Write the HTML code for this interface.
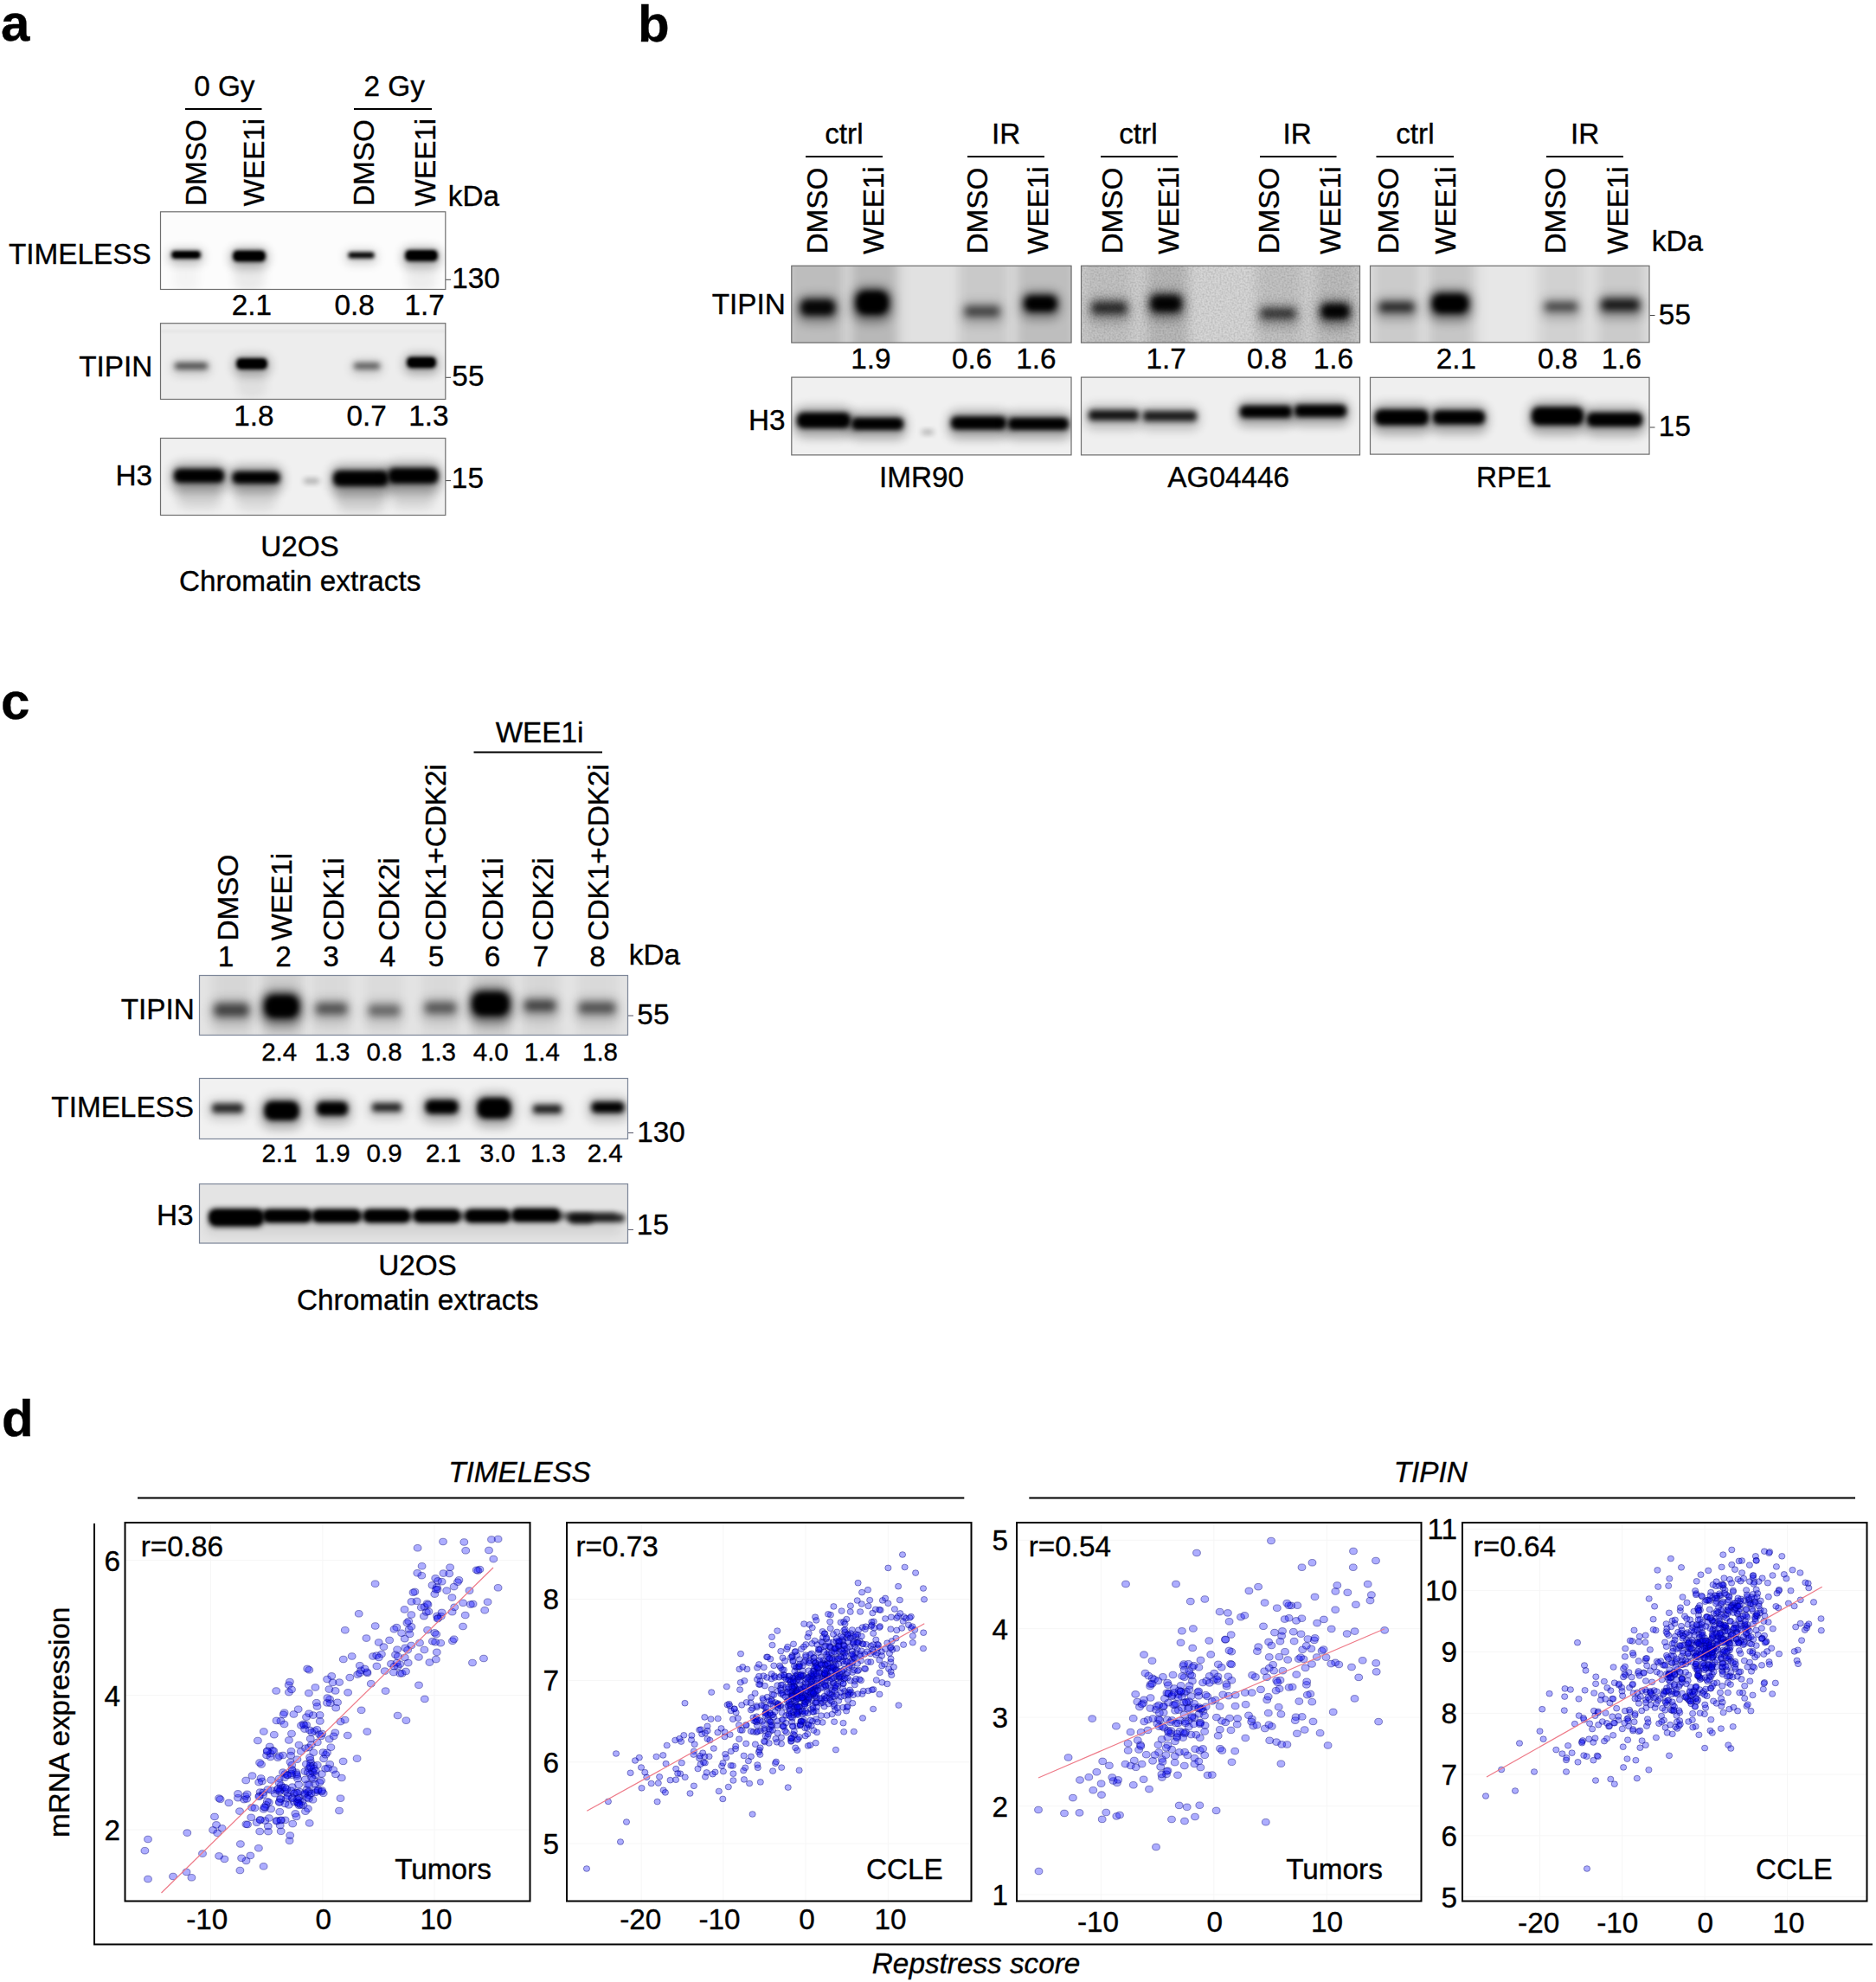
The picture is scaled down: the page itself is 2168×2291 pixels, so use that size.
<!DOCTYPE html>
<html><head><meta charset="utf-8"><title>Figure</title>
<style>
html,body{margin:0;padding:0;background:#fff}
svg{display:block}
text{font-family:"Liberation Sans",Arial,Helvetica,sans-serif;font-size:33.3px;fill:#000;stroke:#000;stroke-width:0.35px}
.b{font-weight:bold;font-size:60px}
.i{font-style:italic}
</style></head><body>
<svg width="2168" height="2291" viewBox="0 0 2168 2291">
<defs>
<filter id="b1" x="-30%" y="-100%" width="160%" height="300%"><feGaussianBlur stdDeviation="1.5"/></filter>
<filter id="b2" x="-30%" y="-100%" width="160%" height="300%"><feGaussianBlur stdDeviation="2.2"/></filter>
<filter id="b3" x="-30%" y="-100%" width="160%" height="300%"><feGaussianBlur stdDeviation="3"/></filter>
<filter id="b4" x="-40%" y="-150%" width="180%" height="400%"><feGaussianBlur stdDeviation="4"/></filter>
<filter id="b6" x="-50%" y="-200%" width="200%" height="500%"><feGaussianBlur stdDeviation="6"/></filter>
<filter id="b9" x="-60%" y="-250%" width="220%" height="600%"><feGaussianBlur stdDeviation="9"/></filter>
<filter id="noise" x="0" y="0" width="100%" height="100%"><feTurbulence type="fractalNoise" baseFrequency="0.5" numOctaves="2" seed="3"/><feColorMatrix type="matrix" values="0 0 0 0 0  0 0 0 0 0  0 0 0 0 0  1.6 0 0 0 -0.55"/></filter>
</defs>
<rect width="2168" height="2291" fill="#fff"/>

<text class="b" x="1" y="46.5">a</text>
<text class="b" x="737" y="47.5">b</text>
<text class="b" x="1" y="831">c</text>
<text class="b" x="2" y="1660">d</text>
<text x="224.203" y="111">0 Gy</text>
<line x1="214" y1="126" x2="302.5" y2="126" stroke="#000" stroke-width="2"/>
<text x="420.536" y="111">2 Gy</text>
<line x1="409" y1="126" x2="499" y2="126" stroke="#000" stroke-width="2"/>
<text transform="translate(237.5,238) rotate(-90)">DMSO</text>
<text transform="translate(304.5,238.5) rotate(-90)">WEE1i</text>
<text transform="translate(432,238) rotate(-90)">DMSO</text>
<text transform="translate(503,238.5) rotate(-90)">WEE1i</text>
<text x="517.752" y="238">kDa</text>
<text x="10.03" y="304.8">TIMELESS</text>
<text x="91.2657" y="434.5">TIPIN</text>
<text x="133.474" y="560.6">H3</text>
<line x1="515" y1="323.3" x2="521" y2="323.3" stroke="#444" stroke-width="1"/>
<text x="522.221" y="333">130</text>
<line x1="515" y1="436.3" x2="521" y2="436.3" stroke="#444" stroke-width="1"/>
<text x="522.369" y="445.7">55</text>
<line x1="515" y1="555.6" x2="521" y2="555.6" stroke="#444" stroke-width="1"/>
<text x="521.869" y="564">15</text>
<text x="267.815" y="363.7">2.1</text>
<text x="386.398" y="363.7">0.8</text>
<text x="467.44" y="363.7">1.7</text>
<text x="270.315" y="491.6">1.8</text>
<text x="400.523" y="491.6">0.7</text>
<text x="472.315" y="491.6">1.3</text>
<text x="301.171" y="642.5">U2OS</text>
<text x="207.015" y="682.5">Chromatin extracts</text>
<clipPath id="c1"><rect x="185" y="244.3" width="330.3" height="90.7"/></clipPath>
<g clip-path="url(#c1)">
<rect x="185" y="244.3" width="330.3" height="90.7" fill="#fcfcfc"/>
<rect x="270" y="298" width="36" height="40" rx="13.68" opacity="0.07" filter="url(#b6)"/>
<rect x="469" y="298" width="36" height="40" rx="13.68" opacity="0.06" filter="url(#b6)"/>
<rect x="200" y="298" width="30" height="40" rx="11.4" opacity="0.03" filter="url(#b6)"/>
<rect x="195" y="288" width="40" height="17" rx="6.46" opacity="0.25" filter="url(#b6)"/>
<rect x="198" y="290" width="34" height="9" rx="3.42" opacity="1" filter="url(#b2)"/>
<rect x="266" y="286.5" width="44" height="23" rx="8.74" opacity="0.3" filter="url(#b6)"/>
<rect x="269" y="289.5" width="38" height="13" rx="4.94" opacity="1" filter="url(#b2)"/>
<rect x="399.5" y="289.5" width="36" height="15" rx="5.7" opacity="0.2" filter="url(#b6)"/>
<rect x="402.5" y="291.5" width="30" height="7" rx="2.66" opacity="1" filter="url(#b2)"/>
<rect x="465" y="286" width="44" height="23" rx="8.74" opacity="0.3" filter="url(#b6)"/>
<rect x="468" y="289" width="38" height="13" rx="4.94" opacity="1" filter="url(#b2)"/>
<rect x="201" y="292" width="28" height="5" rx="1.9" opacity="1" filter="url(#b1)"/>
<rect x="272" y="292" width="32" height="8" rx="3.04" opacity="1" filter="url(#b1)"/>
<rect x="471" y="291" width="32" height="8" rx="3.04" opacity="1" filter="url(#b1)"/>
</g>
<rect x="185.5" y="244.8" width="329.3" height="89.7" fill="none" stroke="#6e6e6e" stroke-width="1.2"/>
<clipPath id="c2"><rect x="185" y="373.2" width="330.3" height="88.8"/></clipPath>
<g clip-path="url(#c2)">
<rect x="185" y="373.2" width="330.3" height="88.8" fill="#ededed"/>
<rect x="199" y="416.5" width="44" height="17" rx="6.46" opacity="0.17" filter="url(#b6)"/>
<rect x="202" y="419.5" width="38" height="7" rx="2.66" opacity="0.68" filter="url(#b3)"/>
<rect x="274" y="424" width="34" height="36" rx="12.92" opacity="0.06" filter="url(#b6)"/>
<rect x="270" y="411" width="42" height="23" rx="8.74" opacity="0.3" filter="url(#b6)"/>
<rect x="273" y="414" width="36" height="13" rx="4.94" opacity="1" filter="url(#b2)"/>
<rect x="276" y="416.5" width="30" height="8" rx="3.04" opacity="1" filter="url(#b1)"/>
<rect x="406" y="416.5" width="36" height="17" rx="6.46" opacity="0.15" filter="url(#b6)"/>
<rect x="409" y="419.5" width="30" height="7" rx="2.66" opacity="0.6" filter="url(#b3)"/>
<rect x="467" y="409.5" width="40" height="23" rx="8.74" opacity="0.3" filter="url(#b6)"/>
<rect x="470" y="412.5" width="34" height="13" rx="4.94" opacity="1" filter="url(#b2)"/>
<rect x="473" y="415" width="28" height="8" rx="3.04" opacity="1" filter="url(#b1)"/>
<rect x="185" y="382" width="330" height="2" rx="0.76" opacity="0.05" filter="url(#b1)"/>
</g>
<rect x="185.5" y="373.7" width="329.3" height="87.8" fill="none" stroke="#6e6e6e" stroke-width="1.2"/>
<clipPath id="c3"><rect x="185" y="506" width="330.3" height="90"/></clipPath>
<g clip-path="url(#c3)">
<rect x="185" y="506" width="330.3" height="90" fill="#f0f0f0"/>
<rect x="204" y="553" width="52" height="34" rx="12.92" opacity="0.12" filter="url(#b6)"/>
<rect x="272" y="555" width="48" height="34" rx="12.92" opacity="0.1" filter="url(#b6)"/>
<rect x="388" y="557" width="58" height="34" rx="12.92" opacity="0.14" filter="url(#b6)"/>
<rect x="451" y="553" width="52" height="34" rx="12.92" opacity="0.12" filter="url(#b6)"/>
<rect x="197" y="535" width="66" height="34" rx="12.92" opacity="0.3" filter="url(#b6)"/>
<rect x="201" y="542" width="58" height="16" rx="6.08" opacity="1" filter="url(#b3)"/>
<rect x="205" y="546" width="50" height="8" rx="3.04" opacity="1" filter="url(#b3)"/>
<rect x="264.5" y="538" width="63" height="32" rx="12.16" opacity="0.3" filter="url(#b6)"/>
<rect x="268.5" y="545" width="55" height="14" rx="5.32" opacity="1" filter="url(#b3)"/>
<rect x="272.5" y="549" width="47" height="6" rx="2.28" opacity="1" filter="url(#b3)"/>
<rect x="351" y="553.5" width="18" height="5" rx="1.9" opacity="0.35" filter="url(#b3)"/>
<rect x="381" y="537" width="72" height="36" rx="13.68" opacity="0.3" filter="url(#b6)"/>
<rect x="385" y="544" width="64" height="18" rx="6.84" opacity="1" filter="url(#b3)"/>
<rect x="389" y="548" width="56" height="10" rx="3.8" opacity="1" filter="url(#b3)"/>
<rect x="444.5" y="534" width="66" height="36" rx="13.68" opacity="0.3" filter="url(#b6)"/>
<rect x="448.5" y="541" width="58" height="18" rx="6.84" opacity="1" filter="url(#b3)"/>
<rect x="452.5" y="545" width="50" height="10" rx="3.8" opacity="1" filter="url(#b3)"/>
</g>
<rect x="185.5" y="506.5" width="329.3" height="89" fill="none" stroke="#6e6e6e" stroke-width="1.2"/>
<text x="953.23" y="166">ctrl</text>
<line x1="931" y1="181" x2="1020" y2="181" stroke="#000" stroke-width="2"/>
<text x="1293.23" y="166">ctrl</text>
<line x1="1272" y1="181" x2="1361" y2="181" stroke="#000" stroke-width="2"/>
<text x="1613.23" y="166">ctrl</text>
<line x1="1590.5" y1="181" x2="1680" y2="181" stroke="#000" stroke-width="2"/>
<text x="1146.1" y="166">IR</text>
<line x1="1118" y1="181" x2="1207" y2="181" stroke="#000" stroke-width="2"/>
<text x="1482.6" y="166">IR</text>
<line x1="1456" y1="181" x2="1544.5" y2="181" stroke="#000" stroke-width="2"/>
<text x="1815.1" y="166">IR</text>
<line x1="1787" y1="181" x2="1876" y2="181" stroke="#000" stroke-width="2"/>
<text transform="translate(955.5,293.5) rotate(-90)">DMSO</text>
<text transform="translate(1140.5,293.5) rotate(-90)">DMSO</text>
<text transform="translate(1296.5,293.5) rotate(-90)">DMSO</text>
<text transform="translate(1477.5,293.5) rotate(-90)">DMSO</text>
<text transform="translate(1615.5,293.5) rotate(-90)">DMSO</text>
<text transform="translate(1809,293.5) rotate(-90)">DMSO</text>
<text transform="translate(1021,294) rotate(-90)">WEE1i</text>
<text transform="translate(1211,294) rotate(-90)">WEE1i</text>
<text transform="translate(1362,294) rotate(-90)">WEE1i</text>
<text transform="translate(1549,294) rotate(-90)">WEE1i</text>
<text transform="translate(1682,294) rotate(-90)">WEE1i</text>
<text transform="translate(1880.5,294) rotate(-90)">WEE1i</text>
<text x="1908.75" y="290">kDa</text>
<text x="822.666" y="362.5">TIPIN</text>
<text x="864.875" y="496.5">H3</text>
<line x1="1906.5" y1="364.5" x2="1912.5" y2="364.5" stroke="#444" stroke-width="1"/>
<text x="1916.87" y="374.5">55</text>
<line x1="1906.5" y1="494" x2="1912.5" y2="494" stroke="#444" stroke-width="1"/>
<text x="1916.87" y="504">15</text>
<text x="983.357" y="426">1.9</text>
<text x="1099.9" y="426">0.6</text>
<text x="1174.32" y="426">1.6</text>
<text x="1324.44" y="426">1.7</text>
<text x="1440.9" y="426">0.8</text>
<text x="1517.82" y="426">1.6</text>
<text x="1659.81" y="426">2.1</text>
<text x="1776.9" y="426">0.8</text>
<text x="1850.82" y="426">1.6</text>
<text x="1016.05" y="562.5">IMR90</text>
<text x="1349.32" y="562.5">AG04446</text>
<text x="1705.96" y="562.5">RPE1</text>
<clipPath id="c4"><rect x="914.3" y="306.8" width="324.2" height="89.8"/></clipPath>
<g clip-path="url(#c4)">
<rect x="914.3" y="306.8" width="324.2" height="89.8" fill="#d9d9d9"/>
<rect x="912" y="296" width="62" height="110" fill="#000" opacity="0.13" filter="url(#b6)"/><rect x="984" y="296" width="52" height="110" fill="#000" opacity="0.15" filter="url(#b6)"/><rect x="1045" y="296" width="60" height="110" fill="#fff" opacity="0.22" filter="url(#b6)"/><rect x="1110" y="296" width="54" height="110" fill="#000" opacity="0.07" filter="url(#b6)"/><rect x="1176" y="296" width="66" height="110" fill="#000" opacity="0.12" filter="url(#b6)"/>
<rect x="920" y="340" width="50" height="35" rx="13.3" opacity="0.276" filter="url(#b6)"/>
<rect x="925" y="346" width="40" height="19" rx="7.22" opacity="0.92" filter="url(#b4)"/>
<rect x="929" y="350" width="32" height="11" rx="4.18" opacity="0.5" filter="url(#b3)"/>
<rect x="984" y="330" width="48" height="44" rx="16.72" opacity="0.35" filter="url(#b6)"/>
<rect x="989" y="336" width="38" height="28" rx="10.64" opacity="1" filter="url(#b4)"/>
<rect x="993" y="340" width="30" height="20" rx="7.6" opacity="1" filter="url(#b3)"/>
<rect x="1110" y="348" width="50" height="28" rx="10.64" opacity="0.18" filter="url(#b6)"/>
<rect x="1115" y="354" width="40" height="12" rx="4.56" opacity="0.6" filter="url(#b4)"/>
<rect x="1178.5" y="335.5" width="48" height="35" rx="13.3" opacity="0.3" filter="url(#b6)"/>
<rect x="1183.5" y="341.5" width="38" height="19" rx="7.22" opacity="1" filter="url(#b4)"/>
<rect x="1187.5" y="345.5" width="30" height="11" rx="4.18" opacity="0.8" filter="url(#b3)"/>
</g>
<rect x="914.8" y="307.3" width="323.2" height="88.8" fill="none" stroke="#6e6e6e" stroke-width="1.2"/>
<clipPath id="c5"><rect x="914.3" y="435.6" width="324.2" height="90.8"/></clipPath>
<g clip-path="url(#c5)">
<rect x="914.3" y="435.6" width="324.2" height="90.8" fill="#f0f0f0"/>
<rect x="917" y="470" width="70" height="36" rx="13.68" opacity="0.3" filter="url(#b6)"/>
<rect x="921" y="477" width="62" height="18" rx="6.84" opacity="1" filter="url(#b3)"/>
<rect x="925" y="481" width="54" height="10" rx="3.8" opacity="1" filter="url(#b3)"/>
<rect x="980" y="476" width="68" height="32" rx="12.16" opacity="0.3" filter="url(#b6)"/>
<rect x="984" y="483" width="60" height="14" rx="5.32" opacity="1" filter="url(#b3)"/>
<rect x="988" y="487" width="52" height="6" rx="2.28" opacity="1" filter="url(#b3)"/>
<rect x="1065" y="497" width="14" height="5" rx="1.9" opacity="0.3" filter="url(#b3)"/>
<rect x="1095" y="474.5" width="72" height="33" rx="12.54" opacity="0.3" filter="url(#b6)"/>
<rect x="1099" y="481.5" width="64" height="15" rx="5.7" opacity="1" filter="url(#b3)"/>
<rect x="1103" y="485.5" width="56" height="7" rx="2.66" opacity="1" filter="url(#b3)"/>
<rect x="1161" y="476" width="78" height="32" rx="12.16" opacity="0.3" filter="url(#b6)"/>
<rect x="1165" y="483" width="70" height="14" rx="5.32" opacity="1" filter="url(#b3)"/>
<rect x="1169" y="487" width="62" height="6" rx="2.28" opacity="1" filter="url(#b3)"/>
</g>
<rect x="914.8" y="436.1" width="323.2" height="89.8" fill="none" stroke="#6e6e6e" stroke-width="1.2"/>
<clipPath id="c6"><rect x="1249" y="306.8" width="323" height="89.8"/></clipPath>
<g clip-path="url(#c6)">
<rect x="1249" y="306.8" width="323" height="89.8" fill="#cecece"/>
<rect x="1255" y="296" width="50" height="110" fill="#000" opacity="0.05" filter="url(#b6)"/><rect x="1327" y="296" width="44" height="110" fill="#000" opacity="0.1" filter="url(#b6)"/><rect x="1378" y="296" width="70" height="110" fill="#fff" opacity="0.18" filter="url(#b6)"/><rect x="1455" y="296" width="46" height="110" fill="#000" opacity="0.05" filter="url(#b6)"/><rect x="1522" y="296" width="44" height="110" fill="#000" opacity="0.08" filter="url(#b6)"/>
<rect x="1257" y="343" width="50" height="30" rx="11.4" opacity="0.216" filter="url(#b6)"/>
<rect x="1262" y="349" width="40" height="14" rx="5.32" opacity="0.72" filter="url(#b4)"/>
<rect x="1324.5" y="335" width="46" height="36" rx="13.68" opacity="0.285" filter="url(#b6)"/>
<rect x="1329.5" y="341" width="36" height="20" rx="7.6" opacity="0.95" filter="url(#b4)"/>
<rect x="1333.5" y="345" width="28" height="12" rx="4.56" opacity="0.5" filter="url(#b3)"/>
<rect x="1452" y="350.5" width="50" height="28" rx="10.64" opacity="0.198" filter="url(#b6)"/>
<rect x="1457" y="356.5" width="40" height="12" rx="4.56" opacity="0.66" filter="url(#b4)"/>
<rect x="1521.5" y="345" width="43" height="34" rx="12.92" opacity="0.285" filter="url(#b6)"/>
<rect x="1526.5" y="351" width="33" height="18" rx="6.84" opacity="0.95" filter="url(#b4)"/>
<rect x="1530.5" y="355" width="25" height="10" rx="3.8" opacity="0.6" filter="url(#b3)"/>
<rect x="1249" y="306.8" width="323" height="89.8" filter="url(#noise)" opacity="0.16"/>
</g>
<rect x="1249.5" y="307.3" width="322" height="88.8" fill="none" stroke="#6e6e6e" stroke-width="1.2"/>
<clipPath id="c7"><rect x="1249" y="435.6" width="323" height="90.8"/></clipPath>
<g clip-path="url(#c7)">
<rect x="1249" y="435.6" width="323" height="90.8" fill="#efefef"/>
<rect x="1254" y="468" width="66" height="28" rx="10.64" opacity="0.225" filter="url(#b6)"/>
<rect x="1258" y="474" width="58" height="12" rx="4.56" opacity="0.9" filter="url(#b3)"/>
<rect x="1317" y="469" width="70" height="28" rx="10.64" opacity="0.2125" filter="url(#b6)"/>
<rect x="1321" y="475" width="62" height="12" rx="4.56" opacity="0.85" filter="url(#b3)"/>
<rect x="1429" y="463" width="68" height="30" rx="11.4" opacity="0.3" filter="url(#b6)"/>
<rect x="1433" y="469" width="60" height="14" rx="5.32" opacity="1" filter="url(#b3)"/>
<rect x="1437" y="473" width="52" height="6" rx="2.28" opacity="0.8" filter="url(#b3)"/>
<rect x="1492" y="462" width="68" height="30" rx="11.4" opacity="0.3" filter="url(#b6)"/>
<rect x="1496" y="468" width="60" height="14" rx="5.32" opacity="1" filter="url(#b3)"/>
<rect x="1500" y="472" width="52" height="6" rx="2.28" opacity="0.9" filter="url(#b3)"/>
</g>
<rect x="1249.5" y="436.1" width="322" height="89.8" fill="none" stroke="#6e6e6e" stroke-width="1.2"/>
<clipPath id="c8"><rect x="1583" y="306.8" width="323.5" height="89.4"/></clipPath>
<g clip-path="url(#c8)">
<rect x="1583" y="306.8" width="323.5" height="89.4" fill="#dddddd"/>
<rect x="1588" y="296" width="52" height="110" fill="#000" opacity="0.08" filter="url(#b6)"/><rect x="1652" y="296" width="50" height="110" fill="#000" opacity="0.1" filter="url(#b6)"/><rect x="1712" y="296" width="60" height="110" fill="#fff" opacity="0.3" filter="url(#b6)"/><rect x="1782" y="296" width="46" height="110" fill="#000" opacity="0.05" filter="url(#b6)"/><rect x="1848" y="296" width="52" height="110" fill="#000" opacity="0.08" filter="url(#b6)"/>
<rect x="1589" y="343.5" width="50" height="27" rx="10.26" opacity="0.234" filter="url(#b6)"/>
<rect x="1594" y="349.5" width="40" height="11" rx="4.18" opacity="0.78" filter="url(#b4)"/>
<rect x="1650" y="333.5" width="52" height="39" rx="14.82" opacity="0.35" filter="url(#b6)"/>
<rect x="1655" y="339.5" width="42" height="23" rx="8.74" opacity="1" filter="url(#b4)"/>
<rect x="1659" y="343.5" width="34" height="15" rx="5.7" opacity="0.9" filter="url(#b3)"/>
<rect x="1780.5" y="343.5" width="47" height="26" rx="9.88" opacity="0.186" filter="url(#b6)"/>
<rect x="1785.5" y="349.5" width="37" height="10" rx="3.8" opacity="0.62" filter="url(#b4)"/>
<rect x="1845.5" y="339.5" width="54" height="30" rx="11.4" opacity="0.255" filter="url(#b6)"/>
<rect x="1850.5" y="345.5" width="44" height="14" rx="5.32" opacity="0.85" filter="url(#b4)"/>
</g>
<rect x="1583.5" y="307.3" width="322.5" height="88.4" fill="none" stroke="#6e6e6e" stroke-width="1.2"/>
<clipPath id="c9"><rect x="1583" y="435.8" width="323.5" height="89.8"/></clipPath>
<g clip-path="url(#c9)">
<rect x="1583" y="435.8" width="323.5" height="89.8" fill="#efefef"/>
<rect x="1585" y="466.5" width="70" height="36" rx="13.68" opacity="0.3" filter="url(#b6)"/>
<rect x="1589" y="473.5" width="62" height="18" rx="6.84" opacity="1" filter="url(#b3)"/>
<rect x="1593" y="477.5" width="54" height="10" rx="3.8" opacity="1" filter="url(#b3)"/>
<rect x="1652" y="467.5" width="68" height="34" rx="12.92" opacity="0.3" filter="url(#b6)"/>
<rect x="1656" y="474.5" width="60" height="16" rx="6.08" opacity="1" filter="url(#b3)"/>
<rect x="1660" y="478.5" width="52" height="8" rx="3.04" opacity="1" filter="url(#b3)"/>
<rect x="1766" y="463.5" width="68" height="39" rx="14.82" opacity="0.3" filter="url(#b6)"/>
<rect x="1770" y="470.5" width="60" height="21" rx="7.98" opacity="1" filter="url(#b3)"/>
<rect x="1774" y="474.5" width="52" height="13" rx="4.94" opacity="1" filter="url(#b3)"/>
<rect x="1830" y="470" width="72" height="34" rx="12.92" opacity="0.3" filter="url(#b6)"/>
<rect x="1834" y="477" width="64" height="16" rx="6.08" opacity="1" filter="url(#b3)"/>
<rect x="1838" y="481" width="56" height="8" rx="3.04" opacity="1" filter="url(#b3)"/>
</g>
<rect x="1583.5" y="436.3" width="322.5" height="88.8" fill="none" stroke="#6e6e6e" stroke-width="1.2"/>
<text x="572.633" y="858">WEE1i</text>
<line x1="547.5" y1="869.5" x2="696" y2="869.5" stroke="#000" stroke-width="2"/>
<text transform="translate(274.5,1087.5) rotate(-90)">DMSO</text>
<text transform="translate(337,1087.5) rotate(-90)">WEE1i</text>
<text transform="translate(397,1087.5) rotate(-90)">CDK1i</text>
<text transform="translate(460.5,1087.5) rotate(-90)">CDK2i</text>
<text transform="translate(515,1087.5) rotate(-90)">CDK1+CDK2i</text>
<text transform="translate(580.5,1087.5) rotate(-90)">CDK1i</text>
<text transform="translate(638.5,1087.5) rotate(-90)">CDK2i</text>
<text transform="translate(702.5,1087.5) rotate(-90)">CDK1+CDK2i</text>
<text x="251.801" y="1117">1</text>
<text x="318.259" y="1117">2</text>
<text x="373.342" y="1117">3</text>
<text x="438.842" y="1117">4</text>
<text x="494.759" y="1117">5</text>
<text x="559.634" y="1117">6</text>
<text x="615.718" y="1117">7</text>
<text x="681.259" y="1117">8</text>
<text x="726.752" y="1115">kDa</text>
<text x="139.666" y="1177.5">TIPIN</text>
<text x="59.33" y="1291">TIMELESS</text>
<text x="180.875" y="1416">H3</text>
<line x1="726" y1="1174" x2="732" y2="1174" stroke="#556" stroke-width="1"/>
<text x="736.369" y="1184">55</text>
<line x1="726" y1="1309.5" x2="732" y2="1309.5" stroke="#556" stroke-width="1"/>
<text x="736.221" y="1319.5">130</text>
<line x1="726" y1="1421.4" x2="732" y2="1421.4" stroke="#556" stroke-width="1"/>
<text x="735.869" y="1426.5">15</text>
<text x="302.166" y="1225.5" style="font-size:29.5px">2.4</text>
<text x="363.518" y="1225.5" style="font-size:29.5px">1.3</text>
<text x="423.534" y="1225.5" style="font-size:29.5px">0.8</text>
<text x="486.018" y="1225.5" style="font-size:29.5px">1.3</text>
<text x="546.719" y="1225.5" style="font-size:29.5px">4.0</text>
<text x="605.797" y="1225.5" style="font-size:29.5px">1.4</text>
<text x="673.018" y="1225.5" style="font-size:29.5px">1.8</text>
<text x="302.461" y="1342.5" style="font-size:29.5px">2.1</text>
<text x="363.555" y="1342.5" style="font-size:29.5px">1.9</text>
<text x="423.571" y="1342.5" style="font-size:29.5px">0.9</text>
<text x="491.961" y="1342.5" style="font-size:29.5px">2.1</text>
<text x="554.497" y="1342.5" style="font-size:29.5px">3.0</text>
<text x="613.018" y="1342.5" style="font-size:29.5px">1.3</text>
<text x="678.666" y="1342.5" style="font-size:29.5px">2.4</text>
<text x="437.171" y="1474">U2OS</text>
<text x="343.015" y="1514">Chromatin extracts</text>
<clipPath id="c10"><rect x="230" y="1127" width="496" height="70"/></clipPath>
<g clip-path="url(#c10)">
<rect x="230" y="1127" width="496" height="70" fill="#e3e3e3"/>
<rect x="245" y="1117" width="46" height="90" fill="#000" opacity="0.05" filter="url(#b6)"/><rect x="303" y="1117" width="46" height="90" fill="#000" opacity="0.09" filter="url(#b6)"/><rect x="362" y="1117" width="42" height="90" fill="#000" opacity="0.04" filter="url(#b6)"/><rect x="423" y="1117" width="42" height="90" fill="#000" opacity="0.03" filter="url(#b6)"/><rect x="488" y="1117" width="42" height="90" fill="#000" opacity="0.04" filter="url(#b6)"/><rect x="545" y="1117" width="46" height="90" fill="#000" opacity="0.09" filter="url(#b6)"/><rect x="604" y="1117" width="42" height="90" fill="#000" opacity="0.05" filter="url(#b6)"/><rect x="668" y="1117" width="46" height="90" fill="#000" opacity="0.04" filter="url(#b6)"/>
<rect x="242.5" y="1154" width="50" height="31" rx="11.78" opacity="0.186" filter="url(#b6)"/>
<rect x="247.5" y="1160" width="40" height="15" rx="5.7" opacity="0.62" filter="url(#b4)"/>
<rect x="300.5" y="1144" width="50" height="43" rx="16.34" opacity="0.4" filter="url(#b6)"/>
<rect x="305.5" y="1150" width="40" height="27" rx="10.26" opacity="1" filter="url(#b4)"/>
<rect x="309.5" y="1154" width="32" height="19" rx="7.22" opacity="1" filter="url(#b3)"/>
<rect x="360" y="1153.5" width="46" height="29" rx="11.02" opacity="0.165" filter="url(#b6)"/>
<rect x="365" y="1159.5" width="36" height="13" rx="4.94" opacity="0.55" filter="url(#b4)"/>
<rect x="421" y="1155.5" width="46" height="29" rx="11.02" opacity="0.135" filter="url(#b6)"/>
<rect x="426" y="1161.5" width="36" height="13" rx="4.94" opacity="0.45" filter="url(#b4)"/>
<rect x="486" y="1152.5" width="46" height="29" rx="11.02" opacity="0.156" filter="url(#b6)"/>
<rect x="491" y="1158.5" width="36" height="13" rx="4.94" opacity="0.52" filter="url(#b4)"/>
<rect x="540.5" y="1140.5" width="53" height="44" rx="16.72" opacity="0.4" filter="url(#b6)"/>
<rect x="545.5" y="1146.5" width="43" height="28" rx="10.64" opacity="1" filter="url(#b4)"/>
<rect x="549.5" y="1150.5" width="35" height="20" rx="7.6" opacity="1" filter="url(#b3)"/>
<rect x="601" y="1150" width="46" height="29" rx="11.02" opacity="0.186" filter="url(#b6)"/>
<rect x="606" y="1156" width="36" height="13" rx="4.94" opacity="0.62" filter="url(#b4)"/>
<rect x="664" y="1152.5" width="52" height="29" rx="11.02" opacity="0.165" filter="url(#b6)"/>
<rect x="669" y="1158.5" width="42" height="13" rx="4.94" opacity="0.55" filter="url(#b4)"/>
</g>
<rect x="230.5" y="1127.5" width="495" height="69" fill="none" stroke="#7c8698" stroke-width="1.2"/>
<clipPath id="c11"><rect x="230" y="1246" width="496" height="71"/></clipPath>
<g clip-path="url(#c11)">
<rect x="230" y="1246" width="496" height="71" fill="#f1f1f1"/>
<rect x="240" y="1271.5" width="46" height="23" rx="8.74" opacity="0.16" filter="url(#b6)"/>
<rect x="245" y="1275.5" width="36" height="11" rx="4.18" opacity="0.8" filter="url(#b3)"/>
<rect x="300.5" y="1267" width="50" height="38" rx="14.44" opacity="0.3" filter="url(#b6)"/>
<rect x="305.5" y="1273" width="40" height="22" rx="8.36" opacity="1" filter="url(#b3)"/>
<rect x="309.5" y="1277" width="32" height="14" rx="5.32" opacity="1" filter="url(#b3)"/>
<rect x="361" y="1267.5" width="46" height="32" rx="12.16" opacity="0.25" filter="url(#b6)"/>
<rect x="366" y="1273.5" width="36" height="16" rx="6.08" opacity="1" filter="url(#b3)"/>
<rect x="370" y="1277.5" width="28" height="8" rx="3.04" opacity="0.8" filter="url(#b3)"/>
<rect x="425" y="1271" width="44" height="22" rx="8.36" opacity="0.164" filter="url(#b6)"/>
<rect x="430" y="1275" width="34" height="10" rx="3.8" opacity="0.82" filter="url(#b3)"/>
<rect x="486.5" y="1265.5" width="48" height="32" rx="12.16" opacity="0.25" filter="url(#b6)"/>
<rect x="491.5" y="1271.5" width="38" height="16" rx="6.08" opacity="1" filter="url(#b3)"/>
<rect x="495.5" y="1275.5" width="30" height="8" rx="3.04" opacity="0.8" filter="url(#b3)"/>
<rect x="546.5" y="1263" width="49" height="40" rx="15.2" opacity="0.3" filter="url(#b6)"/>
<rect x="551.5" y="1269" width="39" height="24" rx="9.12" opacity="1" filter="url(#b3)"/>
<rect x="555.5" y="1273" width="31" height="16" rx="6.08" opacity="1" filter="url(#b3)"/>
<rect x="611" y="1273" width="43" height="22" rx="8.36" opacity="0.17" filter="url(#b6)"/>
<rect x="616" y="1277" width="33" height="10" rx="3.8" opacity="0.85" filter="url(#b3)"/>
<rect x="678.5" y="1267.5" width="48" height="29" rx="11.02" opacity="0.2" filter="url(#b6)"/>
<rect x="683.5" y="1273.5" width="38" height="13" rx="4.94" opacity="1" filter="url(#b3)"/>
<rect x="687.5" y="1277.5" width="30" height="5" rx="1.9" opacity="0.5" filter="url(#b3)"/>
</g>
<rect x="230.5" y="1246.5" width="495" height="70" fill="none" stroke="#7c8698" stroke-width="1.2"/>
<clipPath id="c12"><rect x="230" y="1368" width="496" height="69.5"/></clipPath>
<g clip-path="url(#c12)">
<rect x="230" y="1368" width="496" height="69.5" fill="#e4e4e4"/>
<rect x="238" y="1409" width="480" height="18" rx="6.84" opacity="0.07" filter="url(#b6)"/>
<rect x="243" y="1401.5" width="470" height="8" rx="3.04" opacity="0.55" filter="url(#b3)"/>
<rect x="241" y="1397" width="64" height="21" rx="7.98" opacity="1" filter="url(#b3)"/>
<rect x="244" y="1400.5" width="58" height="14" rx="5.32" opacity="1" filter="url(#b2)"/>
<rect x="304" y="1397.5" width="56" height="16" rx="6.08" opacity="1" filter="url(#b3)"/>
<rect x="307" y="1401" width="50" height="9" rx="3.42" opacity="1" filter="url(#b2)"/>
<rect x="361" y="1397.5" width="56" height="16" rx="6.08" opacity="1" filter="url(#b3)"/>
<rect x="364" y="1401" width="50" height="9" rx="3.42" opacity="1" filter="url(#b2)"/>
<rect x="420" y="1397.5" width="54" height="16" rx="6.08" opacity="1" filter="url(#b3)"/>
<rect x="423" y="1401" width="48" height="9" rx="3.42" opacity="1" filter="url(#b2)"/>
<rect x="478" y="1397.5" width="54" height="16" rx="6.08" opacity="1" filter="url(#b3)"/>
<rect x="481" y="1401" width="48" height="9" rx="3.42" opacity="1" filter="url(#b2)"/>
<rect x="537.5" y="1397.5" width="52" height="16" rx="6.08" opacity="1" filter="url(#b3)"/>
<rect x="540.5" y="1401" width="46" height="9" rx="3.42" opacity="1" filter="url(#b2)"/>
<rect x="591.5" y="1396.5" width="56" height="16" rx="6.08" opacity="1" filter="url(#b3)"/>
<rect x="594.5" y="1400" width="50" height="9" rx="3.42" opacity="1" filter="url(#b2)"/>
<rect x="656" y="1403.5" width="66" height="9" rx="3.42" opacity="0.85" filter="url(#b3)"/>
<rect x="659" y="1403.5" width="26" height="11" rx="4.18" opacity="0.6" filter="url(#b3)"/>
</g>
<rect x="230.5" y="1368.5" width="495" height="68.5" fill="none" stroke="#7c8698" stroke-width="1.2"/>
<text x="518.134" y="1713.3" class="i">TIMELESS</text>
<line x1="159" y1="1731.5" x2="1114.3" y2="1731.5" stroke="#000" stroke-width="2"/>
<text x="1610.66" y="1713.3" class="i">TIPIN</text>
<line x1="1189.3" y1="1731.5" x2="2144" y2="1731.5" stroke="#000" stroke-width="2"/>
<path d="M109 1761V2247.5H2164" fill="none" stroke="#000" stroke-width="2"/>
<text transform="translate(80,2124) rotate(-90)">mRNA expression</text>
<text x="1007.83" y="2281" class="i">Repstress score</text>
<line x1="243.6" y1="1760" x2="243.6" y2="2197.5" stroke="#f6f6f6" stroke-width="1"/>
<line x1="372.9" y1="1760" x2="372.9" y2="2197.5" stroke="#f6f6f6" stroke-width="1"/>
<line x1="502.1" y1="1760" x2="502.1" y2="2197.5" stroke="#f6f6f6" stroke-width="1"/>
<line x1="144.5" y1="1803.6" x2="612.5" y2="1803.6" stroke="#f6f6f6" stroke-width="1"/>
<line x1="144.5" y1="1959.6" x2="612.5" y2="1959.6" stroke="#f6f6f6" stroke-width="1"/>
<line x1="144.5" y1="2115.1" x2="612.5" y2="2115.1" stroke="#f6f6f6" stroke-width="1"/>
<g fill="#0000ff" fill-opacity="0.32" stroke="#000078" stroke-opacity="0.55" stroke-width="0.8">
<ellipse cx="313.1" cy="2091.0" rx="4.4" ry="3.8"/><ellipse cx="361.9" cy="2048.8" rx="4.4" ry="3.8"/><ellipse cx="310.8" cy="2083.3" rx="4.4" ry="3.8"/><ellipse cx="350.5" cy="2086.7" rx="4.4" ry="3.8"/><ellipse cx="313.3" cy="2057.5" rx="4.4" ry="3.8"/><ellipse cx="355.5" cy="2071.7" rx="4.4" ry="3.8"/><ellipse cx="373.7" cy="2072.8" rx="4.4" ry="3.8"/><ellipse cx="337.8" cy="2065.6" rx="4.4" ry="3.8"/><ellipse cx="396.6" cy="2035.9" rx="4.4" ry="3.8"/><ellipse cx="322.7" cy="2055.9" rx="4.4" ry="3.8"/><ellipse cx="342.1" cy="2071.9" rx="4.4" ry="3.8"/><ellipse cx="332.4" cy="2072.6" rx="4.4" ry="3.8"/><ellipse cx="346.0" cy="2080.8" rx="4.4" ry="3.8"/><ellipse cx="364.1" cy="2062.1" rx="4.4" ry="3.8"/><ellipse cx="300.6" cy="2103.7" rx="4.4" ry="3.8"/><ellipse cx="308.8" cy="2082.2" rx="4.4" ry="3.8"/><ellipse cx="307.6" cy="2086.3" rx="4.4" ry="3.8"/><ellipse cx="322.9" cy="2082.8" rx="4.4" ry="3.8"/><ellipse cx="412.6" cy="2032.7" rx="4.4" ry="3.8"/><ellipse cx="358.5" cy="2034.3" rx="4.4" ry="3.8"/><ellipse cx="333.7" cy="2086.4" rx="4.4" ry="3.8"/><ellipse cx="338.0" cy="2078.4" rx="4.4" ry="3.8"/><ellipse cx="342.3" cy="2048.7" rx="4.4" ry="3.8"/><ellipse cx="352.4" cy="2047.6" rx="4.4" ry="3.8"/><ellipse cx="381.2" cy="2039.3" rx="4.4" ry="3.8"/><ellipse cx="355.1" cy="2062.5" rx="4.4" ry="3.8"/><ellipse cx="361.0" cy="2047.5" rx="4.4" ry="3.8"/><ellipse cx="362.0" cy="2056.5" rx="4.4" ry="3.8"/><ellipse cx="367.8" cy="2068.6" rx="4.4" ry="3.8"/><ellipse cx="343.1" cy="2052.8" rx="4.4" ry="3.8"/><ellipse cx="356.9" cy="2070.9" rx="4.4" ry="3.8"/><ellipse cx="376.1" cy="2044.4" rx="4.4" ry="3.8"/><ellipse cx="352.2" cy="2074.1" rx="4.4" ry="3.8"/><ellipse cx="346.2" cy="2071.1" rx="4.4" ry="3.8"/><ellipse cx="344.0" cy="2056.0" rx="4.4" ry="3.8"/><ellipse cx="317.7" cy="2073.2" rx="4.4" ry="3.8"/><ellipse cx="353.0" cy="2093.7" rx="4.4" ry="3.8"/><ellipse cx="361.5" cy="2080.3" rx="4.4" ry="3.8"/><ellipse cx="357.1" cy="2075.4" rx="4.4" ry="3.8"/><ellipse cx="344.0" cy="2083.4" rx="4.4" ry="3.8"/><ellipse cx="379.0" cy="2043.9" rx="4.4" ry="3.8"/><ellipse cx="324.7" cy="2116.8" rx="4.4" ry="3.8"/><ellipse cx="345.4" cy="2086.7" rx="4.4" ry="3.8"/><ellipse cx="359.2" cy="2037.7" rx="4.4" ry="3.8"/><ellipse cx="393.5" cy="2078.7" rx="4.4" ry="3.8"/><ellipse cx="343.9" cy="2083.1" rx="4.4" ry="3.8"/><ellipse cx="342.8" cy="2050.9" rx="4.4" ry="3.8"/><ellipse cx="337.5" cy="2078.7" rx="4.4" ry="3.8"/><ellipse cx="364.5" cy="2071.9" rx="4.4" ry="3.8"/><ellipse cx="341.3" cy="2096.4" rx="4.4" ry="3.8"/><ellipse cx="323.3" cy="2094.2" rx="4.4" ry="3.8"/><ellipse cx="364.5" cy="2051.9" rx="4.4" ry="3.8"/><ellipse cx="300.6" cy="2071.6" rx="4.4" ry="3.8"/><ellipse cx="345.2" cy="2077.9" rx="4.4" ry="3.8"/><ellipse cx="374.1" cy="2032.9" rx="4.4" ry="3.8"/><ellipse cx="340.0" cy="2083.0" rx="4.4" ry="3.8"/><ellipse cx="336.5" cy="2024.3" rx="4.4" ry="3.8"/><ellipse cx="357.7" cy="2107.4" rx="4.4" ry="3.8"/><ellipse cx="362.1" cy="2040.6" rx="4.4" ry="3.8"/><ellipse cx="330.9" cy="2079.0" rx="4.4" ry="3.8"/><ellipse cx="394.8" cy="2055.0" rx="4.4" ry="3.8"/><ellipse cx="342.5" cy="2099.9" rx="4.4" ry="3.8"/><ellipse cx="338.2" cy="2108.1" rx="4.4" ry="3.8"/><ellipse cx="324.9" cy="2068.0" rx="4.4" ry="3.8"/><ellipse cx="355.9" cy="2090.6" rx="4.4" ry="3.8"/><ellipse cx="354.4" cy="2068.8" rx="4.4" ry="3.8"/><ellipse cx="299.9" cy="2075.8" rx="4.4" ry="3.8"/><ellipse cx="326.6" cy="2066.0" rx="4.4" ry="3.8"/><ellipse cx="352.9" cy="2056.8" rx="4.4" ry="3.8"/><ellipse cx="357.3" cy="2063.0" rx="4.4" ry="3.8"/><ellipse cx="332.7" cy="2076.0" rx="4.4" ry="3.8"/><ellipse cx="349.4" cy="2082.4" rx="4.4" ry="3.8"/><ellipse cx="329.5" cy="2070.6" rx="4.4" ry="3.8"/><ellipse cx="310.0" cy="2117.1" rx="4.4" ry="3.8"/><ellipse cx="371.9" cy="2050.5" rx="4.4" ry="3.8"/><ellipse cx="329.5" cy="2050.5" rx="4.4" ry="3.8"/><ellipse cx="343.7" cy="2072.3" rx="4.4" ry="3.8"/><ellipse cx="388.0" cy="2050.9" rx="4.4" ry="3.8"/><ellipse cx="322.9" cy="2029.7" rx="4.4" ry="3.8"/><ellipse cx="371.0" cy="2058.3" rx="4.4" ry="3.8"/><ellipse cx="304.6" cy="2091.3" rx="4.4" ry="3.8"/><ellipse cx="304.6" cy="2157.3" rx="4.4" ry="3.8"/><ellipse cx="364.6" cy="2069.1" rx="4.4" ry="3.8"/><ellipse cx="336.1" cy="2029.1" rx="4.4" ry="3.8"/><ellipse cx="337.2" cy="2040.3" rx="4.4" ry="3.8"/><ellipse cx="353.1" cy="2020.7" rx="4.4" ry="3.8"/><ellipse cx="320.0" cy="2104.4" rx="4.4" ry="3.8"/><ellipse cx="376.2" cy="2028.3" rx="4.4" ry="3.8"/><ellipse cx="306.3" cy="2104.5" rx="4.4" ry="3.8"/><ellipse cx="358.8" cy="2040.9" rx="4.4" ry="3.8"/><ellipse cx="324.7" cy="2063.8" rx="4.4" ry="3.8"/><ellipse cx="313.8" cy="2069.5" rx="4.4" ry="3.8"/><ellipse cx="367.5" cy="2070.0" rx="4.4" ry="3.8"/><ellipse cx="385.2" cy="2045.7" rx="4.4" ry="3.8"/><ellipse cx="337.0" cy="2051.8" rx="4.4" ry="3.8"/><ellipse cx="337.3" cy="2045.1" rx="4.4" ry="3.8"/><ellipse cx="300.9" cy="2103.5" rx="4.4" ry="3.8"/><ellipse cx="371.7" cy="2070.9" rx="4.4" ry="3.8"/><ellipse cx="369.3" cy="2060.4" rx="4.4" ry="3.8"/><ellipse cx="324.2" cy="2079.6" rx="4.4" ry="3.8"/><ellipse cx="331.8" cy="2051.9" rx="4.4" ry="3.8"/><ellipse cx="302.8" cy="2059.0" rx="4.4" ry="3.8"/><ellipse cx="339.9" cy="2073.1" rx="4.4" ry="3.8"/><ellipse cx="329.6" cy="2103.8" rx="4.4" ry="3.8"/><ellipse cx="343.9" cy="2079.7" rx="4.4" ry="3.8"/><ellipse cx="366.8" cy="2040.2" rx="4.4" ry="3.8"/><ellipse cx="296.7" cy="2106.7" rx="4.4" ry="3.8"/><ellipse cx="324.9" cy="2103.8" rx="4.4" ry="3.8"/><ellipse cx="347.4" cy="2086.4" rx="4.4" ry="3.8"/><ellipse cx="356.8" cy="2020.0" rx="4.4" ry="3.8"/><ellipse cx="355.8" cy="2048.6" rx="4.4" ry="3.8"/><ellipse cx="323.4" cy="2069.6" rx="4.4" ry="3.8"/><ellipse cx="356.9" cy="2079.2" rx="4.4" ry="3.8"/><ellipse cx="362.2" cy="2025.7" rx="4.4" ry="3.8"/><ellipse cx="327.0" cy="2029.0" rx="4.4" ry="3.8"/><ellipse cx="310.9" cy="2101.5" rx="4.4" ry="3.8"/><ellipse cx="284.4" cy="2108.7" rx="4.4" ry="3.8"/><ellipse cx="324.3" cy="2104.2" rx="4.4" ry="3.8"/><ellipse cx="282.1" cy="2080.1" rx="4.4" ry="3.8"/><ellipse cx="284.5" cy="2150.9" rx="4.4" ry="3.8"/><ellipse cx="358.6" cy="2050.2" rx="4.4" ry="3.8"/><ellipse cx="324.0" cy="2079.3" rx="4.4" ry="3.8"/><ellipse cx="323.1" cy="2070.9" rx="4.4" ry="3.8"/><ellipse cx="301.6" cy="2055.5" rx="4.4" ry="3.8"/><ellipse cx="289.3" cy="2144.9" rx="4.4" ry="3.8"/><ellipse cx="336.5" cy="2069.9" rx="4.4" ry="3.8"/><ellipse cx="306.4" cy="2089.3" rx="4.4" ry="3.8"/><ellipse cx="329.1" cy="2054.7" rx="4.4" ry="3.8"/><ellipse cx="322.9" cy="2083.6" rx="4.4" ry="3.8"/><ellipse cx="285.1" cy="2079.4" rx="4.4" ry="3.8"/><ellipse cx="275.0" cy="2078.2" rx="4.4" ry="3.8"/><ellipse cx="350.6" cy="1992.8" rx="4.4" ry="3.8"/><ellipse cx="304.3" cy="2071.8" rx="4.4" ry="3.8"/><ellipse cx="290.2" cy="2100.8" rx="4.4" ry="3.8"/><ellipse cx="360.1" cy="2054.8" rx="4.4" ry="3.8"/><ellipse cx="309.4" cy="2068.5" rx="4.4" ry="3.8"/><ellipse cx="309.8" cy="2110.9" rx="4.4" ry="3.8"/><ellipse cx="299.2" cy="2060.1" rx="4.4" ry="3.8"/><ellipse cx="264.4" cy="2083.9" rx="4.4" ry="3.8"/><ellipse cx="259.4" cy="2148.9" rx="4.4" ry="3.8"/><ellipse cx="329.2" cy="2066.1" rx="4.4" ry="3.8"/><ellipse cx="373.4" cy="2025.6" rx="4.4" ry="3.8"/><ellipse cx="345.1" cy="2084.8" rx="4.4" ry="3.8"/><ellipse cx="253.1" cy="2078.6" rx="4.4" ry="3.8"/><ellipse cx="277.9" cy="2131.5" rx="4.4" ry="3.8"/><ellipse cx="366.8" cy="2013.9" rx="4.4" ry="3.8"/><ellipse cx="356.9" cy="2044.0" rx="4.4" ry="3.8"/><ellipse cx="299.3" cy="2076.8" rx="4.4" ry="3.8"/><ellipse cx="302.0" cy="2039.5" rx="4.4" ry="3.8"/><ellipse cx="275.0" cy="2073.4" rx="4.4" ry="3.8"/><ellipse cx="334.6" cy="2127.7" rx="4.4" ry="3.8"/><ellipse cx="424.3" cy="2001.6" rx="4.4" ry="3.8"/><ellipse cx="246.1" cy="2115.4" rx="4.4" ry="3.8"/><ellipse cx="277.4" cy="2162.0" rx="4.4" ry="3.8"/><ellipse cx="337.8" cy="2046.8" rx="4.4" ry="3.8"/><ellipse cx="352.4" cy="2072.7" rx="4.4" ry="3.8"/><ellipse cx="250.0" cy="2109.4" rx="4.4" ry="3.8"/><ellipse cx="305.4" cy="2088.8" rx="4.4" ry="3.8"/><ellipse cx="320.3" cy="2069.1" rx="4.4" ry="3.8"/><ellipse cx="322.6" cy="2060.7" rx="4.4" ry="3.8"/><ellipse cx="279.1" cy="2147.8" rx="4.4" ry="3.8"/><ellipse cx="329.4" cy="2084.9" rx="4.4" ry="3.8"/><ellipse cx="251.2" cy="2118.8" rx="4.4" ry="3.8"/><ellipse cx="347.8" cy="2024.5" rx="4.4" ry="3.8"/><ellipse cx="358.9" cy="2042.6" rx="4.4" ry="3.8"/><ellipse cx="331.1" cy="2067.8" rx="4.4" ry="3.8"/><ellipse cx="323.7" cy="2110.0" rx="4.4" ry="3.8"/><ellipse cx="298.9" cy="2136.3" rx="4.4" ry="3.8"/><ellipse cx="283.7" cy="2076.2" rx="4.4" ry="3.8"/><ellipse cx="343.4" cy="2033.7" rx="4.4" ry="3.8"/><ellipse cx="300.2" cy="2117.0" rx="4.4" ry="3.8"/><ellipse cx="363.4" cy="2000.8" rx="4.4" ry="3.8"/><ellipse cx="335.2" cy="2121.6" rx="4.4" ry="3.8"/><ellipse cx="362.8" cy="2044.2" rx="4.4" ry="3.8"/><ellipse cx="291.0" cy="2089.3" rx="4.4" ry="3.8"/><ellipse cx="308.1" cy="2028.9" rx="4.4" ry="3.8"/><ellipse cx="351.6" cy="1994.2" rx="4.4" ry="3.8"/><ellipse cx="413.2" cy="1935.6" rx="4.4" ry="3.8"/><ellipse cx="294.4" cy="2089.9" rx="4.4" ry="3.8"/><ellipse cx="311.7" cy="2018.9" rx="4.4" ry="3.8"/><ellipse cx="354.0" cy="1984.7" rx="4.4" ry="3.8"/><ellipse cx="314.9" cy="2023.4" rx="4.4" ry="3.8"/><ellipse cx="458.3" cy="1881.1" rx="4.4" ry="3.8"/><ellipse cx="353.9" cy="2039.1" rx="4.4" ry="3.8"/><ellipse cx="393.5" cy="1990.1" rx="4.4" ry="3.8"/><ellipse cx="398.8" cy="1884.3" rx="4.4" ry="3.8"/><ellipse cx="321.1" cy="2031.7" rx="4.4" ry="3.8"/><ellipse cx="382.4" cy="2019.7" rx="4.4" ry="3.8"/><ellipse cx="381.1" cy="1964.2" rx="4.4" ry="3.8"/><ellipse cx="361.8" cy="1982.6" rx="4.4" ry="3.8"/><ellipse cx="371.1" cy="2006.9" rx="4.4" ry="3.8"/><ellipse cx="344.7" cy="1975.7" rx="4.4" ry="3.8"/><ellipse cx="321.5" cy="2067.2" rx="4.4" ry="3.8"/><ellipse cx="417.6" cy="1976.8" rx="4.4" ry="3.8"/><ellipse cx="398.6" cy="1988.1" rx="4.4" ry="3.8"/><ellipse cx="359.9" cy="2016.7" rx="4.4" ry="3.8"/><ellipse cx="312.7" cy="2027.1" rx="4.4" ry="3.8"/><ellipse cx="327.0" cy="2048.6" rx="4.4" ry="3.8"/><ellipse cx="333.9" cy="2011.5" rx="4.4" ry="3.8"/><ellipse cx="378.0" cy="2025.9" rx="4.4" ry="3.8"/><ellipse cx="324.4" cy="1989.3" rx="4.4" ry="3.8"/><ellipse cx="396.8" cy="1918.0" rx="4.4" ry="3.8"/><ellipse cx="380.4" cy="1952.6" rx="4.4" ry="3.8"/><ellipse cx="355.2" cy="1928.9" rx="4.4" ry="3.8"/><ellipse cx="392.1" cy="1944.6" rx="4.4" ry="3.8"/><ellipse cx="319.6" cy="2105.2" rx="4.4" ry="3.8"/><ellipse cx="392.0" cy="2093.0" rx="4.4" ry="3.8"/><ellipse cx="378.4" cy="1962.6" rx="4.4" ry="3.8"/><ellipse cx="364.8" cy="2047.1" rx="4.4" ry="3.8"/><ellipse cx="358.8" cy="2009.8" rx="4.4" ry="3.8"/><ellipse cx="383.2" cy="1937.4" rx="4.4" ry="3.8"/><ellipse cx="365.8" cy="1968.2" rx="4.4" ry="3.8"/><ellipse cx="304.0" cy="2074.7" rx="4.4" ry="3.8"/><ellipse cx="390.0" cy="1967.8" rx="4.4" ry="3.8"/><ellipse cx="319.2" cy="1954.5" rx="4.4" ry="3.8"/><ellipse cx="381.8" cy="1968.7" rx="4.4" ry="3.8"/><ellipse cx="284.2" cy="2058.0" rx="4.4" ry="3.8"/><ellipse cx="291.5" cy="2052.6" rx="4.4" ry="3.8"/><ellipse cx="366.4" cy="1999.3" rx="4.4" ry="3.8"/><ellipse cx="369.8" cy="1989.5" rx="4.4" ry="3.8"/><ellipse cx="308.7" cy="2024.0" rx="4.4" ry="3.8"/><ellipse cx="337.0" cy="2004.0" rx="4.4" ry="3.8"/><ellipse cx="372.2" cy="2004.0" rx="4.4" ry="3.8"/><ellipse cx="433.6" cy="1830.7" rx="4.4" ry="3.8"/><ellipse cx="378.0" cy="1968.4" rx="4.4" ry="3.8"/><ellipse cx="462.4" cy="1934.4" rx="4.4" ry="3.8"/><ellipse cx="285.6" cy="2073.8" rx="4.4" ry="3.8"/><ellipse cx="336.6" cy="2049.9" rx="4.4" ry="3.8"/><ellipse cx="312.5" cy="2031.0" rx="4.4" ry="3.8"/><ellipse cx="354.1" cy="1993.7" rx="4.4" ry="3.8"/><ellipse cx="333.7" cy="1947.7" rx="4.4" ry="3.8"/><ellipse cx="380.7" cy="2010.3" rx="4.4" ry="3.8"/><ellipse cx="356.9" cy="1957.1" rx="4.4" ry="3.8"/><ellipse cx="369.1" cy="2004.7" rx="4.4" ry="3.8"/><ellipse cx="352.1" cy="1998.6" rx="4.4" ry="3.8"/><ellipse cx="423.4" cy="1893.6" rx="4.4" ry="3.8"/><ellipse cx="334.9" cy="1944.1" rx="4.4" ry="3.8"/><ellipse cx="328.5" cy="1993.0" rx="4.4" ry="3.8"/><ellipse cx="316.8" cy="2005.2" rx="4.4" ry="3.8"/><ellipse cx="440.9" cy="1912.0" rx="4.4" ry="3.8"/><ellipse cx="354.9" cy="2078.0" rx="4.4" ry="3.8"/><ellipse cx="357.3" cy="1930.3" rx="4.4" ry="3.8"/><ellipse cx="378.1" cy="1941.0" rx="4.4" ry="3.8"/><ellipse cx="433.7" cy="1879.5" rx="4.4" ry="3.8"/><ellipse cx="333.9" cy="1956.1" rx="4.4" ry="3.8"/><ellipse cx="364.4" cy="1950.5" rx="4.4" ry="3.8"/><ellipse cx="357.1" cy="1980.7" rx="4.4" ry="3.8"/><ellipse cx="332.4" cy="2051.7" rx="4.4" ry="3.8"/><ellipse cx="402.1" cy="1956.4" rx="4.4" ry="3.8"/><ellipse cx="319.5" cy="1988.9" rx="4.4" ry="3.8"/><ellipse cx="372.1" cy="2069.5" rx="4.4" ry="3.8"/><ellipse cx="339.4" cy="1981.5" rx="4.4" ry="3.8"/><ellipse cx="328.6" cy="1979.7" rx="4.4" ry="3.8"/><ellipse cx="316.2" cy="2023.8" rx="4.4" ry="3.8"/><ellipse cx="424.5" cy="1933.9" rx="4.4" ry="3.8"/><ellipse cx="337.0" cy="1952.9" rx="4.4" ry="3.8"/><ellipse cx="369.6" cy="1982.4" rx="4.4" ry="3.8"/><ellipse cx="304.8" cy="2001.5" rx="4.4" ry="3.8"/><ellipse cx="358.1" cy="2031.2" rx="4.4" ry="3.8"/><ellipse cx="388.2" cy="1974.2" rx="4.4" ry="3.8"/><ellipse cx="345.5" cy="2017.0" rx="4.4" ry="3.8"/><ellipse cx="359.5" cy="2072.9" rx="4.4" ry="3.8"/><ellipse cx="309.0" cy="2024.2" rx="4.4" ry="3.8"/><ellipse cx="417.1" cy="1930.8" rx="4.4" ry="3.8"/><ellipse cx="424.1" cy="1932.7" rx="4.4" ry="3.8"/><ellipse cx="366.5" cy="1972.4" rx="4.4" ry="3.8"/><ellipse cx="297.9" cy="2012.0" rx="4.4" ry="3.8"/><ellipse cx="459.7" cy="1926.2" rx="4.4" ry="3.8"/><ellipse cx="387.3" cy="2002.8" rx="4.4" ry="3.8"/><ellipse cx="385.6" cy="2006.8" rx="4.4" ry="3.8"/><ellipse cx="348.0" cy="1994.5" rx="4.4" ry="3.8"/><ellipse cx="404.3" cy="1939.1" rx="4.4" ry="3.8"/><ellipse cx="300.1" cy="2037.5" rx="4.4" ry="3.8"/><ellipse cx="335.5" cy="2036.8" rx="4.4" ry="3.8"/><ellipse cx="327.6" cy="1981.9" rx="4.4" ry="3.8"/><ellipse cx="345.1" cy="2062.9" rx="4.4" ry="3.8"/><ellipse cx="357.8" cy="1999.9" rx="4.4" ry="3.8"/><ellipse cx="360.4" cy="2002.6" rx="4.4" ry="3.8"/><ellipse cx="401.8" cy="2006.0" rx="4.4" ry="3.8"/><ellipse cx="286.0" cy="2109.0" rx="4.4" ry="3.8"/><ellipse cx="489.9" cy="1868.2" rx="4.4" ry="3.8"/><ellipse cx="575.6" cy="1835.3" rx="4.4" ry="3.8"/><ellipse cx="444.7" cy="1931.6" rx="4.4" ry="3.8"/><ellipse cx="522.4" cy="1846.6" rx="4.4" ry="3.8"/><ellipse cx="387.6" cy="1954.4" rx="4.4" ry="3.8"/><ellipse cx="481.6" cy="1850.8" rx="4.4" ry="3.8"/><ellipse cx="570.3" cy="1802.1" rx="4.4" ry="3.8"/><ellipse cx="472.7" cy="1883.4" rx="4.4" ry="3.8"/><ellipse cx="455.5" cy="1883.2" rx="4.4" ry="3.8"/><ellipse cx="494.1" cy="1884.2" rx="4.4" ry="3.8"/><ellipse cx="467.7" cy="1894.2" rx="4.4" ry="3.8"/><ellipse cx="428.8" cy="1946.2" rx="4.4" ry="3.8"/><ellipse cx="457.0" cy="1912.7" rx="4.4" ry="3.8"/><ellipse cx="450.1" cy="1895.9" rx="4.4" ry="3.8"/><ellipse cx="499.5" cy="1832.4" rx="4.4" ry="3.8"/><ellipse cx="486.8" cy="1858.0" rx="4.4" ry="3.8"/><ellipse cx="560.2" cy="1861.3" rx="4.4" ry="3.8"/><ellipse cx="503.2" cy="1824.4" rx="4.4" ry="3.8"/><ellipse cx="467.8" cy="1916.0" rx="4.4" ry="3.8"/><ellipse cx="467.5" cy="1860.4" rx="4.4" ry="3.8"/><ellipse cx="437.7" cy="1898.5" rx="4.4" ry="3.8"/><ellipse cx="490.6" cy="1857.4" rx="4.4" ry="3.8"/><ellipse cx="490.8" cy="1963.9" rx="4.4" ry="3.8"/><ellipse cx="568.0" cy="1779.5" rx="4.4" ry="3.8"/><ellipse cx="505.1" cy="1867.9" rx="4.4" ry="3.8"/><ellipse cx="483.9" cy="1915.5" rx="4.4" ry="3.8"/><ellipse cx="475.4" cy="1880.3" rx="4.4" ry="3.8"/><ellipse cx="473.5" cy="1888.9" rx="4.4" ry="3.8"/><ellipse cx="546.6" cy="1854.0" rx="4.4" ry="3.8"/><ellipse cx="431.0" cy="1914.5" rx="4.4" ry="3.8"/><ellipse cx="454.9" cy="1933.1" rx="4.4" ry="3.8"/><ellipse cx="499.9" cy="1897.2" rx="4.4" ry="3.8"/><ellipse cx="487.3" cy="1821.2" rx="4.4" ry="3.8"/><ellipse cx="509.8" cy="1868.2" rx="4.4" ry="3.8"/><ellipse cx="512.4" cy="1818.6" rx="4.4" ry="3.8"/><ellipse cx="493.6" cy="1853.6" rx="4.4" ry="3.8"/><ellipse cx="459.8" cy="1914.7" rx="4.4" ry="3.8"/><ellipse cx="505.5" cy="1837.1" rx="4.4" ry="3.8"/><ellipse cx="414.7" cy="1865.3" rx="4.4" ry="3.8"/><ellipse cx="464.7" cy="1934.3" rx="4.4" ry="3.8"/><ellipse cx="487.6" cy="1810.3" rx="4.4" ry="3.8"/><ellipse cx="452.0" cy="1923.3" rx="4.4" ry="3.8"/><ellipse cx="563.6" cy="1851.7" rx="4.4" ry="3.8"/><ellipse cx="506.1" cy="1870.4" rx="4.4" ry="3.8"/><ellipse cx="443.4" cy="1903.6" rx="4.4" ry="3.8"/><ellipse cx="475.3" cy="1866.5" rx="4.4" ry="3.8"/><ellipse cx="492.8" cy="1863.5" rx="4.4" ry="3.8"/><ellipse cx="504.8" cy="1909.8" rx="4.4" ry="3.8"/><ellipse cx="522.6" cy="1863.2" rx="4.4" ry="3.8"/><ellipse cx="479.4" cy="1839.9" rx="4.4" ry="3.8"/><ellipse cx="485.0" cy="1899.1" rx="4.4" ry="3.8"/><ellipse cx="445.6" cy="1954.6" rx="4.4" ry="3.8"/><ellipse cx="475.3" cy="1902.0" rx="4.4" ry="3.8"/><ellipse cx="475.5" cy="1851.4" rx="4.4" ry="3.8"/><ellipse cx="530.4" cy="1826.4" rx="4.4" ry="3.8"/><ellipse cx="502.3" cy="1842.6" rx="4.4" ry="3.8"/><ellipse cx="471.7" cy="1922.1" rx="4.4" ry="3.8"/><ellipse cx="575.6" cy="1779.0" rx="4.4" ry="3.8"/><ellipse cx="490.4" cy="1907.0" rx="4.4" ry="3.8"/><ellipse cx="462.2" cy="1923.6" rx="4.4" ry="3.8"/><ellipse cx="455.5" cy="1926.1" rx="4.4" ry="3.8"/><ellipse cx="509.2" cy="1899.2" rx="4.4" ry="3.8"/><ellipse cx="506.0" cy="1827.4" rx="4.4" ry="3.8"/><ellipse cx="519.2" cy="1819.0" rx="4.4" ry="3.8"/><ellipse cx="523.0" cy="1896.8" rx="4.4" ry="3.8"/><ellipse cx="516.2" cy="1838.6" rx="4.4" ry="3.8"/><ellipse cx="542.5" cy="1838.6" rx="4.4" ry="3.8"/><ellipse cx="435.2" cy="1913.6" rx="4.4" ry="3.8"/><ellipse cx="552.4" cy="1815.5" rx="4.4" ry="3.8"/><ellipse cx="495.4" cy="1862.8" rx="4.4" ry="3.8"/><ellipse cx="415.8" cy="1925.2" rx="4.4" ry="3.8"/><ellipse cx="505.7" cy="1871.1" rx="4.4" ry="3.8"/><ellipse cx="482.3" cy="1818.3" rx="4.4" ry="3.8"/><ellipse cx="543.8" cy="1854.6" rx="4.4" ry="3.8"/><ellipse cx="535.0" cy="1880.0" rx="4.4" ry="3.8"/><ellipse cx="470.4" cy="1875.9" rx="4.4" ry="3.8"/><ellipse cx="503.8" cy="1918.1" rx="4.4" ry="3.8"/><ellipse cx="415.8" cy="1933.9" rx="4.4" ry="3.8"/><ellipse cx="458.5" cy="1922.1" rx="4.4" ry="3.8"/><ellipse cx="554.4" cy="1814.1" rx="4.4" ry="3.8"/><ellipse cx="435.4" cy="1925.9" rx="4.4" ry="3.8"/><ellipse cx="477.5" cy="1840.8" rx="4.4" ry="3.8"/><ellipse cx="528.9" cy="1828.7" rx="4.4" ry="3.8"/><ellipse cx="520.1" cy="1811.7" rx="4.4" ry="3.8"/><ellipse cx="538.2" cy="1792.3" rx="4.4" ry="3.8"/><ellipse cx="536.3" cy="1782.5" rx="4.4" ry="3.8"/><ellipse cx="550.7" cy="1814.8" rx="4.4" ry="3.8"/><ellipse cx="421.5" cy="1928.9" rx="4.4" ry="3.8"/><ellipse cx="504.8" cy="1834.7" rx="4.4" ry="3.8"/><ellipse cx="468.3" cy="1904.8" rx="4.4" ry="3.8"/><ellipse cx="482.6" cy="1789.3" rx="4.4" ry="3.8"/><ellipse cx="471.1" cy="1907.3" rx="4.4" ry="3.8"/><ellipse cx="503.1" cy="1898.2" rx="4.4" ry="3.8"/><ellipse cx="459.6" cy="1983.0" rx="4.4" ry="3.8"/><ellipse cx="525.2" cy="1857.8" rx="4.4" ry="3.8"/><ellipse cx="537.7" cy="1867.0" rx="4.4" ry="3.8"/><ellipse cx="494.5" cy="1854.9" rx="4.4" ry="3.8"/><ellipse cx="535.1" cy="1852.8" rx="4.4" ry="3.8"/><ellipse cx="406.7" cy="1914.5" rx="4.4" ry="3.8"/><ellipse cx="510.6" cy="1863.9" rx="4.4" ry="3.8"/><ellipse cx="502.3" cy="1887.4" rx="4.4" ry="3.8"/><ellipse cx="496.4" cy="1921.6" rx="4.4" ry="3.8"/><ellipse cx="464.1" cy="1887.7" rx="4.4" ry="3.8"/><ellipse cx="504.2" cy="1889.0" rx="4.4" ry="3.8"/><ellipse cx="524.7" cy="1894.7" rx="4.4" ry="3.8"/><ellipse cx="469.0" cy="1932.0" rx="4.4" ry="3.8"/><ellipse cx="510.6" cy="1828.2" rx="4.4" ry="3.8"/><ellipse cx="484.0" cy="1947.8" rx="4.4" ry="3.8"/><ellipse cx="524.6" cy="1834.1" rx="4.4" ry="3.8"/><ellipse cx="384.5" cy="1944.9" rx="4.4" ry="3.8"/><ellipse cx="459.1" cy="1906.7" rx="4.4" ry="3.8"/><ellipse cx="503.8" cy="1837.3" rx="4.4" ry="3.8"/><ellipse cx="437.8" cy="1915.9" rx="4.4" ry="3.8"/><ellipse cx="469.4" cy="1988.7" rx="4.4" ry="3.8"/><ellipse cx="472.2" cy="1874.0" rx="4.4" ry="3.8"/><ellipse cx="256.6" cy="2113.3" rx="4.4" ry="3.8"/><ellipse cx="216.3" cy="2118.6" rx="4.4" ry="3.8"/><ellipse cx="234.0" cy="2142.6" rx="4.4" ry="3.8"/><ellipse cx="215.5" cy="2163.9" rx="4.4" ry="3.8"/><ellipse cx="248.0" cy="2099.9" rx="4.4" ry="3.8"/><ellipse cx="167.4" cy="2139.2" rx="4.4" ry="3.8"/><ellipse cx="221.4" cy="2170.3" rx="4.4" ry="3.8"/><ellipse cx="253.1" cy="2145.4" rx="4.4" ry="3.8"/><ellipse cx="277.0" cy="2093.6" rx="4.4" ry="3.8"/><ellipse cx="254.6" cy="2079.8" rx="4.4" ry="3.8"/><ellipse cx="171.0" cy="2126.0" rx="4.4" ry="3.8"/><ellipse cx="171.0" cy="2172.0" rx="4.4" ry="3.8"/><ellipse cx="200.0" cy="2169.0" rx="4.4" ry="3.8"/><ellipse cx="512.0" cy="1782.0" rx="4.4" ry="3.8"/><ellipse cx="565.0" cy="1792.0" rx="4.4" ry="3.8"/><ellipse cx="546.0" cy="1922.0" rx="4.4" ry="3.8"/><ellipse cx="559.0" cy="1917.0" rx="4.4" ry="3.8"/>
</g>
<line x1="186.5" y1="2188" x2="570" y2="1812" stroke="#ee7a88" stroke-width="1.2"/>
<rect x="144.5" y="1760" width="468" height="437.5" fill="none" stroke="#000" stroke-width="2"/>
<text x="215.216" y="2229.5">-10</text>
<text x="364.418" y="2229.5">0</text>
<text x="485.394" y="2229.5">10</text>
<text x="139" y="1815.5" text-anchor="end">6</text>
<text x="139" y="1971.5" text-anchor="end">4</text>
<text x="139" y="2127" text-anchor="end">2</text>
<text x="162.752" y="1798.8">r=0.86</text>
<text x="456.227" y="2172">Tumors</text>
<line x1="741.2" y1="1760" x2="741.2" y2="2197.5" stroke="#f6f6f6" stroke-width="1"/>
<line x1="835.8" y1="1760" x2="835.8" y2="2197.5" stroke="#f6f6f6" stroke-width="1"/>
<line x1="931" y1="1760" x2="931" y2="2197.5" stroke="#f6f6f6" stroke-width="1"/>
<line x1="1026.4" y1="1760" x2="1026.4" y2="2197.5" stroke="#f6f6f6" stroke-width="1"/>
<line x1="655" y1="1848.5" x2="1122.5" y2="1848.5" stroke="#f6f6f6" stroke-width="1"/>
<line x1="655" y1="1942.5" x2="1122.5" y2="1942.5" stroke="#f6f6f6" stroke-width="1"/>
<line x1="655" y1="2036.8" x2="1122.5" y2="2036.8" stroke="#f6f6f6" stroke-width="1"/>
<line x1="655" y1="2131" x2="1122.5" y2="2131" stroke="#f6f6f6" stroke-width="1"/>
<g fill="#0000ff" fill-opacity="0.32" stroke="#000078" stroke-opacity="0.55" stroke-width="0.8">
<ellipse cx="955.0" cy="1929.4" rx="3.6" ry="3.35"/><ellipse cx="1052.9" cy="1881.9" rx="3.6" ry="3.35"/><ellipse cx="944.5" cy="1953.6" rx="3.6" ry="3.35"/><ellipse cx="920.9" cy="1935.6" rx="3.6" ry="3.35"/><ellipse cx="955.9" cy="1919.9" rx="3.6" ry="3.35"/><ellipse cx="965.2" cy="1920.3" rx="3.6" ry="3.35"/><ellipse cx="878.3" cy="1947.1" rx="3.6" ry="3.35"/><ellipse cx="909.3" cy="1906.2" rx="3.6" ry="3.35"/><ellipse cx="935.4" cy="1938.3" rx="3.6" ry="3.35"/><ellipse cx="969.4" cy="1898.3" rx="3.6" ry="3.35"/><ellipse cx="930.3" cy="1967.1" rx="3.6" ry="3.35"/><ellipse cx="962.8" cy="1898.1" rx="3.6" ry="3.35"/><ellipse cx="989.0" cy="1891.9" rx="3.6" ry="3.35"/><ellipse cx="978.1" cy="1909.0" rx="3.6" ry="3.35"/><ellipse cx="924.0" cy="1918.0" rx="3.6" ry="3.35"/><ellipse cx="933.8" cy="2018.0" rx="3.6" ry="3.35"/><ellipse cx="916.7" cy="2004.6" rx="3.6" ry="3.35"/><ellipse cx="982.6" cy="1903.3" rx="3.6" ry="3.35"/><ellipse cx="975.5" cy="1960.3" rx="3.6" ry="3.35"/><ellipse cx="927.9" cy="1936.3" rx="3.6" ry="3.35"/><ellipse cx="975.6" cy="1929.9" rx="3.6" ry="3.35"/><ellipse cx="1009.4" cy="1909.3" rx="3.6" ry="3.35"/><ellipse cx="899.4" cy="1969.9" rx="3.6" ry="3.35"/><ellipse cx="898.3" cy="1994.2" rx="3.6" ry="3.35"/><ellipse cx="961.7" cy="1916.8" rx="3.6" ry="3.35"/><ellipse cx="908.3" cy="1991.6" rx="3.6" ry="3.35"/><ellipse cx="925.4" cy="1989.6" rx="3.6" ry="3.35"/><ellipse cx="905.1" cy="1959.4" rx="3.6" ry="3.35"/><ellipse cx="919.8" cy="1927.0" rx="3.6" ry="3.35"/><ellipse cx="1029.5" cy="1932.3" rx="3.6" ry="3.35"/><ellipse cx="917.0" cy="1982.7" rx="3.6" ry="3.35"/><ellipse cx="877.6" cy="2023.0" rx="3.6" ry="3.35"/><ellipse cx="974.6" cy="1910.2" rx="3.6" ry="3.35"/><ellipse cx="926.3" cy="1960.3" rx="3.6" ry="3.35"/><ellipse cx="953.5" cy="1924.0" rx="3.6" ry="3.35"/><ellipse cx="909.6" cy="1956.8" rx="3.6" ry="3.35"/><ellipse cx="923.8" cy="1977.9" rx="3.6" ry="3.35"/><ellipse cx="941.2" cy="1950.0" rx="3.6" ry="3.35"/><ellipse cx="882.4" cy="1971.8" rx="3.6" ry="3.35"/><ellipse cx="925.1" cy="1938.8" rx="3.6" ry="3.35"/><ellipse cx="934.4" cy="1938.9" rx="3.6" ry="3.35"/><ellipse cx="887.1" cy="2007.5" rx="3.6" ry="3.35"/><ellipse cx="969.3" cy="1908.9" rx="3.6" ry="3.35"/><ellipse cx="959.4" cy="1903.4" rx="3.6" ry="3.35"/><ellipse cx="896.1" cy="1968.0" rx="3.6" ry="3.35"/><ellipse cx="990.7" cy="1906.6" rx="3.6" ry="3.35"/><ellipse cx="887.2" cy="1987.2" rx="3.6" ry="3.35"/><ellipse cx="919.4" cy="1937.1" rx="3.6" ry="3.35"/><ellipse cx="950.6" cy="1885.8" rx="3.6" ry="3.35"/><ellipse cx="878.5" cy="1943.3" rx="3.6" ry="3.35"/><ellipse cx="975.4" cy="1923.3" rx="3.6" ry="3.35"/><ellipse cx="918.6" cy="1939.0" rx="3.6" ry="3.35"/><ellipse cx="961.3" cy="1967.0" rx="3.6" ry="3.35"/><ellipse cx="914.8" cy="1969.7" rx="3.6" ry="3.35"/><ellipse cx="1018.8" cy="1909.1" rx="3.6" ry="3.35"/><ellipse cx="928.4" cy="1962.8" rx="3.6" ry="3.35"/><ellipse cx="943.2" cy="1962.5" rx="3.6" ry="3.35"/><ellipse cx="951.5" cy="1922.7" rx="3.6" ry="3.35"/><ellipse cx="935.6" cy="1959.1" rx="3.6" ry="3.35"/><ellipse cx="916.6" cy="1963.2" rx="3.6" ry="3.35"/><ellipse cx="908.9" cy="2002.6" rx="3.6" ry="3.35"/><ellipse cx="992.1" cy="1884.2" rx="3.6" ry="3.35"/><ellipse cx="968.3" cy="1930.9" rx="3.6" ry="3.35"/><ellipse cx="942.8" cy="1935.8" rx="3.6" ry="3.35"/><ellipse cx="948.8" cy="1968.8" rx="3.6" ry="3.35"/><ellipse cx="898.6" cy="2003.2" rx="3.6" ry="3.35"/><ellipse cx="930.9" cy="1919.2" rx="3.6" ry="3.35"/><ellipse cx="938.1" cy="1965.2" rx="3.6" ry="3.35"/><ellipse cx="936.8" cy="1956.0" rx="3.6" ry="3.35"/><ellipse cx="928.5" cy="1937.3" rx="3.6" ry="3.35"/><ellipse cx="973.4" cy="1895.1" rx="3.6" ry="3.35"/><ellipse cx="973.2" cy="1932.5" rx="3.6" ry="3.35"/><ellipse cx="930.5" cy="1945.1" rx="3.6" ry="3.35"/><ellipse cx="930.1" cy="1950.9" rx="3.6" ry="3.35"/><ellipse cx="938.3" cy="1942.3" rx="3.6" ry="3.35"/><ellipse cx="875.1" cy="1927.7" rx="3.6" ry="3.35"/><ellipse cx="951.3" cy="1919.2" rx="3.6" ry="3.35"/><ellipse cx="920.8" cy="1953.4" rx="3.6" ry="3.35"/><ellipse cx="903.0" cy="2015.6" rx="3.6" ry="3.35"/><ellipse cx="939.8" cy="1940.3" rx="3.6" ry="3.35"/><ellipse cx="904.7" cy="1995.1" rx="3.6" ry="3.35"/><ellipse cx="964.0" cy="1972.3" rx="3.6" ry="3.35"/><ellipse cx="969.7" cy="1901.4" rx="3.6" ry="3.35"/><ellipse cx="897.8" cy="2013.8" rx="3.6" ry="3.35"/><ellipse cx="917.4" cy="1957.6" rx="3.6" ry="3.35"/><ellipse cx="934.7" cy="1963.5" rx="3.6" ry="3.35"/><ellipse cx="958.2" cy="1902.9" rx="3.6" ry="3.35"/><ellipse cx="918.6" cy="1909.4" rx="3.6" ry="3.35"/><ellipse cx="958.5" cy="1928.1" rx="3.6" ry="3.35"/><ellipse cx="883.9" cy="2013.6" rx="3.6" ry="3.35"/><ellipse cx="940.3" cy="1915.8" rx="3.6" ry="3.35"/><ellipse cx="926.2" cy="1937.7" rx="3.6" ry="3.35"/><ellipse cx="943.4" cy="1949.0" rx="3.6" ry="3.35"/><ellipse cx="920.9" cy="1970.7" rx="3.6" ry="3.35"/><ellipse cx="854.0" cy="1993.9" rx="3.6" ry="3.35"/><ellipse cx="961.4" cy="1958.4" rx="3.6" ry="3.35"/><ellipse cx="966.5" cy="1897.2" rx="3.6" ry="3.35"/><ellipse cx="884.1" cy="1973.5" rx="3.6" ry="3.35"/><ellipse cx="1015.2" cy="1901.8" rx="3.6" ry="3.35"/><ellipse cx="915.5" cy="1913.6" rx="3.6" ry="3.35"/><ellipse cx="944.6" cy="1929.1" rx="3.6" ry="3.35"/><ellipse cx="956.3" cy="1939.7" rx="3.6" ry="3.35"/><ellipse cx="862.5" cy="1994.4" rx="3.6" ry="3.35"/><ellipse cx="965.8" cy="1910.6" rx="3.6" ry="3.35"/><ellipse cx="900.3" cy="1938.7" rx="3.6" ry="3.35"/><ellipse cx="896.0" cy="2038.2" rx="3.6" ry="3.35"/><ellipse cx="986.2" cy="1896.1" rx="3.6" ry="3.35"/><ellipse cx="984.8" cy="1884.0" rx="3.6" ry="3.35"/><ellipse cx="921.8" cy="1935.9" rx="3.6" ry="3.35"/><ellipse cx="933.4" cy="1968.4" rx="3.6" ry="3.35"/><ellipse cx="1006.3" cy="1921.1" rx="3.6" ry="3.35"/><ellipse cx="935.9" cy="1952.3" rx="3.6" ry="3.35"/><ellipse cx="932.0" cy="1961.1" rx="3.6" ry="3.35"/><ellipse cx="910.9" cy="1971.9" rx="3.6" ry="3.35"/><ellipse cx="954.4" cy="1962.3" rx="3.6" ry="3.35"/><ellipse cx="912.3" cy="1975.8" rx="3.6" ry="3.35"/><ellipse cx="948.6" cy="1915.7" rx="3.6" ry="3.35"/><ellipse cx="874.6" cy="1973.4" rx="3.6" ry="3.35"/><ellipse cx="968.0" cy="1917.7" rx="3.6" ry="3.35"/><ellipse cx="1013.9" cy="1910.6" rx="3.6" ry="3.35"/><ellipse cx="915.7" cy="1958.4" rx="3.6" ry="3.35"/><ellipse cx="954.4" cy="1948.8" rx="3.6" ry="3.35"/><ellipse cx="931.5" cy="1963.6" rx="3.6" ry="3.35"/><ellipse cx="1036.2" cy="1905.5" rx="3.6" ry="3.35"/><ellipse cx="944.7" cy="1928.0" rx="3.6" ry="3.35"/><ellipse cx="880.9" cy="1989.9" rx="3.6" ry="3.35"/><ellipse cx="925.9" cy="1952.9" rx="3.6" ry="3.35"/><ellipse cx="921.3" cy="1979.5" rx="3.6" ry="3.35"/><ellipse cx="974.4" cy="1901.3" rx="3.6" ry="3.35"/><ellipse cx="894.3" cy="1984.8" rx="3.6" ry="3.35"/><ellipse cx="984.5" cy="1926.2" rx="3.6" ry="3.35"/><ellipse cx="955.0" cy="1894.4" rx="3.6" ry="3.35"/><ellipse cx="921.1" cy="1974.1" rx="3.6" ry="3.35"/><ellipse cx="951.2" cy="1936.8" rx="3.6" ry="3.35"/><ellipse cx="957.8" cy="1956.9" rx="3.6" ry="3.35"/><ellipse cx="942.0" cy="1923.0" rx="3.6" ry="3.35"/><ellipse cx="893.2" cy="1982.3" rx="3.6" ry="3.35"/><ellipse cx="933.5" cy="1943.9" rx="3.6" ry="3.35"/><ellipse cx="975.3" cy="1901.9" rx="3.6" ry="3.35"/><ellipse cx="930.2" cy="1969.8" rx="3.6" ry="3.35"/><ellipse cx="910.2" cy="1903.6" rx="3.6" ry="3.35"/><ellipse cx="921.2" cy="1980.5" rx="3.6" ry="3.35"/><ellipse cx="919.4" cy="1951.5" rx="3.6" ry="3.35"/><ellipse cx="878.6" cy="2020.2" rx="3.6" ry="3.35"/><ellipse cx="882.1" cy="1964.9" rx="3.6" ry="3.35"/><ellipse cx="933.2" cy="2004.5" rx="3.6" ry="3.35"/><ellipse cx="942.7" cy="1922.2" rx="3.6" ry="3.35"/><ellipse cx="890.4" cy="1969.4" rx="3.6" ry="3.35"/><ellipse cx="899.0" cy="1954.7" rx="3.6" ry="3.35"/><ellipse cx="940.5" cy="1978.8" rx="3.6" ry="3.35"/><ellipse cx="903.0" cy="2008.4" rx="3.6" ry="3.35"/><ellipse cx="875.8" cy="2043.3" rx="3.6" ry="3.35"/><ellipse cx="917.9" cy="1948.9" rx="3.6" ry="3.35"/><ellipse cx="923.5" cy="1962.2" rx="3.6" ry="3.35"/><ellipse cx="937.2" cy="1937.0" rx="3.6" ry="3.35"/><ellipse cx="916.3" cy="1945.0" rx="3.6" ry="3.35"/><ellipse cx="940.8" cy="1928.7" rx="3.6" ry="3.35"/><ellipse cx="916.6" cy="1919.4" rx="3.6" ry="3.35"/><ellipse cx="939.8" cy="1958.5" rx="3.6" ry="3.35"/><ellipse cx="905.8" cy="1996.0" rx="3.6" ry="3.35"/><ellipse cx="937.7" cy="1948.9" rx="3.6" ry="3.35"/><ellipse cx="883.7" cy="2000.2" rx="3.6" ry="3.35"/><ellipse cx="979.6" cy="1972.4" rx="3.6" ry="3.35"/><ellipse cx="919.1" cy="1957.0" rx="3.6" ry="3.35"/><ellipse cx="962.9" cy="1943.9" rx="3.6" ry="3.35"/><ellipse cx="918.3" cy="1960.9" rx="3.6" ry="3.35"/><ellipse cx="970.6" cy="1939.5" rx="3.6" ry="3.35"/><ellipse cx="937.1" cy="1975.9" rx="3.6" ry="3.35"/><ellipse cx="890.9" cy="1990.2" rx="3.6" ry="3.35"/><ellipse cx="917.6" cy="1949.4" rx="3.6" ry="3.35"/><ellipse cx="965.1" cy="1976.7" rx="3.6" ry="3.35"/><ellipse cx="953.6" cy="1938.9" rx="3.6" ry="3.35"/><ellipse cx="992.2" cy="1930.4" rx="3.6" ry="3.35"/><ellipse cx="867.8" cy="1976.6" rx="3.6" ry="3.35"/><ellipse cx="917.7" cy="1940.8" rx="3.6" ry="3.35"/><ellipse cx="890.9" cy="1996.2" rx="3.6" ry="3.35"/><ellipse cx="944.8" cy="1990.5" rx="3.6" ry="3.35"/><ellipse cx="930.1" cy="1954.9" rx="3.6" ry="3.35"/><ellipse cx="915.2" cy="1990.3" rx="3.6" ry="3.35"/><ellipse cx="980.0" cy="1964.8" rx="3.6" ry="3.35"/><ellipse cx="972.2" cy="1906.7" rx="3.6" ry="3.35"/><ellipse cx="978.4" cy="1893.3" rx="3.6" ry="3.35"/><ellipse cx="919.8" cy="1953.5" rx="3.6" ry="3.35"/><ellipse cx="1006.7" cy="1879.9" rx="3.6" ry="3.35"/><ellipse cx="907.9" cy="1973.7" rx="3.6" ry="3.35"/><ellipse cx="977.8" cy="1935.3" rx="3.6" ry="3.35"/><ellipse cx="957.4" cy="1909.8" rx="3.6" ry="3.35"/><ellipse cx="927.4" cy="1989.7" rx="3.6" ry="3.35"/><ellipse cx="943.3" cy="1925.0" rx="3.6" ry="3.35"/><ellipse cx="928.7" cy="1990.6" rx="3.6" ry="3.35"/><ellipse cx="995.0" cy="1919.5" rx="3.6" ry="3.35"/><ellipse cx="913.8" cy="2009.9" rx="3.6" ry="3.35"/><ellipse cx="919.5" cy="1962.3" rx="3.6" ry="3.35"/><ellipse cx="953.6" cy="1936.1" rx="3.6" ry="3.35"/><ellipse cx="934.5" cy="1994.4" rx="3.6" ry="3.35"/><ellipse cx="950.3" cy="1898.6" rx="3.6" ry="3.35"/><ellipse cx="921.4" cy="1995.0" rx="3.6" ry="3.35"/><ellipse cx="934.6" cy="1920.7" rx="3.6" ry="3.35"/><ellipse cx="969.4" cy="1939.1" rx="3.6" ry="3.35"/><ellipse cx="941.6" cy="1960.4" rx="3.6" ry="3.35"/><ellipse cx="928.3" cy="1958.6" rx="3.6" ry="3.35"/><ellipse cx="958.8" cy="1917.2" rx="3.6" ry="3.35"/><ellipse cx="980.0" cy="1889.1" rx="3.6" ry="3.35"/><ellipse cx="1006.4" cy="1902.6" rx="3.6" ry="3.35"/><ellipse cx="952.2" cy="1903.5" rx="3.6" ry="3.35"/><ellipse cx="965.3" cy="1905.2" rx="3.6" ry="3.35"/><ellipse cx="956.0" cy="1935.3" rx="3.6" ry="3.35"/><ellipse cx="914.5" cy="2012.3" rx="3.6" ry="3.35"/><ellipse cx="945.7" cy="1927.5" rx="3.6" ry="3.35"/><ellipse cx="928.9" cy="1962.2" rx="3.6" ry="3.35"/><ellipse cx="942.0" cy="1968.1" rx="3.6" ry="3.35"/><ellipse cx="922.3" cy="1963.8" rx="3.6" ry="3.35"/><ellipse cx="924.9" cy="1936.5" rx="3.6" ry="3.35"/><ellipse cx="966.3" cy="1905.3" rx="3.6" ry="3.35"/><ellipse cx="888.7" cy="1998.9" rx="3.6" ry="3.35"/><ellipse cx="924.1" cy="1972.3" rx="3.6" ry="3.35"/><ellipse cx="957.2" cy="1948.2" rx="3.6" ry="3.35"/><ellipse cx="943.1" cy="1987.0" rx="3.6" ry="3.35"/><ellipse cx="907.3" cy="2000.6" rx="3.6" ry="3.35"/><ellipse cx="936.1" cy="1956.8" rx="3.6" ry="3.35"/><ellipse cx="927.2" cy="1978.7" rx="3.6" ry="3.35"/><ellipse cx="956.0" cy="1922.8" rx="3.6" ry="3.35"/><ellipse cx="942.4" cy="1957.8" rx="3.6" ry="3.35"/><ellipse cx="936.3" cy="2017.2" rx="3.6" ry="3.35"/><ellipse cx="958.9" cy="1922.4" rx="3.6" ry="3.35"/><ellipse cx="973.1" cy="1931.1" rx="3.6" ry="3.35"/><ellipse cx="924.6" cy="1947.2" rx="3.6" ry="3.35"/><ellipse cx="890.3" cy="2001.0" rx="3.6" ry="3.35"/><ellipse cx="989.0" cy="1910.7" rx="3.6" ry="3.35"/><ellipse cx="915.6" cy="1915.1" rx="3.6" ry="3.35"/><ellipse cx="902.4" cy="1971.8" rx="3.6" ry="3.35"/><ellipse cx="920.8" cy="1954.9" rx="3.6" ry="3.35"/><ellipse cx="914.4" cy="1959.2" rx="3.6" ry="3.35"/><ellipse cx="933.8" cy="1955.5" rx="3.6" ry="3.35"/><ellipse cx="943.9" cy="1948.9" rx="3.6" ry="3.35"/><ellipse cx="915.3" cy="1955.2" rx="3.6" ry="3.35"/><ellipse cx="902.4" cy="1957.8" rx="3.6" ry="3.35"/><ellipse cx="939.8" cy="1958.3" rx="3.6" ry="3.35"/><ellipse cx="898.4" cy="1948.1" rx="3.6" ry="3.35"/><ellipse cx="924.1" cy="1923.5" rx="3.6" ry="3.35"/><ellipse cx="931.8" cy="1946.2" rx="3.6" ry="3.35"/><ellipse cx="918.1" cy="2005.7" rx="3.6" ry="3.35"/><ellipse cx="927.2" cy="1961.5" rx="3.6" ry="3.35"/><ellipse cx="884.7" cy="2006.6" rx="3.6" ry="3.35"/><ellipse cx="950.7" cy="1944.2" rx="3.6" ry="3.35"/><ellipse cx="873.1" cy="1989.8" rx="3.6" ry="3.35"/><ellipse cx="919.3" cy="1971.1" rx="3.6" ry="3.35"/><ellipse cx="939.6" cy="1931.5" rx="3.6" ry="3.35"/><ellipse cx="925.8" cy="1989.6" rx="3.6" ry="3.35"/><ellipse cx="975.2" cy="1874.6" rx="3.6" ry="3.35"/><ellipse cx="926.5" cy="1972.4" rx="3.6" ry="3.35"/><ellipse cx="927.4" cy="1963.0" rx="3.6" ry="3.35"/><ellipse cx="930.3" cy="1997.5" rx="3.6" ry="3.35"/><ellipse cx="963.2" cy="1924.9" rx="3.6" ry="3.35"/><ellipse cx="985.1" cy="1933.1" rx="3.6" ry="3.35"/><ellipse cx="993.6" cy="1896.7" rx="3.6" ry="3.35"/><ellipse cx="892.9" cy="1999.8" rx="3.6" ry="3.35"/><ellipse cx="941.5" cy="1896.5" rx="3.6" ry="3.35"/><ellipse cx="819.5" cy="2030.3" rx="3.6" ry="3.35"/><ellipse cx="942.5" cy="1921.8" rx="3.6" ry="3.35"/><ellipse cx="925.5" cy="1958.6" rx="3.6" ry="3.35"/><ellipse cx="896.4" cy="2009.9" rx="3.6" ry="3.35"/><ellipse cx="899.1" cy="1974.4" rx="3.6" ry="3.35"/><ellipse cx="940.5" cy="1931.6" rx="3.6" ry="3.35"/><ellipse cx="915.7" cy="1985.8" rx="3.6" ry="3.35"/><ellipse cx="889.4" cy="1979.7" rx="3.6" ry="3.35"/><ellipse cx="991.1" cy="1889.5" rx="3.6" ry="3.35"/><ellipse cx="891.4" cy="1964.7" rx="3.6" ry="3.35"/><ellipse cx="847.0" cy="1987.2" rx="3.6" ry="3.35"/><ellipse cx="902.7" cy="1947.6" rx="3.6" ry="3.35"/><ellipse cx="911.5" cy="1980.8" rx="3.6" ry="3.35"/><ellipse cx="940.7" cy="1916.2" rx="3.6" ry="3.35"/><ellipse cx="980.5" cy="1890.4" rx="3.6" ry="3.35"/><ellipse cx="986.1" cy="1900.1" rx="3.6" ry="3.35"/><ellipse cx="910.3" cy="1952.4" rx="3.6" ry="3.35"/><ellipse cx="984.8" cy="1917.8" rx="3.6" ry="3.35"/><ellipse cx="938.4" cy="1899.8" rx="3.6" ry="3.35"/><ellipse cx="938.5" cy="1937.1" rx="3.6" ry="3.35"/><ellipse cx="927.6" cy="1931.3" rx="3.6" ry="3.35"/><ellipse cx="888.7" cy="2014.9" rx="3.6" ry="3.35"/><ellipse cx="908.3" cy="1982.8" rx="3.6" ry="3.35"/><ellipse cx="957.2" cy="1937.5" rx="3.6" ry="3.35"/><ellipse cx="943.5" cy="1960.1" rx="3.6" ry="3.35"/><ellipse cx="928.1" cy="1950.5" rx="3.6" ry="3.35"/><ellipse cx="949.5" cy="1943.5" rx="3.6" ry="3.35"/><ellipse cx="929.2" cy="1877.1" rx="3.6" ry="3.35"/><ellipse cx="938.0" cy="1911.3" rx="3.6" ry="3.35"/><ellipse cx="976.2" cy="1954.9" rx="3.6" ry="3.35"/><ellipse cx="946.8" cy="1947.2" rx="3.6" ry="3.35"/><ellipse cx="874.4" cy="1984.2" rx="3.6" ry="3.35"/><ellipse cx="914.2" cy="2013.0" rx="3.6" ry="3.35"/><ellipse cx="896.9" cy="2036.4" rx="3.6" ry="3.35"/><ellipse cx="933.4" cy="1892.2" rx="3.6" ry="3.35"/><ellipse cx="996.7" cy="1900.1" rx="3.6" ry="3.35"/><ellipse cx="950.8" cy="1968.1" rx="3.6" ry="3.35"/><ellipse cx="888.8" cy="1966.0" rx="3.6" ry="3.35"/><ellipse cx="943.3" cy="1977.8" rx="3.6" ry="3.35"/><ellipse cx="933.7" cy="1965.4" rx="3.6" ry="3.35"/><ellipse cx="883.1" cy="1998.0" rx="3.6" ry="3.35"/><ellipse cx="909.8" cy="1955.5" rx="3.6" ry="3.35"/><ellipse cx="942.6" cy="1968.0" rx="3.6" ry="3.35"/><ellipse cx="917.5" cy="1972.2" rx="3.6" ry="3.35"/><ellipse cx="929.4" cy="1969.5" rx="3.6" ry="3.35"/><ellipse cx="924.9" cy="1994.2" rx="3.6" ry="3.35"/><ellipse cx="906.3" cy="1938.8" rx="3.6" ry="3.35"/><ellipse cx="980.1" cy="1897.3" rx="3.6" ry="3.35"/><ellipse cx="960.3" cy="1950.6" rx="3.6" ry="3.35"/><ellipse cx="885.6" cy="1973.6" rx="3.6" ry="3.35"/><ellipse cx="924.1" cy="1952.1" rx="3.6" ry="3.35"/><ellipse cx="891.8" cy="1982.5" rx="3.6" ry="3.35"/><ellipse cx="945.6" cy="1910.1" rx="3.6" ry="3.35"/><ellipse cx="939.9" cy="1950.9" rx="3.6" ry="3.35"/><ellipse cx="884.7" cy="1980.3" rx="3.6" ry="3.35"/><ellipse cx="967.9" cy="1946.4" rx="3.6" ry="3.35"/><ellipse cx="904.4" cy="1947.4" rx="3.6" ry="3.35"/><ellipse cx="939.6" cy="1956.1" rx="3.6" ry="3.35"/><ellipse cx="965.1" cy="1929.8" rx="3.6" ry="3.35"/><ellipse cx="964.6" cy="1909.3" rx="3.6" ry="3.35"/><ellipse cx="997.5" cy="1900.3" rx="3.6" ry="3.35"/><ellipse cx="908.2" cy="1950.1" rx="3.6" ry="3.35"/><ellipse cx="881.4" cy="1963.0" rx="3.6" ry="3.35"/><ellipse cx="928.6" cy="1965.5" rx="3.6" ry="3.35"/><ellipse cx="974.3" cy="1896.8" rx="3.6" ry="3.35"/><ellipse cx="914.7" cy="1980.5" rx="3.6" ry="3.35"/><ellipse cx="971.3" cy="1943.8" rx="3.6" ry="3.35"/><ellipse cx="946.5" cy="1907.2" rx="3.6" ry="3.35"/><ellipse cx="921.0" cy="1913.2" rx="3.6" ry="3.35"/><ellipse cx="915.8" cy="1995.0" rx="3.6" ry="3.35"/><ellipse cx="988.0" cy="1903.3" rx="3.6" ry="3.35"/><ellipse cx="957.3" cy="1969.6" rx="3.6" ry="3.35"/><ellipse cx="904.0" cy="1929.9" rx="3.6" ry="3.35"/><ellipse cx="917.0" cy="1900.3" rx="3.6" ry="3.35"/><ellipse cx="959.7" cy="1927.4" rx="3.6" ry="3.35"/><ellipse cx="928.3" cy="1952.7" rx="3.6" ry="3.35"/><ellipse cx="953.1" cy="1933.6" rx="3.6" ry="3.35"/><ellipse cx="898.4" cy="1989.3" rx="3.6" ry="3.35"/><ellipse cx="920.3" cy="1964.4" rx="3.6" ry="3.35"/><ellipse cx="915.3" cy="1960.2" rx="3.6" ry="3.35"/><ellipse cx="887.4" cy="1982.2" rx="3.6" ry="3.35"/><ellipse cx="927.4" cy="1981.2" rx="3.6" ry="3.35"/><ellipse cx="911.4" cy="1937.7" rx="3.6" ry="3.35"/><ellipse cx="959.2" cy="1874.6" rx="3.6" ry="3.35"/><ellipse cx="956.8" cy="1928.7" rx="3.6" ry="3.35"/><ellipse cx="922.1" cy="1957.4" rx="3.6" ry="3.35"/><ellipse cx="927.8" cy="1925.3" rx="3.6" ry="3.35"/><ellipse cx="959.5" cy="1904.3" rx="3.6" ry="3.35"/><ellipse cx="940.4" cy="1936.7" rx="3.6" ry="3.35"/><ellipse cx="912.9" cy="1943.2" rx="3.6" ry="3.35"/><ellipse cx="945.4" cy="1928.6" rx="3.6" ry="3.35"/><ellipse cx="979.4" cy="1939.5" rx="3.6" ry="3.35"/><ellipse cx="922.2" cy="1982.3" rx="3.6" ry="3.35"/><ellipse cx="861.3" cy="2043.3" rx="3.6" ry="3.35"/><ellipse cx="894.9" cy="1937.2" rx="3.6" ry="3.35"/><ellipse cx="971.6" cy="1875.3" rx="3.6" ry="3.35"/><ellipse cx="913.0" cy="1969.6" rx="3.6" ry="3.35"/><ellipse cx="870.5" cy="1985.3" rx="3.6" ry="3.35"/><ellipse cx="965.1" cy="1905.2" rx="3.6" ry="3.35"/><ellipse cx="983.2" cy="1888.0" rx="3.6" ry="3.35"/><ellipse cx="981.9" cy="1925.1" rx="3.6" ry="3.35"/><ellipse cx="940.6" cy="1935.2" rx="3.6" ry="3.35"/><ellipse cx="904.9" cy="1995.6" rx="3.6" ry="3.35"/><ellipse cx="898.7" cy="1970.2" rx="3.6" ry="3.35"/><ellipse cx="959.0" cy="1942.4" rx="3.6" ry="3.35"/><ellipse cx="958.1" cy="1912.2" rx="3.6" ry="3.35"/><ellipse cx="895.6" cy="1978.7" rx="3.6" ry="3.35"/><ellipse cx="931.3" cy="1977.9" rx="3.6" ry="3.35"/><ellipse cx="873.5" cy="1986.9" rx="3.6" ry="3.35"/><ellipse cx="949.0" cy="1922.9" rx="3.6" ry="3.35"/><ellipse cx="884.6" cy="1980.4" rx="3.6" ry="3.35"/><ellipse cx="969.3" cy="1902.8" rx="3.6" ry="3.35"/><ellipse cx="906.8" cy="1936.6" rx="3.6" ry="3.35"/><ellipse cx="904.5" cy="1916.3" rx="3.6" ry="3.35"/><ellipse cx="1036.3" cy="1870.3" rx="3.6" ry="3.35"/><ellipse cx="974.0" cy="1951.9" rx="3.6" ry="3.35"/><ellipse cx="918.2" cy="1973.1" rx="3.6" ry="3.35"/><ellipse cx="995.0" cy="1942.4" rx="3.6" ry="3.35"/><ellipse cx="968.8" cy="1902.8" rx="3.6" ry="3.35"/><ellipse cx="916.3" cy="1960.0" rx="3.6" ry="3.35"/><ellipse cx="986.3" cy="1891.3" rx="3.6" ry="3.35"/><ellipse cx="958.8" cy="1962.6" rx="3.6" ry="3.35"/><ellipse cx="963.0" cy="1927.4" rx="3.6" ry="3.35"/><ellipse cx="916.7" cy="1978.5" rx="3.6" ry="3.35"/><ellipse cx="926.9" cy="1962.6" rx="3.6" ry="3.35"/><ellipse cx="921.4" cy="1941.2" rx="3.6" ry="3.35"/><ellipse cx="922.8" cy="1926.8" rx="3.6" ry="3.35"/><ellipse cx="967.2" cy="1886.4" rx="3.6" ry="3.35"/><ellipse cx="949.7" cy="1924.4" rx="3.6" ry="3.35"/><ellipse cx="953.3" cy="1888.2" rx="3.6" ry="3.35"/><ellipse cx="937.6" cy="1946.4" rx="3.6" ry="3.35"/><ellipse cx="982.7" cy="1942.7" rx="3.6" ry="3.35"/><ellipse cx="949.7" cy="1935.0" rx="3.6" ry="3.35"/><ellipse cx="939.4" cy="1972.4" rx="3.6" ry="3.35"/><ellipse cx="979.7" cy="1933.3" rx="3.6" ry="3.35"/><ellipse cx="976.5" cy="1876.9" rx="3.6" ry="3.35"/><ellipse cx="968.5" cy="1979.7" rx="3.6" ry="3.35"/><ellipse cx="942.1" cy="1926.3" rx="3.6" ry="3.35"/><ellipse cx="982.7" cy="1863.1" rx="3.6" ry="3.35"/><ellipse cx="976.7" cy="1886.5" rx="3.6" ry="3.35"/><ellipse cx="954.1" cy="1902.4" rx="3.6" ry="3.35"/><ellipse cx="986.2" cy="1914.6" rx="3.6" ry="3.35"/><ellipse cx="919.9" cy="1957.4" rx="3.6" ry="3.35"/><ellipse cx="982.5" cy="1958.0" rx="3.6" ry="3.35"/><ellipse cx="946.5" cy="1934.1" rx="3.6" ry="3.35"/><ellipse cx="987.2" cy="1916.7" rx="3.6" ry="3.35"/><ellipse cx="921.3" cy="2011.0" rx="3.6" ry="3.35"/><ellipse cx="888.9" cy="1988.8" rx="3.6" ry="3.35"/><ellipse cx="991.0" cy="1922.9" rx="3.6" ry="3.35"/><ellipse cx="948.6" cy="1966.0" rx="3.6" ry="3.35"/><ellipse cx="909.7" cy="1966.4" rx="3.6" ry="3.35"/><ellipse cx="939.5" cy="1974.5" rx="3.6" ry="3.35"/><ellipse cx="955.8" cy="1938.1" rx="3.6" ry="3.35"/><ellipse cx="980.9" cy="1955.9" rx="3.6" ry="3.35"/><ellipse cx="903.2" cy="2043.1" rx="3.6" ry="3.35"/><ellipse cx="953.6" cy="1924.5" rx="3.6" ry="3.35"/><ellipse cx="996.1" cy="1840.6" rx="3.6" ry="3.35"/><ellipse cx="903.6" cy="1979.7" rx="3.6" ry="3.35"/><ellipse cx="921.0" cy="1927.7" rx="3.6" ry="3.35"/><ellipse cx="933.8" cy="1993.2" rx="3.6" ry="3.35"/><ellipse cx="944.0" cy="1968.0" rx="3.6" ry="3.35"/><ellipse cx="966.0" cy="1929.5" rx="3.6" ry="3.35"/><ellipse cx="944.0" cy="1926.6" rx="3.6" ry="3.35"/><ellipse cx="949.8" cy="1963.1" rx="3.6" ry="3.35"/><ellipse cx="936.9" cy="1948.8" rx="3.6" ry="3.35"/><ellipse cx="958.2" cy="1937.5" rx="3.6" ry="3.35"/><ellipse cx="952.7" cy="1888.3" rx="3.6" ry="3.35"/><ellipse cx="955.1" cy="1892.9" rx="3.6" ry="3.35"/><ellipse cx="962.7" cy="1927.9" rx="3.6" ry="3.35"/><ellipse cx="928.8" cy="1921.7" rx="3.6" ry="3.35"/><ellipse cx="971.5" cy="1914.8" rx="3.6" ry="3.35"/><ellipse cx="928.9" cy="1903.4" rx="3.6" ry="3.35"/><ellipse cx="991.1" cy="1898.2" rx="3.6" ry="3.35"/><ellipse cx="916.3" cy="1995.6" rx="3.6" ry="3.35"/><ellipse cx="959.9" cy="1866.6" rx="3.6" ry="3.35"/><ellipse cx="939.0" cy="1989.6" rx="3.6" ry="3.35"/><ellipse cx="934.6" cy="1931.1" rx="3.6" ry="3.35"/><ellipse cx="968.1" cy="1949.0" rx="3.6" ry="3.35"/><ellipse cx="914.7" cy="1946.3" rx="3.6" ry="3.35"/><ellipse cx="924.7" cy="1943.3" rx="3.6" ry="3.35"/><ellipse cx="902.5" cy="1953.9" rx="3.6" ry="3.35"/><ellipse cx="963.0" cy="1889.0" rx="3.6" ry="3.35"/><ellipse cx="973.8" cy="1937.8" rx="3.6" ry="3.35"/><ellipse cx="965.3" cy="1950.9" rx="3.6" ry="3.35"/><ellipse cx="916.3" cy="1920.4" rx="3.6" ry="3.35"/><ellipse cx="977.4" cy="1920.2" rx="3.6" ry="3.35"/><ellipse cx="955.3" cy="1962.8" rx="3.6" ry="3.35"/><ellipse cx="901.0" cy="1971.6" rx="3.6" ry="3.35"/><ellipse cx="940.3" cy="1920.0" rx="3.6" ry="3.35"/><ellipse cx="914.2" cy="1964.3" rx="3.6" ry="3.35"/><ellipse cx="952.6" cy="1972.6" rx="3.6" ry="3.35"/><ellipse cx="969.2" cy="1965.9" rx="3.6" ry="3.35"/><ellipse cx="926.9" cy="1962.3" rx="3.6" ry="3.35"/><ellipse cx="939.5" cy="1938.3" rx="3.6" ry="3.35"/><ellipse cx="924.9" cy="1993.1" rx="3.6" ry="3.35"/><ellipse cx="987.5" cy="1915.7" rx="3.6" ry="3.35"/><ellipse cx="857.2" cy="1970.8" rx="3.6" ry="3.35"/><ellipse cx="915.0" cy="2009.3" rx="3.6" ry="3.35"/><ellipse cx="975.3" cy="1915.6" rx="3.6" ry="3.35"/><ellipse cx="963.9" cy="1939.2" rx="3.6" ry="3.35"/><ellipse cx="938.2" cy="1944.5" rx="3.6" ry="3.35"/><ellipse cx="912.0" cy="1937.4" rx="3.6" ry="3.35"/><ellipse cx="936.1" cy="1919.4" rx="3.6" ry="3.35"/><ellipse cx="952.5" cy="1929.7" rx="3.6" ry="3.35"/><ellipse cx="914.3" cy="1973.1" rx="3.6" ry="3.35"/><ellipse cx="917.1" cy="1952.1" rx="3.6" ry="3.35"/><ellipse cx="911.5" cy="1983.0" rx="3.6" ry="3.35"/><ellipse cx="944.8" cy="1937.3" rx="3.6" ry="3.35"/><ellipse cx="934.2" cy="1963.1" rx="3.6" ry="3.35"/><ellipse cx="926.0" cy="1906.2" rx="3.6" ry="3.35"/><ellipse cx="993.6" cy="1912.2" rx="3.6" ry="3.35"/><ellipse cx="964.2" cy="1906.0" rx="3.6" ry="3.35"/><ellipse cx="840.6" cy="1970.6" rx="3.6" ry="3.35"/><ellipse cx="984.8" cy="1908.8" rx="3.6" ry="3.35"/><ellipse cx="937.5" cy="1934.4" rx="3.6" ry="3.35"/><ellipse cx="841.8" cy="2065.5" rx="3.6" ry="3.35"/><ellipse cx="883.9" cy="1948.6" rx="3.6" ry="3.35"/><ellipse cx="870.8" cy="2001.8" rx="3.6" ry="3.35"/><ellipse cx="1023.0" cy="1906.1" rx="3.6" ry="3.35"/><ellipse cx="974.0" cy="1920.1" rx="3.6" ry="3.35"/><ellipse cx="1029.8" cy="1904.0" rx="3.6" ry="3.35"/><ellipse cx="974.0" cy="1892.4" rx="3.6" ry="3.35"/><ellipse cx="1022.1" cy="1923.8" rx="3.6" ry="3.35"/><ellipse cx="916.3" cy="1939.4" rx="3.6" ry="3.35"/><ellipse cx="975.3" cy="1884.4" rx="3.6" ry="3.35"/><ellipse cx="955.3" cy="1912.2" rx="3.6" ry="3.35"/><ellipse cx="876.9" cy="2025.3" rx="3.6" ry="3.35"/><ellipse cx="877.1" cy="1923.9" rx="3.6" ry="3.35"/><ellipse cx="1037.8" cy="1868.3" rx="3.6" ry="3.35"/><ellipse cx="1014.3" cy="1904.9" rx="3.6" ry="3.35"/><ellipse cx="882.7" cy="1927.3" rx="3.6" ry="3.35"/><ellipse cx="935.1" cy="1961.6" rx="3.6" ry="3.35"/><ellipse cx="904.2" cy="1957.1" rx="3.6" ry="3.35"/><ellipse cx="893.7" cy="1972.1" rx="3.6" ry="3.35"/><ellipse cx="956.1" cy="1931.2" rx="3.6" ry="3.35"/><ellipse cx="808.2" cy="1999.6" rx="3.6" ry="3.35"/><ellipse cx="920.0" cy="1943.2" rx="3.6" ry="3.35"/><ellipse cx="817.6" cy="2000.6" rx="3.6" ry="3.35"/><ellipse cx="839.8" cy="1949.6" rx="3.6" ry="3.35"/><ellipse cx="969.2" cy="1897.0" rx="3.6" ry="3.35"/><ellipse cx="1012.8" cy="1942.0" rx="3.6" ry="3.35"/><ellipse cx="814.4" cy="2030.4" rx="3.6" ry="3.35"/><ellipse cx="838.2" cy="2027.6" rx="3.6" ry="3.35"/><ellipse cx="1009.4" cy="1952.9" rx="3.6" ry="3.35"/><ellipse cx="1019.9" cy="1849.9" rx="3.6" ry="3.35"/><ellipse cx="959.7" cy="1882.2" rx="3.6" ry="3.35"/><ellipse cx="971.5" cy="1956.4" rx="3.6" ry="3.35"/><ellipse cx="933.7" cy="1980.2" rx="3.6" ry="3.35"/><ellipse cx="886.7" cy="1961.7" rx="3.6" ry="3.35"/><ellipse cx="863.3" cy="1929.4" rx="3.6" ry="3.35"/><ellipse cx="950.4" cy="1940.6" rx="3.6" ry="3.35"/><ellipse cx="872.6" cy="1957.3" rx="3.6" ry="3.35"/><ellipse cx="839.2" cy="2031.7" rx="3.6" ry="3.35"/><ellipse cx="978.9" cy="1905.2" rx="3.6" ry="3.35"/><ellipse cx="917.5" cy="1944.6" rx="3.6" ry="3.35"/><ellipse cx="883.0" cy="1993.6" rx="3.6" ry="3.35"/><ellipse cx="1003.0" cy="1837.7" rx="3.6" ry="3.35"/><ellipse cx="996.7" cy="1881.1" rx="3.6" ry="3.35"/><ellipse cx="919.4" cy="1908.8" rx="3.6" ry="3.35"/><ellipse cx="907.7" cy="1961.4" rx="3.6" ry="3.35"/><ellipse cx="923.6" cy="2046.3" rx="3.6" ry="3.35"/><ellipse cx="915.9" cy="1951.5" rx="3.6" ry="3.35"/><ellipse cx="921.4" cy="1973.3" rx="3.6" ry="3.35"/><ellipse cx="987.8" cy="1943.3" rx="3.6" ry="3.35"/><ellipse cx="941.4" cy="1952.9" rx="3.6" ry="3.35"/><ellipse cx="781.2" cy="2044.6" rx="3.6" ry="3.35"/><ellipse cx="874.9" cy="1994.5" rx="3.6" ry="3.35"/><ellipse cx="903.7" cy="1988.0" rx="3.6" ry="3.35"/><ellipse cx="923.2" cy="1978.0" rx="3.6" ry="3.35"/><ellipse cx="801.9" cy="2064.3" rx="3.6" ry="3.35"/><ellipse cx="847.4" cy="2058.0" rx="3.6" ry="3.35"/><ellipse cx="843.6" cy="2005.1" rx="3.6" ry="3.35"/><ellipse cx="874.3" cy="1990.5" rx="3.6" ry="3.35"/><ellipse cx="1007.3" cy="1874.8" rx="3.6" ry="3.35"/><ellipse cx="964.4" cy="1961.0" rx="3.6" ry="3.35"/><ellipse cx="872.9" cy="2016.2" rx="3.6" ry="3.35"/><ellipse cx="904.9" cy="1987.8" rx="3.6" ry="3.35"/><ellipse cx="869.6" cy="2097.0" rx="3.6" ry="3.35"/><ellipse cx="935.6" cy="1877.9" rx="3.6" ry="3.35"/><ellipse cx="972.1" cy="1915.6" rx="3.6" ry="3.35"/><ellipse cx="833.5" cy="1997.9" rx="3.6" ry="3.35"/><ellipse cx="857.7" cy="2000.0" rx="3.6" ry="3.35"/><ellipse cx="877.1" cy="1947.0" rx="3.6" ry="3.35"/><ellipse cx="954.3" cy="1949.2" rx="3.6" ry="3.35"/><ellipse cx="942.3" cy="1955.2" rx="3.6" ry="3.35"/><ellipse cx="937.7" cy="1957.8" rx="3.6" ry="3.35"/><ellipse cx="1016.7" cy="1933.3" rx="3.6" ry="3.35"/><ellipse cx="978.1" cy="1977.7" rx="3.6" ry="3.35"/><ellipse cx="826.5" cy="2048.4" rx="3.6" ry="3.35"/><ellipse cx="810.0" cy="1999.1" rx="3.6" ry="3.35"/><ellipse cx="878.8" cy="2000.7" rx="3.6" ry="3.35"/><ellipse cx="1029.9" cy="1869.3" rx="3.6" ry="3.35"/><ellipse cx="815.0" cy="2053.8" rx="3.6" ry="3.35"/><ellipse cx="931.3" cy="1900.9" rx="3.6" ry="3.35"/><ellipse cx="953.9" cy="1942.8" rx="3.6" ry="3.35"/><ellipse cx="920.2" cy="1978.9" rx="3.6" ry="3.35"/><ellipse cx="949.0" cy="1983.1" rx="3.6" ry="3.35"/><ellipse cx="837.4" cy="2007.4" rx="3.6" ry="3.35"/><ellipse cx="1008.4" cy="1864.5" rx="3.6" ry="3.35"/><ellipse cx="988.9" cy="1889.2" rx="3.6" ry="3.35"/><ellipse cx="1003.4" cy="1954.4" rx="3.6" ry="3.35"/><ellipse cx="982.8" cy="1920.7" rx="3.6" ry="3.35"/><ellipse cx="891.7" cy="1952.6" rx="3.6" ry="3.35"/><ellipse cx="960.9" cy="1933.5" rx="3.6" ry="3.35"/><ellipse cx="878.4" cy="1988.6" rx="3.6" ry="3.35"/><ellipse cx="864.9" cy="2035.5" rx="3.6" ry="3.35"/><ellipse cx="994.8" cy="1914.2" rx="3.6" ry="3.35"/><ellipse cx="1012.3" cy="1895.4" rx="3.6" ry="3.35"/><ellipse cx="1030.7" cy="1896.9" rx="3.6" ry="3.35"/><ellipse cx="854.5" cy="1929.4" rx="3.6" ry="3.35"/><ellipse cx="1058.1" cy="1818.1" rx="3.6" ry="3.35"/><ellipse cx="939.2" cy="1978.8" rx="3.6" ry="3.35"/><ellipse cx="923.4" cy="1925.6" rx="3.6" ry="3.35"/><ellipse cx="930.6" cy="1959.8" rx="3.6" ry="3.35"/><ellipse cx="955.6" cy="1955.9" rx="3.6" ry="3.35"/><ellipse cx="867.9" cy="2030.4" rx="3.6" ry="3.35"/><ellipse cx="962.7" cy="1961.2" rx="3.6" ry="3.35"/><ellipse cx="1000.1" cy="1929.2" rx="3.6" ry="3.35"/><ellipse cx="862.7" cy="1967.8" rx="3.6" ry="3.35"/><ellipse cx="891.5" cy="1940.6" rx="3.6" ry="3.35"/><ellipse cx="902.3" cy="1908.7" rx="3.6" ry="3.35"/><ellipse cx="946.3" cy="1942.1" rx="3.6" ry="3.35"/><ellipse cx="1009.2" cy="1888.1" rx="3.6" ry="3.35"/><ellipse cx="1050.0" cy="1878.3" rx="3.6" ry="3.35"/><ellipse cx="923.9" cy="1959.3" rx="3.6" ry="3.35"/><ellipse cx="1032.9" cy="1926.9" rx="3.6" ry="3.35"/><ellipse cx="964.9" cy="1932.5" rx="3.6" ry="3.35"/><ellipse cx="914.0" cy="1915.9" rx="3.6" ry="3.35"/><ellipse cx="933.1" cy="1939.1" rx="3.6" ry="3.35"/><ellipse cx="1044.6" cy="1868.8" rx="3.6" ry="3.35"/><ellipse cx="1025.3" cy="1899.2" rx="3.6" ry="3.35"/><ellipse cx="921.0" cy="1981.6" rx="3.6" ry="3.35"/><ellipse cx="791.5" cy="1968.7" rx="3.6" ry="3.35"/><ellipse cx="1054.9" cy="1890.9" rx="3.6" ry="3.35"/><ellipse cx="969.1" cy="1923.2" rx="3.6" ry="3.35"/><ellipse cx="953.4" cy="1935.3" rx="3.6" ry="3.35"/><ellipse cx="938.2" cy="1955.1" rx="3.6" ry="3.35"/><ellipse cx="961.7" cy="1953.8" rx="3.6" ry="3.35"/><ellipse cx="874.4" cy="1971.8" rx="3.6" ry="3.35"/><ellipse cx="1046.9" cy="1870.7" rx="3.6" ry="3.35"/><ellipse cx="966.1" cy="1937.5" rx="3.6" ry="3.35"/><ellipse cx="921.3" cy="2023.2" rx="3.6" ry="3.35"/><ellipse cx="982.9" cy="1856.2" rx="3.6" ry="3.35"/><ellipse cx="1011.9" cy="1860.3" rx="3.6" ry="3.35"/><ellipse cx="817.5" cy="1995.3" rx="3.6" ry="3.35"/><ellipse cx="995.8" cy="1854.0" rx="3.6" ry="3.35"/><ellipse cx="1000.5" cy="1880.2" rx="3.6" ry="3.35"/><ellipse cx="1019.2" cy="1925.6" rx="3.6" ry="3.35"/><ellipse cx="892.0" cy="1892.2" rx="3.6" ry="3.35"/><ellipse cx="942.1" cy="1869.2" rx="3.6" ry="3.35"/><ellipse cx="992.1" cy="1899.0" rx="3.6" ry="3.35"/><ellipse cx="1016.9" cy="1879.9" rx="3.6" ry="3.35"/><ellipse cx="874.3" cy="2002.2" rx="3.6" ry="3.35"/><ellipse cx="871.3" cy="1989.1" rx="3.6" ry="3.35"/><ellipse cx="935.4" cy="1922.5" rx="3.6" ry="3.35"/><ellipse cx="850.0" cy="2021.5" rx="3.6" ry="3.35"/><ellipse cx="1043.7" cy="1874.0" rx="3.6" ry="3.35"/><ellipse cx="880.0" cy="1971.2" rx="3.6" ry="3.35"/><ellipse cx="858.3" cy="1926.9" rx="3.6" ry="3.35"/><ellipse cx="1005.9" cy="1911.4" rx="3.6" ry="3.35"/><ellipse cx="919.2" cy="2020.3" rx="3.6" ry="3.35"/><ellipse cx="942.3" cy="1943.3" rx="3.6" ry="3.35"/><ellipse cx="995.7" cy="1891.4" rx="3.6" ry="3.35"/><ellipse cx="963.2" cy="1945.6" rx="3.6" ry="3.35"/><ellipse cx="987.2" cy="1930.5" rx="3.6" ry="3.35"/><ellipse cx="1029.3" cy="1921.2" rx="3.6" ry="3.35"/><ellipse cx="987.8" cy="1947.5" rx="3.6" ry="3.35"/><ellipse cx="902.8" cy="1936.9" rx="3.6" ry="3.35"/><ellipse cx="924.8" cy="1994.3" rx="3.6" ry="3.35"/><ellipse cx="854.2" cy="2010.2" rx="3.6" ry="3.35"/><ellipse cx="892.5" cy="1958.7" rx="3.6" ry="3.35"/><ellipse cx="886.1" cy="1915.3" rx="3.6" ry="3.35"/><ellipse cx="1029.3" cy="1883.1" rx="3.6" ry="3.35"/><ellipse cx="944.3" cy="1945.6" rx="3.6" ry="3.35"/><ellipse cx="1042.2" cy="1882.0" rx="3.6" ry="3.35"/><ellipse cx="959.5" cy="1958.1" rx="3.6" ry="3.35"/><ellipse cx="982.2" cy="1953.4" rx="3.6" ry="3.35"/><ellipse cx="985.5" cy="1912.4" rx="3.6" ry="3.35"/><ellipse cx="976.7" cy="1883.5" rx="3.6" ry="3.35"/><ellipse cx="936.6" cy="1988.4" rx="3.6" ry="3.35"/><ellipse cx="1028.0" cy="1911.1" rx="3.6" ry="3.35"/><ellipse cx="990.2" cy="1898.8" rx="3.6" ry="3.35"/><ellipse cx="995.3" cy="1908.2" rx="3.6" ry="3.35"/><ellipse cx="878.4" cy="2028.1" rx="3.6" ry="3.35"/><ellipse cx="948.8" cy="1951.4" rx="3.6" ry="3.35"/><ellipse cx="862.2" cy="1993.8" rx="3.6" ry="3.35"/><ellipse cx="965.1" cy="1950.9" rx="3.6" ry="3.35"/><ellipse cx="975.5" cy="1941.0" rx="3.6" ry="3.35"/><ellipse cx="997.8" cy="1954.6" rx="3.6" ry="3.35"/><ellipse cx="1009.7" cy="1874.3" rx="3.6" ry="3.35"/><ellipse cx="955.6" cy="1982.9" rx="3.6" ry="3.35"/><ellipse cx="1001.1" cy="1900.8" rx="3.6" ry="3.35"/><ellipse cx="944.0" cy="1940.9" rx="3.6" ry="3.35"/><ellipse cx="957.1" cy="1865.8" rx="3.6" ry="3.35"/><ellipse cx="799.0" cy="2011.1" rx="3.6" ry="3.35"/><ellipse cx="842.6" cy="1969.7" rx="3.6" ry="3.35"/><ellipse cx="875.1" cy="1988.2" rx="3.6" ry="3.35"/><ellipse cx="932.6" cy="1997.2" rx="3.6" ry="3.35"/><ellipse cx="947.2" cy="1933.2" rx="3.6" ry="3.35"/><ellipse cx="936.1" cy="1941.1" rx="3.6" ry="3.35"/><ellipse cx="875.0" cy="1941.2" rx="3.6" ry="3.35"/><ellipse cx="1023.1" cy="1871.0" rx="3.6" ry="3.35"/><ellipse cx="882.3" cy="1937.2" rx="3.6" ry="3.35"/><ellipse cx="894.3" cy="1925.3" rx="3.6" ry="3.35"/><ellipse cx="887.0" cy="1915.4" rx="3.6" ry="3.35"/><ellipse cx="835.3" cy="2079.4" rx="3.6" ry="3.35"/><ellipse cx="951.6" cy="1950.2" rx="3.6" ry="3.35"/><ellipse cx="1019.1" cy="1913.9" rx="3.6" ry="3.35"/><ellipse cx="964.7" cy="1917.7" rx="3.6" ry="3.35"/><ellipse cx="999.8" cy="1883.2" rx="3.6" ry="3.35"/><ellipse cx="922.9" cy="1938.7" rx="3.6" ry="3.35"/><ellipse cx="1014.1" cy="1900.7" rx="3.6" ry="3.35"/><ellipse cx="950.5" cy="1990.9" rx="3.6" ry="3.35"/><ellipse cx="1031.2" cy="1907.0" rx="3.6" ry="3.35"/><ellipse cx="961.9" cy="1918.1" rx="3.6" ry="3.35"/><ellipse cx="943.9" cy="1973.5" rx="3.6" ry="3.35"/><ellipse cx="974.2" cy="1973.7" rx="3.6" ry="3.35"/><ellipse cx="972.1" cy="1891.2" rx="3.6" ry="3.35"/><ellipse cx="892.5" cy="1901.6" rx="3.6" ry="3.35"/><ellipse cx="970.2" cy="1896.9" rx="3.6" ry="3.35"/><ellipse cx="976.5" cy="1910.9" rx="3.6" ry="3.35"/><ellipse cx="956.6" cy="1923.4" rx="3.6" ry="3.35"/><ellipse cx="930.9" cy="1967.7" rx="3.6" ry="3.35"/><ellipse cx="913.1" cy="1956.3" rx="3.6" ry="3.35"/><ellipse cx="911.4" cy="1950.6" rx="3.6" ry="3.35"/><ellipse cx="905.9" cy="1930.2" rx="3.6" ry="3.35"/><ellipse cx="930.1" cy="1971.2" rx="3.6" ry="3.35"/><ellipse cx="946.9" cy="1919.3" rx="3.6" ry="3.35"/><ellipse cx="866.1" cy="2061.5" rx="3.6" ry="3.35"/><ellipse cx="1017.6" cy="1861.1" rx="3.6" ry="3.35"/><ellipse cx="855.8" cy="1944.8" rx="3.6" ry="3.35"/><ellipse cx="1005.2" cy="1849.6" rx="3.6" ry="3.35"/><ellipse cx="946.0" cy="1906.1" rx="3.6" ry="3.35"/><ellipse cx="947.9" cy="1906.2" rx="3.6" ry="3.35"/><ellipse cx="930.0" cy="1949.8" rx="3.6" ry="3.35"/><ellipse cx="996.4" cy="1958.1" rx="3.6" ry="3.35"/><ellipse cx="969.3" cy="1937.8" rx="3.6" ry="3.35"/><ellipse cx="1038.1" cy="1833.7" rx="3.6" ry="3.35"/><ellipse cx="1052.8" cy="1868.6" rx="3.6" ry="3.35"/><ellipse cx="914.7" cy="2008.9" rx="3.6" ry="3.35"/><ellipse cx="915.5" cy="1960.1" rx="3.6" ry="3.35"/><ellipse cx="991.2" cy="1958.0" rx="3.6" ry="3.35"/><ellipse cx="862.2" cy="2015.4" rx="3.6" ry="3.35"/><ellipse cx="966.2" cy="1924.7" rx="3.6" ry="3.35"/><ellipse cx="1038.5" cy="1971.1" rx="3.6" ry="3.35"/><ellipse cx="989.2" cy="1940.5" rx="3.6" ry="3.35"/><ellipse cx="892.1" cy="1966.4" rx="3.6" ry="3.35"/><ellipse cx="913.0" cy="1977.6" rx="3.6" ry="3.35"/><ellipse cx="961.1" cy="1910.3" rx="3.6" ry="3.35"/><ellipse cx="931.1" cy="1913.1" rx="3.6" ry="3.35"/><ellipse cx="915.9" cy="1961.0" rx="3.6" ry="3.35"/><ellipse cx="953.1" cy="1935.0" rx="3.6" ry="3.35"/><ellipse cx="953.0" cy="1934.1" rx="3.6" ry="3.35"/><ellipse cx="887.9" cy="2004.6" rx="3.6" ry="3.35"/><ellipse cx="902.1" cy="1951.5" rx="3.6" ry="3.35"/><ellipse cx="1002.0" cy="1909.2" rx="3.6" ry="3.35"/><ellipse cx="964.1" cy="1990.2" rx="3.6" ry="3.35"/><ellipse cx="891.7" cy="1934.8" rx="3.6" ry="3.35"/><ellipse cx="1068.0" cy="1848.8" rx="3.6" ry="3.35"/><ellipse cx="893.1" cy="2047.1" rx="3.6" ry="3.35"/><ellipse cx="961.3" cy="1926.5" rx="3.6" ry="3.35"/><ellipse cx="801.9" cy="2024.3" rx="3.6" ry="3.35"/><ellipse cx="892.3" cy="1994.4" rx="3.6" ry="3.35"/><ellipse cx="808.1" cy="2032.4" rx="3.6" ry="3.35"/><ellipse cx="1035.5" cy="1893.7" rx="3.6" ry="3.35"/><ellipse cx="898.3" cy="1885.1" rx="3.6" ry="3.35"/><ellipse cx="911.0" cy="1941.8" rx="3.6" ry="3.35"/><ellipse cx="877.1" cy="1937.6" rx="3.6" ry="3.35"/><ellipse cx="1019.4" cy="1944.8" rx="3.6" ry="3.35"/><ellipse cx="868.0" cy="1961.9" rx="3.6" ry="3.35"/><ellipse cx="886.3" cy="1939.0" rx="3.6" ry="3.35"/><ellipse cx="965.8" cy="1948.0" rx="3.6" ry="3.35"/><ellipse cx="999.2" cy="1912.0" rx="3.6" ry="3.35"/><ellipse cx="961.5" cy="1981.5" rx="3.6" ry="3.35"/><ellipse cx="971.9" cy="1938.7" rx="3.6" ry="3.35"/><ellipse cx="820.4" cy="2011.5" rx="3.6" ry="3.35"/><ellipse cx="920.7" cy="1959.8" rx="3.6" ry="3.35"/><ellipse cx="1016.4" cy="1881.1" rx="3.6" ry="3.35"/><ellipse cx="1033.9" cy="1860.0" rx="3.6" ry="3.35"/><ellipse cx="1039.9" cy="1849.5" rx="3.6" ry="3.35"/><ellipse cx="943.3" cy="1872.9" rx="3.6" ry="3.35"/><ellipse cx="856.0" cy="1911.6" rx="3.6" ry="3.35"/><ellipse cx="977.4" cy="1913.8" rx="3.6" ry="3.35"/><ellipse cx="774.6" cy="2057.7" rx="3.6" ry="3.35"/><ellipse cx="901.2" cy="1925.4" rx="3.6" ry="3.35"/><ellipse cx="919.2" cy="1966.9" rx="3.6" ry="3.35"/><ellipse cx="937.1" cy="1950.7" rx="3.6" ry="3.35"/><ellipse cx="979.6" cy="1957.8" rx="3.6" ry="3.35"/><ellipse cx="850.2" cy="2018.5" rx="3.6" ry="3.35"/><ellipse cx="843.3" cy="1971.8" rx="3.6" ry="3.35"/><ellipse cx="829.7" cy="1986.5" rx="3.6" ry="3.35"/><ellipse cx="1012.3" cy="1912.9" rx="3.6" ry="3.35"/><ellipse cx="1040.3" cy="1864.9" rx="3.6" ry="3.35"/><ellipse cx="1026.4" cy="1812.4" rx="3.6" ry="3.35"/><ellipse cx="983.7" cy="1956.1" rx="3.6" ry="3.35"/><ellipse cx="985.9" cy="1898.5" rx="3.6" ry="3.35"/><ellipse cx="899.3" cy="1969.0" rx="3.6" ry="3.35"/><ellipse cx="1067.0" cy="1905.5" rx="3.6" ry="3.35"/><ellipse cx="934.7" cy="1887.9" rx="3.6" ry="3.35"/><ellipse cx="1007.5" cy="1878.4" rx="3.6" ry="3.35"/><ellipse cx="1003.5" cy="1856.4" rx="3.6" ry="3.35"/><ellipse cx="867.8" cy="2001.1" rx="3.6" ry="3.35"/><ellipse cx="963.9" cy="1969.8" rx="3.6" ry="3.35"/><ellipse cx="953.9" cy="1930.9" rx="3.6" ry="3.35"/><ellipse cx="984.5" cy="1912.4" rx="3.6" ry="3.35"/><ellipse cx="885.2" cy="1979.0" rx="3.6" ry="3.35"/><ellipse cx="1029.0" cy="1904.7" rx="3.6" ry="3.35"/><ellipse cx="971.7" cy="1961.3" rx="3.6" ry="3.35"/><ellipse cx="979.0" cy="1889.4" rx="3.6" ry="3.35"/><ellipse cx="923.4" cy="1973.1" rx="3.6" ry="3.35"/><ellipse cx="1057.2" cy="1883.9" rx="3.6" ry="3.35"/><ellipse cx="884.5" cy="1983.1" rx="3.6" ry="3.35"/><ellipse cx="949.0" cy="1897.6" rx="3.6" ry="3.35"/><ellipse cx="965.9" cy="2022.6" rx="3.6" ry="3.35"/><ellipse cx="890.9" cy="1993.8" rx="3.6" ry="3.35"/><ellipse cx="1009.1" cy="1901.1" rx="3.6" ry="3.35"/><ellipse cx="813.1" cy="2037.2" rx="3.6" ry="3.35"/><ellipse cx="912.6" cy="1941.5" rx="3.6" ry="3.35"/><ellipse cx="966.6" cy="1935.1" rx="3.6" ry="3.35"/><ellipse cx="1007.7" cy="1953.3" rx="3.6" ry="3.35"/><ellipse cx="883.1" cy="2012.6" rx="3.6" ry="3.35"/><ellipse cx="940.3" cy="1957.0" rx="3.6" ry="3.35"/><ellipse cx="1036.3" cy="1884.4" rx="3.6" ry="3.35"/><ellipse cx="907.1" cy="1919.8" rx="3.6" ry="3.35"/><ellipse cx="1054.8" cy="1898.7" rx="3.6" ry="3.35"/><ellipse cx="975.9" cy="1906.5" rx="3.6" ry="3.35"/><ellipse cx="1045.6" cy="1811.5" rx="3.6" ry="3.35"/><ellipse cx="1009.1" cy="1975.5" rx="3.6" ry="3.35"/><ellipse cx="1044.1" cy="1901.1" rx="3.6" ry="3.35"/><ellipse cx="978.9" cy="1920.7" rx="3.6" ry="3.35"/><ellipse cx="931.6" cy="1954.4" rx="3.6" ry="3.35"/><ellipse cx="921.7" cy="1955.5" rx="3.6" ry="3.35"/><ellipse cx="899.0" cy="1972.8" rx="3.6" ry="3.35"/><ellipse cx="978.8" cy="1973.4" rx="3.6" ry="3.35"/><ellipse cx="947.6" cy="1963.1" rx="3.6" ry="3.35"/><ellipse cx="928.9" cy="1987.8" rx="3.6" ry="3.35"/><ellipse cx="902.1" cy="1927.5" rx="3.6" ry="3.35"/><ellipse cx="848.6" cy="1975.3" rx="3.6" ry="3.35"/><ellipse cx="930.7" cy="2006.5" rx="3.6" ry="3.35"/><ellipse cx="970.4" cy="1934.9" rx="3.6" ry="3.35"/><ellipse cx="850.6" cy="1979.6" rx="3.6" ry="3.35"/><ellipse cx="910.7" cy="2066.1" rx="3.6" ry="3.35"/><ellipse cx="1030.3" cy="1936.2" rx="3.6" ry="3.35"/><ellipse cx="852.8" cy="1986.1" rx="3.6" ry="3.35"/><ellipse cx="922.2" cy="1963.4" rx="3.6" ry="3.35"/><ellipse cx="844.8" cy="2024.3" rx="3.6" ry="3.35"/><ellipse cx="938.7" cy="1881.4" rx="3.6" ry="3.35"/><ellipse cx="917.8" cy="2001.3" rx="3.6" ry="3.35"/><ellipse cx="993.3" cy="1941.1" rx="3.6" ry="3.35"/><ellipse cx="834.1" cy="2041.3" rx="3.6" ry="3.35"/><ellipse cx="961.4" cy="1940.5" rx="3.6" ry="3.35"/><ellipse cx="855.1" cy="1953.1" rx="3.6" ry="3.35"/><ellipse cx="1029.5" cy="1917.4" rx="3.6" ry="3.35"/><ellipse cx="1016.4" cy="1958.4" rx="3.6" ry="3.35"/><ellipse cx="913.6" cy="1944.4" rx="3.6" ry="3.35"/><ellipse cx="847.4" cy="2050.2" rx="3.6" ry="3.35"/><ellipse cx="960.9" cy="1931.4" rx="3.6" ry="3.35"/><ellipse cx="912.8" cy="1970.7" rx="3.6" ry="3.35"/><ellipse cx="823.6" cy="2050.7" rx="3.6" ry="3.35"/><ellipse cx="942.7" cy="2014.7" rx="3.6" ry="3.35"/><ellipse cx="966.9" cy="1958.9" rx="3.6" ry="3.35"/><ellipse cx="829.4" cy="2002.6" rx="3.6" ry="3.35"/><ellipse cx="911.5" cy="1967.0" rx="3.6" ry="3.35"/><ellipse cx="980.6" cy="1927.0" rx="3.6" ry="3.35"/><ellipse cx="923.7" cy="2007.9" rx="3.6" ry="3.35"/><ellipse cx="997.0" cy="1985.9" rx="3.6" ry="3.35"/><ellipse cx="908.5" cy="1941.0" rx="3.6" ry="3.35"/><ellipse cx="821.5" cy="1987.1" rx="3.6" ry="3.35"/><ellipse cx="940.3" cy="2000.1" rx="3.6" ry="3.35"/><ellipse cx="860.3" cy="1942.8" rx="3.6" ry="3.35"/><ellipse cx="931.7" cy="1941.1" rx="3.6" ry="3.35"/><ellipse cx="973.2" cy="1908.3" rx="3.6" ry="3.35"/><ellipse cx="917.4" cy="1949.0" rx="3.6" ry="3.35"/><ellipse cx="972.6" cy="1862.1" rx="3.6" ry="3.35"/><ellipse cx="978.3" cy="1871.6" rx="3.6" ry="3.35"/><ellipse cx="1010.3" cy="1881.7" rx="3.6" ry="3.35"/><ellipse cx="975.7" cy="1902.4" rx="3.6" ry="3.35"/><ellipse cx="974.6" cy="1946.0" rx="3.6" ry="3.35"/><ellipse cx="844.6" cy="2040.8" rx="3.6" ry="3.35"/><ellipse cx="952.4" cy="1909.3" rx="3.6" ry="3.35"/><ellipse cx="963.4" cy="1856.9" rx="3.6" ry="3.35"/><ellipse cx="859.6" cy="2029.4" rx="3.6" ry="3.35"/><ellipse cx="926.2" cy="1990.0" rx="3.6" ry="3.35"/><ellipse cx="959.7" cy="1965.6" rx="3.6" ry="3.35"/><ellipse cx="999.1" cy="1928.7" rx="3.6" ry="3.35"/><ellipse cx="956.4" cy="1915.2" rx="3.6" ry="3.35"/><ellipse cx="975.2" cy="2001.8" rx="3.6" ry="3.35"/><ellipse cx="913.9" cy="1984.7" rx="3.6" ry="3.35"/><ellipse cx="953.2" cy="1947.4" rx="3.6" ry="3.35"/><ellipse cx="1016.1" cy="1860.7" rx="3.6" ry="3.35"/><ellipse cx="822.2" cy="1956.1" rx="3.6" ry="3.35"/><ellipse cx="944.1" cy="2002.4" rx="3.6" ry="3.35"/><ellipse cx="958.4" cy="1916.8" rx="3.6" ry="3.35"/><ellipse cx="952.7" cy="1960.6" rx="3.6" ry="3.35"/><ellipse cx="976.5" cy="1939.6" rx="3.6" ry="3.35"/><ellipse cx="875.3" cy="2040.0" rx="3.6" ry="3.35"/><ellipse cx="953.0" cy="1964.7" rx="3.6" ry="3.35"/><ellipse cx="890.3" cy="1917.6" rx="3.6" ry="3.35"/><ellipse cx="1054.4" cy="1880.1" rx="3.6" ry="3.35"/><ellipse cx="918.3" cy="1931.9" rx="3.6" ry="3.35"/><ellipse cx="920.9" cy="1960.9" rx="3.6" ry="3.35"/><ellipse cx="940.3" cy="1947.8" rx="3.6" ry="3.35"/><ellipse cx="944.3" cy="1901.0" rx="3.6" ry="3.35"/><ellipse cx="964.6" cy="1954.3" rx="3.6" ry="3.35"/><ellipse cx="894.2" cy="1959.2" rx="3.6" ry="3.35"/><ellipse cx="951.1" cy="1892.6" rx="3.6" ry="3.35"/><ellipse cx="948.7" cy="1923.9" rx="3.6" ry="3.35"/><ellipse cx="986.8" cy="2001.5" rx="3.6" ry="3.35"/><ellipse cx="931.3" cy="1915.0" rx="3.6" ry="3.35"/><ellipse cx="966.4" cy="1931.1" rx="3.6" ry="3.35"/><ellipse cx="915.4" cy="1950.1" rx="3.6" ry="3.35"/><ellipse cx="927.5" cy="1977.4" rx="3.6" ry="3.35"/><ellipse cx="926.7" cy="1962.5" rx="3.6" ry="3.35"/><ellipse cx="985.3" cy="1968.7" rx="3.6" ry="3.35"/><ellipse cx="980.0" cy="1959.6" rx="3.6" ry="3.35"/><ellipse cx="1051.4" cy="1870.0" rx="3.6" ry="3.35"/><ellipse cx="1027.1" cy="1929.0" rx="3.6" ry="3.35"/><ellipse cx="867.6" cy="1968.4" rx="3.6" ry="3.35"/><ellipse cx="991.6" cy="1829.7" rx="3.6" ry="3.35"/><ellipse cx="859.2" cy="2046.6" rx="3.6" ry="3.35"/><ellipse cx="967.8" cy="1974.1" rx="3.6" ry="3.35"/><ellipse cx="1026.4" cy="1853.3" rx="3.6" ry="3.35"/><ellipse cx="859.9" cy="2056.9" rx="3.6" ry="3.35"/><ellipse cx="814.3" cy="1984.9" rx="3.6" ry="3.35"/><ellipse cx="966.9" cy="1893.7" rx="3.6" ry="3.35"/><ellipse cx="922.2" cy="1973.0" rx="3.6" ry="3.35"/><ellipse cx="969.5" cy="1917.0" rx="3.6" ry="3.35"/><ellipse cx="991.0" cy="1931.5" rx="3.6" ry="3.35"/><ellipse cx="974.6" cy="1946.1" rx="3.6" ry="3.35"/><ellipse cx="924.0" cy="1926.6" rx="3.6" ry="3.35"/><ellipse cx="982.6" cy="1893.4" rx="3.6" ry="3.35"/><ellipse cx="1023.1" cy="1847.4" rx="3.6" ry="3.35"/><ellipse cx="937.7" cy="1994.7" rx="3.6" ry="3.35"/><ellipse cx="925.6" cy="1935.7" rx="3.6" ry="3.35"/><ellipse cx="1067.2" cy="1887.2" rx="3.6" ry="3.35"/><ellipse cx="985.1" cy="1922.0" rx="3.6" ry="3.35"/><ellipse cx="1025.3" cy="1946.4" rx="3.6" ry="3.35"/><ellipse cx="895.4" cy="1938.9" rx="3.6" ry="3.35"/><ellipse cx="762.1" cy="2053.8" rx="3.6" ry="3.35"/><ellipse cx="974.5" cy="1991.7" rx="3.6" ry="3.35"/><ellipse cx="930.3" cy="1980.0" rx="3.6" ry="3.35"/><ellipse cx="917.9" cy="1925.7" rx="3.6" ry="3.35"/><ellipse cx="848.8" cy="1975.3" rx="3.6" ry="3.35"/><ellipse cx="1003.0" cy="1921.1" rx="3.6" ry="3.35"/><ellipse cx="835.9" cy="2047.6" rx="3.6" ry="3.35"/><ellipse cx="957.8" cy="1898.4" rx="3.6" ry="3.35"/><ellipse cx="846.9" cy="2041.0" rx="3.6" ry="3.35"/><ellipse cx="943.1" cy="1934.3" rx="3.6" ry="3.35"/><ellipse cx="990.7" cy="1850.0" rx="3.6" ry="3.35"/><ellipse cx="922.2" cy="2010.1" rx="3.6" ry="3.35"/><ellipse cx="890.1" cy="1980.6" rx="3.6" ry="3.35"/><ellipse cx="1016.3" cy="1918.8" rx="3.6" ry="3.35"/><ellipse cx="936.1" cy="1912.5" rx="3.6" ry="3.35"/><ellipse cx="916.6" cy="1943.3" rx="3.6" ry="3.35"/><ellipse cx="994.1" cy="1863.0" rx="3.6" ry="3.35"/><ellipse cx="911.2" cy="1964.8" rx="3.6" ry="3.35"/><ellipse cx="1008.2" cy="1906.5" rx="3.6" ry="3.35"/><ellipse cx="945.2" cy="1954.0" rx="3.6" ry="3.35"/><ellipse cx="878.8" cy="2059.9" rx="3.6" ry="3.35"/><ellipse cx="837.6" cy="2002.2" rx="3.6" ry="3.35"/><ellipse cx="890.1" cy="1990.0" rx="3.6" ry="3.35"/><ellipse cx="985.9" cy="1959.3" rx="3.6" ry="3.35"/><ellipse cx="780.3" cy="2011.5" rx="3.6" ry="3.35"/><ellipse cx="741.5" cy="2066.8" rx="3.6" ry="3.35"/><ellipse cx="830.8" cy="2070.5" rx="3.6" ry="3.35"/><ellipse cx="817.5" cy="2010.0" rx="3.6" ry="3.35"/><ellipse cx="844.7" cy="1977.4" rx="3.6" ry="3.35"/><ellipse cx="875.7" cy="2001.3" rx="3.6" ry="3.35"/><ellipse cx="814.9" cy="2003.2" rx="3.6" ry="3.35"/><ellipse cx="816.6" cy="2048.9" rx="3.6" ry="3.35"/><ellipse cx="824.8" cy="2021.0" rx="3.6" ry="3.35"/><ellipse cx="787.2" cy="2013.1" rx="3.6" ry="3.35"/><ellipse cx="811.2" cy="2004.4" rx="3.6" ry="3.35"/><ellipse cx="812.2" cy="2026.2" rx="3.6" ry="3.35"/><ellipse cx="770.7" cy="2017.5" rx="3.6" ry="3.35"/><ellipse cx="855.8" cy="1999.8" rx="3.6" ry="3.35"/><ellipse cx="738.8" cy="2031.6" rx="3.6" ry="3.35"/><ellipse cx="747.3" cy="2054.3" rx="3.6" ry="3.35"/><ellipse cx="766.7" cy="2069.3" rx="3.6" ry="3.35"/><ellipse cx="785.2" cy="2009.7" rx="3.6" ry="3.35"/><ellipse cx="799.4" cy="2006.0" rx="3.6" ry="3.35"/><ellipse cx="766.3" cy="2028.9" rx="3.6" ry="3.35"/><ellipse cx="728.6" cy="2049.3" rx="3.6" ry="3.35"/><ellipse cx="808.9" cy="2029.7" rx="3.6" ry="3.35"/><ellipse cx="806.5" cy="2044.5" rx="3.6" ry="3.35"/><ellipse cx="835.5" cy="2037.8" rx="3.6" ry="3.35"/><ellipse cx="752.7" cy="2061.5" rx="3.6" ry="3.35"/><ellipse cx="802.7" cy="2016.2" rx="3.6" ry="3.35"/><ellipse cx="869.6" cy="1974.8" rx="3.6" ry="3.35"/><ellipse cx="797.5" cy="2073.0" rx="3.6" ry="3.35"/><ellipse cx="801.5" cy="2028.1" rx="3.6" ry="3.35"/><ellipse cx="759.6" cy="2082.6" rx="3.6" ry="3.35"/><ellipse cx="786.1" cy="2050.2" rx="3.6" ry="3.35"/><ellipse cx="791.7" cy="2054.3" rx="3.6" ry="3.35"/><ellipse cx="790.3" cy="2005.8" rx="3.6" ry="3.35"/><ellipse cx="768.9" cy="2071.9" rx="3.6" ry="3.35"/><ellipse cx="905.8" cy="1936.0" rx="3.6" ry="3.35"/><ellipse cx="760.8" cy="2061.1" rx="3.6" ry="3.35"/><ellipse cx="758.5" cy="2030.5" rx="3.6" ry="3.35"/><ellipse cx="745.3" cy="2048.7" rx="3.6" ry="3.35"/><ellipse cx="809.5" cy="2039.4" rx="3.6" ry="3.35"/><ellipse cx="769.6" cy="2038.7" rx="3.6" ry="3.35"/><ellipse cx="787.8" cy="2037.7" rx="3.6" ry="3.35"/><ellipse cx="783.2" cy="2049.9" rx="3.6" ry="3.35"/><ellipse cx="702.9" cy="2082.4" rx="3.6" ry="3.35"/><ellipse cx="814.8" cy="2037.7" rx="3.6" ry="3.35"/><ellipse cx="781.1" cy="2057.2" rx="3.6" ry="3.35"/><ellipse cx="678.0" cy="2160.0" rx="3.6" ry="3.35"/><ellipse cx="717.0" cy="2129.0" rx="3.6" ry="3.35"/><ellipse cx="724.0" cy="2106.0" rx="3.6" ry="3.35"/><ellipse cx="1043.0" cy="1797.0" rx="3.6" ry="3.35"/><ellipse cx="712.0" cy="2027.0" rx="3.6" ry="3.35"/><ellipse cx="734.0" cy="2035.0" rx="3.6" ry="3.35"/><ellipse cx="1067.0" cy="1836.0" rx="3.6" ry="3.35"/><ellipse cx="741.0" cy="2043.0" rx="3.6" ry="3.35"/>
</g>
<line x1="678.3" y1="2093.3" x2="1068.3" y2="1876.7" stroke="#ee7a88" stroke-width="1.2"/>
<rect x="655" y="1760" width="467.5" height="437.5" fill="none" stroke="#000" stroke-width="2"/>
<text x="716.216" y="2229.5">-20</text>
<text x="807.416" y="2229.5">-10</text>
<text x="923.318" y="2229.5">0</text>
<text x="1010.39" y="2229.5">10</text>
<text x="646" y="1860.4" text-anchor="end">8</text>
<text x="646" y="1954.4" text-anchor="end">7</text>
<text x="646" y="2048.7" text-anchor="end">6</text>
<text x="646" y="2142.9" text-anchor="end">5</text>
<text x="665.452" y="1798.8">r=0.73</text>
<text x="1000.89" y="2172">CCLE</text>
<line x1="1272.4" y1="1760" x2="1272.4" y2="2197.5" stroke="#f6f6f6" stroke-width="1"/>
<line x1="1402.9" y1="1760" x2="1402.9" y2="2197.5" stroke="#f6f6f6" stroke-width="1"/>
<line x1="1533.4" y1="1760" x2="1533.4" y2="2197.5" stroke="#f6f6f6" stroke-width="1"/>
<line x1="1175" y1="1780.3" x2="1642.5" y2="1780.3" stroke="#f6f6f6" stroke-width="1"/>
<line x1="1175" y1="1882.7" x2="1642.5" y2="1882.7" stroke="#f6f6f6" stroke-width="1"/>
<line x1="1175" y1="1985.1" x2="1642.5" y2="1985.1" stroke="#f6f6f6" stroke-width="1"/>
<line x1="1175" y1="2087.7" x2="1642.5" y2="2087.7" stroke="#f6f6f6" stroke-width="1"/>
<line x1="1175" y1="2190.1" x2="1642.5" y2="2190.1" stroke="#f6f6f6" stroke-width="1"/>
<g fill="#0000ff" fill-opacity="0.32" stroke="#000078" stroke-opacity="0.55" stroke-width="0.8">
<ellipse cx="1329.6" cy="1962.5" rx="4.4" ry="3.8"/><ellipse cx="1377.9" cy="1943.1" rx="4.4" ry="3.8"/><ellipse cx="1331.5" cy="1919.7" rx="4.4" ry="3.8"/><ellipse cx="1384.2" cy="1955.9" rx="4.4" ry="3.8"/><ellipse cx="1343.9" cy="1938.3" rx="4.4" ry="3.8"/><ellipse cx="1289.9" cy="1995.3" rx="4.4" ry="3.8"/><ellipse cx="1335.9" cy="1976.3" rx="4.4" ry="3.8"/><ellipse cx="1408.0" cy="1943.3" rx="4.4" ry="3.8"/><ellipse cx="1359.8" cy="2007.5" rx="4.4" ry="3.8"/><ellipse cx="1358.1" cy="1977.3" rx="4.4" ry="3.8"/><ellipse cx="1329.8" cy="1946.7" rx="4.4" ry="3.8"/><ellipse cx="1316.1" cy="2022.5" rx="4.4" ry="3.8"/><ellipse cx="1402.4" cy="1942.5" rx="4.4" ry="3.8"/><ellipse cx="1361.7" cy="1958.6" rx="4.4" ry="3.8"/><ellipse cx="1446.8" cy="1987.0" rx="4.4" ry="3.8"/><ellipse cx="1363.5" cy="2001.1" rx="4.4" ry="3.8"/><ellipse cx="1407.8" cy="1923.8" rx="4.4" ry="3.8"/><ellipse cx="1386.9" cy="1991.7" rx="4.4" ry="3.8"/><ellipse cx="1369.1" cy="2004.0" rx="4.4" ry="3.8"/><ellipse cx="1404.6" cy="1964.9" rx="4.4" ry="3.8"/><ellipse cx="1357.9" cy="2012.9" rx="4.4" ry="3.8"/><ellipse cx="1373.7" cy="1989.1" rx="4.4" ry="3.8"/><ellipse cx="1427.6" cy="1972.0" rx="4.4" ry="3.8"/><ellipse cx="1367.4" cy="1925.5" rx="4.4" ry="3.8"/><ellipse cx="1380.1" cy="1985.5" rx="4.4" ry="3.8"/><ellipse cx="1387.1" cy="1990.9" rx="4.4" ry="3.8"/><ellipse cx="1390.5" cy="1978.0" rx="4.4" ry="3.8"/><ellipse cx="1373.7" cy="1996.1" rx="4.4" ry="3.8"/><ellipse cx="1349.1" cy="1945.1" rx="4.4" ry="3.8"/><ellipse cx="1340.1" cy="1988.3" rx="4.4" ry="3.8"/><ellipse cx="1317.0" cy="1973.1" rx="4.4" ry="3.8"/><ellipse cx="1363.9" cy="1988.8" rx="4.4" ry="3.8"/><ellipse cx="1338.9" cy="1987.1" rx="4.4" ry="3.8"/><ellipse cx="1370.8" cy="1955.1" rx="4.4" ry="3.8"/><ellipse cx="1371.6" cy="1968.2" rx="4.4" ry="3.8"/><ellipse cx="1336.7" cy="1972.6" rx="4.4" ry="3.8"/><ellipse cx="1342.9" cy="2054.6" rx="4.4" ry="3.8"/><ellipse cx="1362.7" cy="1953.9" rx="4.4" ry="3.8"/><ellipse cx="1326.7" cy="1988.0" rx="4.4" ry="3.8"/><ellipse cx="1380.6" cy="1973.6" rx="4.4" ry="3.8"/><ellipse cx="1329.1" cy="1949.0" rx="4.4" ry="3.8"/><ellipse cx="1337.4" cy="1992.4" rx="4.4" ry="3.8"/><ellipse cx="1344.7" cy="1979.7" rx="4.4" ry="3.8"/><ellipse cx="1422.7" cy="1889.6" rx="4.4" ry="3.8"/><ellipse cx="1361.9" cy="1976.7" rx="4.4" ry="3.8"/><ellipse cx="1324.8" cy="2028.2" rx="4.4" ry="3.8"/><ellipse cx="1361.6" cy="1991.9" rx="4.4" ry="3.8"/><ellipse cx="1386.7" cy="2023.4" rx="4.4" ry="3.8"/><ellipse cx="1350.3" cy="1957.7" rx="4.4" ry="3.8"/><ellipse cx="1331.8" cy="1939.8" rx="4.4" ry="3.8"/><ellipse cx="1423.3" cy="1942.3" rx="4.4" ry="3.8"/><ellipse cx="1318.0" cy="2016.9" rx="4.4" ry="3.8"/><ellipse cx="1422.0" cy="1923.2" rx="4.4" ry="3.8"/><ellipse cx="1368.1" cy="1923.5" rx="4.4" ry="3.8"/><ellipse cx="1309.7" cy="1986.2" rx="4.4" ry="3.8"/><ellipse cx="1334.1" cy="1941.2" rx="4.4" ry="3.8"/><ellipse cx="1369.8" cy="1990.0" rx="4.4" ry="3.8"/><ellipse cx="1362.9" cy="2025.4" rx="4.4" ry="3.8"/><ellipse cx="1350.1" cy="1968.2" rx="4.4" ry="3.8"/><ellipse cx="1395.6" cy="2051.9" rx="4.4" ry="3.8"/><ellipse cx="1429.7" cy="1993.2" rx="4.4" ry="3.8"/><ellipse cx="1373.4" cy="1923.2" rx="4.4" ry="3.8"/><ellipse cx="1413.3" cy="1958.8" rx="4.4" ry="3.8"/><ellipse cx="1438.9" cy="1956.6" rx="4.4" ry="3.8"/><ellipse cx="1310.8" cy="2035.0" rx="4.4" ry="3.8"/><ellipse cx="1374.4" cy="1953.0" rx="4.4" ry="3.8"/><ellipse cx="1374.0" cy="1974.1" rx="4.4" ry="3.8"/><ellipse cx="1378.2" cy="1904.9" rx="4.4" ry="3.8"/><ellipse cx="1370.0" cy="1991.8" rx="4.4" ry="3.8"/><ellipse cx="1332.1" cy="2035.4" rx="4.4" ry="3.8"/><ellipse cx="1364.5" cy="1898.8" rx="4.4" ry="3.8"/><ellipse cx="1417.3" cy="1946.5" rx="4.4" ry="3.8"/><ellipse cx="1370.8" cy="1967.2" rx="4.4" ry="3.8"/><ellipse cx="1427.7" cy="1959.2" rx="4.4" ry="3.8"/><ellipse cx="1348.4" cy="1956.9" rx="4.4" ry="3.8"/><ellipse cx="1386.7" cy="1993.0" rx="4.4" ry="3.8"/><ellipse cx="1349.4" cy="2017.3" rx="4.4" ry="3.8"/><ellipse cx="1348.8" cy="1987.7" rx="4.4" ry="3.8"/><ellipse cx="1385.6" cy="1981.3" rx="4.4" ry="3.8"/><ellipse cx="1377.5" cy="1983.7" rx="4.4" ry="3.8"/><ellipse cx="1354.4" cy="1988.4" rx="4.4" ry="3.8"/><ellipse cx="1379.6" cy="1925.2" rx="4.4" ry="3.8"/><ellipse cx="1326.5" cy="1999.9" rx="4.4" ry="3.8"/><ellipse cx="1368.6" cy="1982.0" rx="4.4" ry="3.8"/><ellipse cx="1392.0" cy="1983.2" rx="4.4" ry="3.8"/><ellipse cx="1353.3" cy="2000.6" rx="4.4" ry="3.8"/><ellipse cx="1348.3" cy="2047.4" rx="4.4" ry="3.8"/><ellipse cx="1400.7" cy="1966.4" rx="4.4" ry="3.8"/><ellipse cx="1349.9" cy="2000.2" rx="4.4" ry="3.8"/><ellipse cx="1364.6" cy="1948.3" rx="4.4" ry="3.8"/><ellipse cx="1385.1" cy="1974.8" rx="4.4" ry="3.8"/><ellipse cx="1395.4" cy="1961.0" rx="4.4" ry="3.8"/><ellipse cx="1427.2" cy="2024.1" rx="4.4" ry="3.8"/><ellipse cx="1322.0" cy="1912.6" rx="4.4" ry="3.8"/><ellipse cx="1341.2" cy="2042.4" rx="4.4" ry="3.8"/><ellipse cx="1389.4" cy="1974.8" rx="4.4" ry="3.8"/><ellipse cx="1378.0" cy="1927.0" rx="4.4" ry="3.8"/><ellipse cx="1375.3" cy="1935.4" rx="4.4" ry="3.8"/><ellipse cx="1376.6" cy="1960.7" rx="4.4" ry="3.8"/><ellipse cx="1354.2" cy="1960.9" rx="4.4" ry="3.8"/><ellipse cx="1387.4" cy="2043.0" rx="4.4" ry="3.8"/><ellipse cx="1318.3" cy="2018.5" rx="4.4" ry="3.8"/><ellipse cx="1357.7" cy="2037.2" rx="4.4" ry="3.8"/><ellipse cx="1403.2" cy="1934.1" rx="4.4" ry="3.8"/><ellipse cx="1372.3" cy="2028.9" rx="4.4" ry="3.8"/><ellipse cx="1419.4" cy="1937.8" rx="4.4" ry="3.8"/><ellipse cx="1339.6" cy="1995.8" rx="4.4" ry="3.8"/><ellipse cx="1409.8" cy="1999.2" rx="4.4" ry="3.8"/><ellipse cx="1379.5" cy="1992.9" rx="4.4" ry="3.8"/><ellipse cx="1385.6" cy="1973.4" rx="4.4" ry="3.8"/><ellipse cx="1342.6" cy="2010.5" rx="4.4" ry="3.8"/><ellipse cx="1382.3" cy="2005.3" rx="4.4" ry="3.8"/><ellipse cx="1368.7" cy="1956.7" rx="4.4" ry="3.8"/><ellipse cx="1392.1" cy="2001.5" rx="4.4" ry="3.8"/><ellipse cx="1423.2" cy="1909.2" rx="4.4" ry="3.8"/><ellipse cx="1356.1" cy="1970.6" rx="4.4" ry="3.8"/><ellipse cx="1434.0" cy="1869.2" rx="4.4" ry="3.8"/><ellipse cx="1397.8" cy="1937.4" rx="4.4" ry="3.8"/><ellipse cx="1338.5" cy="2016.8" rx="4.4" ry="3.8"/><ellipse cx="1392.3" cy="1848.5" rx="4.4" ry="3.8"/><ellipse cx="1332.4" cy="1986.5" rx="4.4" ry="3.8"/><ellipse cx="1354.1" cy="2022.1" rx="4.4" ry="3.8"/><ellipse cx="1344.4" cy="1972.7" rx="4.4" ry="3.8"/><ellipse cx="1303.6" cy="2015.2" rx="4.4" ry="3.8"/><ellipse cx="1370.0" cy="2002.4" rx="4.4" ry="3.8"/><ellipse cx="1348.0" cy="2050.8" rx="4.4" ry="3.8"/><ellipse cx="1349.5" cy="2046.8" rx="4.4" ry="3.8"/><ellipse cx="1423.2" cy="1923.9" rx="4.4" ry="3.8"/><ellipse cx="1374.6" cy="1948.5" rx="4.4" ry="3.8"/><ellipse cx="1314.8" cy="2011.6" rx="4.4" ry="3.8"/><ellipse cx="1369.1" cy="2025.2" rx="4.4" ry="3.8"/><ellipse cx="1416.1" cy="1895.4" rx="4.4" ry="3.8"/><ellipse cx="1359.1" cy="1992.1" rx="4.4" ry="3.8"/><ellipse cx="1393.7" cy="1972.7" rx="4.4" ry="3.8"/><ellipse cx="1344.7" cy="1972.0" rx="4.4" ry="3.8"/><ellipse cx="1387.5" cy="1918.9" rx="4.4" ry="3.8"/><ellipse cx="1327.3" cy="1937.1" rx="4.4" ry="3.8"/><ellipse cx="1347.4" cy="2028.7" rx="4.4" ry="3.8"/><ellipse cx="1353.3" cy="2003.7" rx="4.4" ry="3.8"/><ellipse cx="1407.7" cy="2006.3" rx="4.4" ry="3.8"/><ellipse cx="1374.1" cy="1966.6" rx="4.4" ry="3.8"/><ellipse cx="1365.8" cy="1961.3" rx="4.4" ry="3.8"/><ellipse cx="1345.3" cy="1997.2" rx="4.4" ry="3.8"/><ellipse cx="1394.2" cy="1942.9" rx="4.4" ry="3.8"/><ellipse cx="1339.9" cy="1980.0" rx="4.4" ry="3.8"/><ellipse cx="1367.3" cy="2002.6" rx="4.4" ry="3.8"/><ellipse cx="1372.7" cy="1975.1" rx="4.4" ry="3.8"/><ellipse cx="1321.3" cy="1968.7" rx="4.4" ry="3.8"/><ellipse cx="1356.9" cy="1951.5" rx="4.4" ry="3.8"/><ellipse cx="1380.1" cy="1969.2" rx="4.4" ry="3.8"/><ellipse cx="1343.4" cy="1995.6" rx="4.4" ry="3.8"/><ellipse cx="1400.8" cy="2051.6" rx="4.4" ry="3.8"/><ellipse cx="1364.5" cy="1955.3" rx="4.4" ry="3.8"/><ellipse cx="1392.2" cy="2028.8" rx="4.4" ry="3.8"/><ellipse cx="1350.3" cy="2002.4" rx="4.4" ry="3.8"/><ellipse cx="1360.3" cy="2008.6" rx="4.4" ry="3.8"/><ellipse cx="1346.0" cy="1963.2" rx="4.4" ry="3.8"/><ellipse cx="1358.9" cy="1969.2" rx="4.4" ry="3.8"/><ellipse cx="1329.3" cy="1974.6" rx="4.4" ry="3.8"/><ellipse cx="1342.4" cy="2050.9" rx="4.4" ry="3.8"/><ellipse cx="1407.5" cy="1937.9" rx="4.4" ry="3.8"/><ellipse cx="1352.6" cy="1990.7" rx="4.4" ry="3.8"/><ellipse cx="1350.5" cy="1957.0" rx="4.4" ry="3.8"/><ellipse cx="1386.8" cy="2008.7" rx="4.4" ry="3.8"/><ellipse cx="1381.2" cy="2021.7" rx="4.4" ry="3.8"/><ellipse cx="1368.3" cy="1968.1" rx="4.4" ry="3.8"/><ellipse cx="1354.8" cy="1959.6" rx="4.4" ry="3.8"/><ellipse cx="1343.0" cy="2033.5" rx="4.4" ry="3.8"/><ellipse cx="1393.4" cy="1959.2" rx="4.4" ry="3.8"/><ellipse cx="1368.8" cy="1938.7" rx="4.4" ry="3.8"/><ellipse cx="1385.3" cy="1960.3" rx="4.4" ry="3.8"/><ellipse cx="1361.6" cy="1962.3" rx="4.4" ry="3.8"/><ellipse cx="1322.0" cy="1964.8" rx="4.4" ry="3.8"/><ellipse cx="1411.7" cy="1927.3" rx="4.4" ry="3.8"/><ellipse cx="1339.1" cy="1970.9" rx="4.4" ry="3.8"/><ellipse cx="1338.3" cy="1942.9" rx="4.4" ry="3.8"/><ellipse cx="1331.6" cy="1946.2" rx="4.4" ry="3.8"/><ellipse cx="1365.9" cy="1885.3" rx="4.4" ry="3.8"/><ellipse cx="1323.5" cy="1934.0" rx="4.4" ry="3.8"/><ellipse cx="1366.2" cy="1937.4" rx="4.4" ry="3.8"/><ellipse cx="1377.3" cy="1936.9" rx="4.4" ry="3.8"/><ellipse cx="1397.3" cy="1896.5" rx="4.4" ry="3.8"/><ellipse cx="1420.5" cy="1907.9" rx="4.4" ry="3.8"/><ellipse cx="1355.5" cy="1936.0" rx="4.4" ry="3.8"/><ellipse cx="1357.7" cy="2029.8" rx="4.4" ry="3.8"/><ellipse cx="1390.1" cy="1945.0" rx="4.4" ry="3.8"/><ellipse cx="1380.4" cy="2032.2" rx="4.4" ry="3.8"/><ellipse cx="1385.2" cy="1954.9" rx="4.4" ry="3.8"/><ellipse cx="1377.4" cy="1985.4" rx="4.4" ry="3.8"/><ellipse cx="1314.3" cy="1967.1" rx="4.4" ry="3.8"/><ellipse cx="1368.8" cy="2041.0" rx="4.4" ry="3.8"/><ellipse cx="1387.7" cy="1975.6" rx="4.4" ry="3.8"/><ellipse cx="1319.6" cy="1970.0" rx="4.4" ry="3.8"/><ellipse cx="1322.3" cy="1990.0" rx="4.4" ry="3.8"/><ellipse cx="1349.4" cy="2008.1" rx="4.4" ry="3.8"/><ellipse cx="1366.1" cy="1974.3" rx="4.4" ry="3.8"/><ellipse cx="1376.5" cy="2005.1" rx="4.4" ry="3.8"/><ellipse cx="1357.0" cy="1956.4" rx="4.4" ry="3.8"/><ellipse cx="1371.7" cy="2088.8" rx="4.4" ry="3.8"/><ellipse cx="1350.0" cy="1947.7" rx="4.4" ry="3.8"/><ellipse cx="1492.2" cy="1855.9" rx="4.4" ry="3.8"/><ellipse cx="1504.4" cy="1870.7" rx="4.4" ry="3.8"/><ellipse cx="1450.9" cy="1938.4" rx="4.4" ry="3.8"/><ellipse cx="1416.2" cy="1990.9" rx="4.4" ry="3.8"/><ellipse cx="1469.8" cy="1995.5" rx="4.4" ry="3.8"/><ellipse cx="1505.2" cy="1906.8" rx="4.4" ry="3.8"/><ellipse cx="1514.3" cy="1958.0" rx="4.4" ry="3.8"/><ellipse cx="1478.6" cy="1952.1" rx="4.4" ry="3.8"/><ellipse cx="1538.7" cy="1882.9" rx="4.4" ry="3.8"/><ellipse cx="1547.3" cy="1924.0" rx="4.4" ry="3.8"/><ellipse cx="1504.7" cy="1984.4" rx="4.4" ry="3.8"/><ellipse cx="1385.3" cy="2035.9" rx="4.4" ry="3.8"/><ellipse cx="1446.7" cy="1956.6" rx="4.4" ry="3.8"/><ellipse cx="1380.4" cy="2039.0" rx="4.4" ry="3.8"/><ellipse cx="1489.3" cy="1855.7" rx="4.4" ry="3.8"/><ellipse cx="1532.5" cy="1915.7" rx="4.4" ry="3.8"/><ellipse cx="1438.3" cy="1867.3" rx="4.4" ry="3.8"/><ellipse cx="1583.5" cy="1850.1" rx="4.4" ry="3.8"/><ellipse cx="1511.4" cy="1894.5" rx="4.4" ry="3.8"/><ellipse cx="1410.0" cy="2021.2" rx="4.4" ry="3.8"/><ellipse cx="1510.8" cy="1959.2" rx="4.4" ry="3.8"/><ellipse cx="1443.0" cy="1982.8" rx="4.4" ry="3.8"/><ellipse cx="1507.7" cy="1999.5" rx="4.4" ry="3.8"/><ellipse cx="1464.2" cy="1964.9" rx="4.4" ry="3.8"/><ellipse cx="1516.5" cy="1806.3" rx="4.4" ry="3.8"/><ellipse cx="1487.4" cy="2016.5" rx="4.4" ry="3.8"/><ellipse cx="1509.9" cy="1947.4" rx="4.4" ry="3.8"/><ellipse cx="1517.5" cy="1989.9" rx="4.4" ry="3.8"/><ellipse cx="1364.6" cy="1955.2" rx="4.4" ry="3.8"/><ellipse cx="1416.1" cy="1894.9" rx="4.4" ry="3.8"/><ellipse cx="1529.9" cy="1871.9" rx="4.4" ry="3.8"/><ellipse cx="1477.7" cy="1973.2" rx="4.4" ry="3.8"/><ellipse cx="1543.3" cy="1839.5" rx="4.4" ry="3.8"/><ellipse cx="1378.9" cy="1882.5" rx="4.4" ry="3.8"/><ellipse cx="1494.8" cy="1886.2" rx="4.4" ry="3.8"/><ellipse cx="1497.6" cy="1984.7" rx="4.4" ry="3.8"/><ellipse cx="1584.9" cy="1843.5" rx="4.4" ry="3.8"/><ellipse cx="1479.5" cy="1942.1" rx="4.4" ry="3.8"/><ellipse cx="1343.5" cy="2036.5" rx="4.4" ry="3.8"/><ellipse cx="1557.3" cy="1840.8" rx="4.4" ry="3.8"/><ellipse cx="1510.2" cy="1943.8" rx="4.4" ry="3.8"/><ellipse cx="1482.0" cy="1885.4" rx="4.4" ry="3.8"/><ellipse cx="1405.6" cy="2092.9" rx="4.4" ry="3.8"/><ellipse cx="1543.1" cy="1921.8" rx="4.4" ry="3.8"/><ellipse cx="1543.2" cy="1860.7" rx="4.4" ry="3.8"/><ellipse cx="1509.8" cy="1902.4" rx="4.4" ry="3.8"/><ellipse cx="1312.2" cy="1958.4" rx="4.4" ry="3.8"/><ellipse cx="1516.3" cy="1967.2" rx="4.4" ry="3.8"/><ellipse cx="1508.6" cy="1927.9" rx="4.4" ry="3.8"/><ellipse cx="1487.3" cy="1853.1" rx="4.4" ry="3.8"/><ellipse cx="1462.8" cy="2106.2" rx="4.4" ry="3.8"/><ellipse cx="1478.3" cy="1915.2" rx="4.4" ry="3.8"/><ellipse cx="1600.1" cy="1884.4" rx="4.4" ry="3.8"/><ellipse cx="1457.0" cy="1952.9" rx="4.4" ry="3.8"/><ellipse cx="1489.6" cy="1870.3" rx="4.4" ry="3.8"/><ellipse cx="1471.1" cy="1924.2" rx="4.4" ry="3.8"/><ellipse cx="1360.3" cy="2004.0" rx="4.4" ry="3.8"/><ellipse cx="1466.8" cy="1915.4" rx="4.4" ry="3.8"/><ellipse cx="1439.3" cy="2009.0" rx="4.4" ry="3.8"/><ellipse cx="1290.9" cy="2060.8" rx="4.4" ry="3.8"/><ellipse cx="1475.2" cy="1942.5" rx="4.4" ry="3.8"/><ellipse cx="1447.1" cy="1936.3" rx="4.4" ry="3.8"/><ellipse cx="1522.1" cy="1876.1" rx="4.4" ry="3.8"/><ellipse cx="1580.7" cy="1831.1" rx="4.4" ry="3.8"/><ellipse cx="1506.5" cy="1917.8" rx="4.4" ry="3.8"/><ellipse cx="1570.2" cy="1938.9" rx="4.4" ry="3.8"/><ellipse cx="1367.1" cy="2008.6" rx="4.4" ry="3.8"/><ellipse cx="1412.0" cy="1989.3" rx="4.4" ry="3.8"/><ellipse cx="1466.1" cy="1897.9" rx="4.4" ry="3.8"/><ellipse cx="1409.6" cy="1972.4" rx="4.4" ry="3.8"/><ellipse cx="1461.2" cy="1931.7" rx="4.4" ry="3.8"/><ellipse cx="1392.6" cy="1994.4" rx="4.4" ry="3.8"/><ellipse cx="1418.9" cy="1864.4" rx="4.4" ry="3.8"/><ellipse cx="1362.7" cy="2086.9" rx="4.4" ry="3.8"/><ellipse cx="1454.2" cy="1903.6" rx="4.4" ry="3.8"/><ellipse cx="1417.6" cy="1949.2" rx="4.4" ry="3.8"/><ellipse cx="1464.0" cy="1938.8" rx="4.4" ry="3.8"/><ellipse cx="1518.8" cy="1895.9" rx="4.4" ry="3.8"/><ellipse cx="1498.2" cy="1935.6" rx="4.4" ry="3.8"/><ellipse cx="1446.2" cy="1990.2" rx="4.4" ry="3.8"/><ellipse cx="1503.5" cy="1888.7" rx="4.4" ry="3.8"/><ellipse cx="1515.3" cy="1905.8" rx="4.4" ry="3.8"/><ellipse cx="1386.3" cy="2086.7" rx="4.4" ry="3.8"/><ellipse cx="1563.8" cy="1811.7" rx="4.4" ry="3.8"/><ellipse cx="1489.6" cy="1950.5" rx="4.4" ry="3.8"/><ellipse cx="1452.9" cy="1908.7" rx="4.4" ry="3.8"/><ellipse cx="1493.6" cy="1950.0" rx="4.4" ry="3.8"/><ellipse cx="1448.4" cy="1995.1" rx="4.4" ry="3.8"/><ellipse cx="1375.8" cy="1851.1" rx="4.4" ry="3.8"/><ellipse cx="1525.6" cy="2003.2" rx="4.4" ry="3.8"/><ellipse cx="1368.7" cy="1930.1" rx="4.4" ry="3.8"/><ellipse cx="1540.7" cy="1978.9" rx="4.4" ry="3.8"/><ellipse cx="1481.1" cy="1890.9" rx="4.4" ry="3.8"/><ellipse cx="1574.7" cy="1919.3" rx="4.4" ry="3.8"/><ellipse cx="1399.2" cy="1912.4" rx="4.4" ry="3.8"/><ellipse cx="1475.8" cy="1858.7" rx="4.4" ry="3.8"/><ellipse cx="1527.6" cy="1908.3" rx="4.4" ry="3.8"/><ellipse cx="1504.5" cy="1811.7" rx="4.4" ry="3.8"/><ellipse cx="1421.0" cy="1986.0" rx="4.4" ry="3.8"/><ellipse cx="1385.4" cy="1927.3" rx="4.4" ry="3.8"/><ellipse cx="1390.1" cy="2021.4" rx="4.4" ry="3.8"/><ellipse cx="1529.6" cy="1906.6" rx="4.4" ry="3.8"/><ellipse cx="1500.8" cy="1917.6" rx="4.4" ry="3.8"/><ellipse cx="1374.3" cy="1931.5" rx="4.4" ry="3.8"/><ellipse cx="1430.1" cy="1986.4" rx="4.4" ry="3.8"/><ellipse cx="1461.8" cy="1998.0" rx="4.4" ry="3.8"/><ellipse cx="1422.5" cy="1999.9" rx="4.4" ry="3.8"/><ellipse cx="1475.1" cy="2013.6" rx="4.4" ry="3.8"/><ellipse cx="1480.4" cy="1981.4" rx="4.4" ry="3.8"/><ellipse cx="1339.1" cy="2025.5" rx="4.4" ry="3.8"/><ellipse cx="1465.8" cy="1980.1" rx="4.4" ry="3.8"/><ellipse cx="1484.7" cy="1871.6" rx="4.4" ry="3.8"/><ellipse cx="1593.1" cy="1990.1" rx="4.4" ry="3.8"/><ellipse cx="1498.9" cy="2003.8" rx="4.4" ry="3.8"/><ellipse cx="1480.4" cy="2038.7" rx="4.4" ry="3.8"/><ellipse cx="1412.3" cy="2023.5" rx="4.4" ry="3.8"/><ellipse cx="1499.3" cy="1855.7" rx="4.4" ry="3.8"/><ellipse cx="1452.5" cy="1994.1" rx="4.4" ry="3.8"/><ellipse cx="1406.3" cy="1941.0" rx="4.4" ry="3.8"/><ellipse cx="1466.8" cy="1928.1" rx="4.4" ry="3.8"/><ellipse cx="1476.3" cy="1944.7" rx="4.4" ry="3.8"/><ellipse cx="1485.0" cy="1909.2" rx="4.4" ry="3.8"/><ellipse cx="1473.0" cy="1887.1" rx="4.4" ry="3.8"/><ellipse cx="1556.7" cy="1888.5" rx="4.4" ry="3.8"/><ellipse cx="1488.2" cy="1918.5" rx="4.4" ry="3.8"/><ellipse cx="1519.7" cy="1893.4" rx="4.4" ry="3.8"/><ellipse cx="1590.2" cy="1922.4" rx="4.4" ry="3.8"/><ellipse cx="1481.2" cy="2016.4" rx="4.4" ry="3.8"/><ellipse cx="1538.3" cy="1923.1" rx="4.4" ry="3.8"/><ellipse cx="1405.9" cy="1985.1" rx="4.4" ry="3.8"/><ellipse cx="1495.6" cy="1897.1" rx="4.4" ry="3.8"/><ellipse cx="1503.1" cy="1915.7" rx="4.4" ry="3.8"/><ellipse cx="1521.8" cy="1915.5" rx="4.4" ry="3.8"/><ellipse cx="1409.6" cy="1863.1" rx="4.4" ry="3.8"/><ellipse cx="1420.6" cy="1874.3" rx="4.4" ry="3.8"/><ellipse cx="1562.0" cy="1927.0" rx="4.4" ry="3.8"/><ellipse cx="1519.5" cy="1845.8" rx="4.4" ry="3.8"/><ellipse cx="1460.0" cy="1879.8" rx="4.4" ry="3.8"/><ellipse cx="1516.0" cy="1923.5" rx="4.4" ry="3.8"/><ellipse cx="1566.9" cy="1854.8" rx="4.4" ry="3.8"/><ellipse cx="1496.8" cy="1988.7" rx="4.4" ry="3.8"/><ellipse cx="1439.6" cy="1970.2" rx="4.4" ry="3.8"/><ellipse cx="1545.3" cy="1832.5" rx="4.4" ry="3.8"/><ellipse cx="1472.1" cy="1931.2" rx="4.4" ry="3.8"/><ellipse cx="1454.1" cy="1834.2" rx="4.4" ry="3.8"/><ellipse cx="1443.4" cy="1838.9" rx="4.4" ry="3.8"/><ellipse cx="1565.6" cy="1885.6" rx="4.4" ry="3.8"/><ellipse cx="1469.4" cy="1902.0" rx="4.4" ry="3.8"/><ellipse cx="1479.4" cy="1897.2" rx="4.4" ry="3.8"/><ellipse cx="1466.5" cy="1993.6" rx="4.4" ry="3.8"/><ellipse cx="1465.7" cy="1961.2" rx="4.4" ry="3.8"/><ellipse cx="1501.3" cy="1966.6" rx="4.4" ry="3.8"/><ellipse cx="1474.6" cy="1954.2" rx="4.4" ry="3.8"/><ellipse cx="1461.6" cy="1852.6" rx="4.4" ry="3.8"/><ellipse cx="1423.5" cy="2036.8" rx="4.4" ry="3.8"/><ellipse cx="1482.4" cy="1931.2" rx="4.4" ry="3.8"/><ellipse cx="1397.8" cy="1945.4" rx="4.4" ry="3.8"/><ellipse cx="1534.6" cy="2017.5" rx="4.4" ry="3.8"/><ellipse cx="1498.0" cy="1873.4" rx="4.4" ry="3.8"/><ellipse cx="1357.8" cy="1970.6" rx="4.4" ry="3.8"/><ellipse cx="1590.7" cy="1932.4" rx="4.4" ry="3.8"/><ellipse cx="1419.8" cy="1960.2" rx="4.4" ry="3.8"/><ellipse cx="1467.2" cy="2011.8" rx="4.4" ry="3.8"/><ellipse cx="1565.5" cy="1963.4" rx="4.4" ry="3.8"/><ellipse cx="1361.0" cy="2051.8" rx="4.4" ry="3.8"/><ellipse cx="1347.8" cy="2020.4" rx="4.4" ry="3.8"/><ellipse cx="1309.8" cy="2063.3" rx="4.4" ry="3.8"/><ellipse cx="1234.6" cy="2031.5" rx="4.4" ry="3.8"/><ellipse cx="1267.3" cy="2048.3" rx="4.4" ry="3.8"/><ellipse cx="1303.7" cy="2023.4" rx="4.4" ry="3.8"/><ellipse cx="1258.3" cy="2054.2" rx="4.4" ry="3.8"/><ellipse cx="1334.6" cy="2028.5" rx="4.4" ry="3.8"/><ellipse cx="1328.0" cy="2068.1" rx="4.4" ry="3.8"/><ellipse cx="1273.0" cy="2074.6" rx="4.4" ry="3.8"/><ellipse cx="1263.3" cy="2069.3" rx="4.4" ry="3.8"/><ellipse cx="1312.7" cy="2042.8" rx="4.4" ry="3.8"/><ellipse cx="1286.6" cy="2058.5" rx="4.4" ry="3.8"/><ellipse cx="1273.7" cy="2102.9" rx="4.4" ry="3.8"/><ellipse cx="1239.9" cy="2078.1" rx="4.4" ry="3.8"/><ellipse cx="1248.0" cy="2057.5" rx="4.4" ry="3.8"/><ellipse cx="1285.3" cy="2054.5" rx="4.4" ry="3.8"/><ellipse cx="1300.5" cy="2039.1" rx="4.4" ry="3.8"/><ellipse cx="1247.5" cy="2095.4" rx="4.4" ry="3.8"/><ellipse cx="1306.7" cy="2041.0" rx="4.4" ry="3.8"/><ellipse cx="1278.3" cy="2095.0" rx="4.4" ry="3.8"/><ellipse cx="1274.2" cy="2035.9" rx="4.4" ry="3.8"/><ellipse cx="1262.2" cy="1986.6" rx="4.4" ry="3.8"/><ellipse cx="1321.6" cy="2056.8" rx="4.4" ry="3.8"/><ellipse cx="1306.5" cy="2002.1" rx="4.4" ry="3.8"/><ellipse cx="1319.6" cy="2039.1" rx="4.4" ry="3.8"/><ellipse cx="1290.3" cy="2099.4" rx="4.4" ry="3.8"/><ellipse cx="1318.6" cy="2002.3" rx="4.4" ry="3.8"/><ellipse cx="1272.6" cy="2061.7" rx="4.4" ry="3.8"/><ellipse cx="1281.9" cy="2040.8" rx="4.4" ry="3.8"/><ellipse cx="1292.1" cy="2057.4" rx="4.4" ry="3.8"/><ellipse cx="1200.5" cy="2163.0" rx="4.4" ry="3.8"/><ellipse cx="1200.0" cy="2092.0" rx="4.4" ry="3.8"/><ellipse cx="1230.0" cy="2096.0" rx="4.4" ry="3.8"/><ellipse cx="1336.0" cy="2135.0" rx="4.4" ry="3.8"/><ellipse cx="1383.0" cy="1795.0" rx="4.4" ry="3.8"/><ellipse cx="1469.0" cy="1781.0" rx="4.4" ry="3.8"/><ellipse cx="1301.0" cy="1831.0" rx="4.4" ry="3.8"/><ellipse cx="1359.0" cy="1831.0" rx="4.4" ry="3.8"/><ellipse cx="1564.0" cy="1793.0" rx="4.4" ry="3.8"/><ellipse cx="1590.0" cy="1804.0" rx="4.4" ry="3.8"/><ellipse cx="1294.0" cy="2098.0" rx="4.4" ry="3.8"/><ellipse cx="1354.0" cy="2103.0" rx="4.4" ry="3.8"/><ellipse cx="1369.0" cy="2105.0" rx="4.4" ry="3.8"/><ellipse cx="1381.0" cy="2100.0" rx="4.4" ry="3.8"/>
</g>
<line x1="1200" y1="2055" x2="1600" y2="1882.7" stroke="#ee7a88" stroke-width="1.2"/>
<rect x="1175" y="1760" width="467.5" height="437.5" fill="none" stroke="#000" stroke-width="2"/>
<text x="1244.92" y="2232.8">-10</text>
<text x="1394.62" y="2232.8">0</text>
<text x="1514.99" y="2232.8">10</text>
<text x="1165" y="1792.2" text-anchor="end">5</text>
<text x="1165" y="1894.6" text-anchor="end">4</text>
<text x="1165" y="1997" text-anchor="end">3</text>
<text x="1165" y="2099.6" text-anchor="end">2</text>
<text x="1165" y="2202" text-anchor="end">1</text>
<text x="1188.75" y="1798.8">r=0.54</text>
<text x="1486.23" y="2172">Tumors</text>
<line x1="1779.6" y1="1760" x2="1779.6" y2="2197.5" stroke="#f6f6f6" stroke-width="1"/>
<line x1="1874.7" y1="1760" x2="1874.7" y2="2197.5" stroke="#f6f6f6" stroke-width="1"/>
<line x1="1970.2" y1="1760" x2="1970.2" y2="2197.5" stroke="#f6f6f6" stroke-width="1"/>
<line x1="2065.5" y1="1760" x2="2065.5" y2="2197.5" stroke="#f6f6f6" stroke-width="1"/>
<line x1="1690" y1="1767.5" x2="2157.5" y2="1767.5" stroke="#f6f6f6" stroke-width="1"/>
<line x1="1690" y1="1838.4" x2="2157.5" y2="1838.4" stroke="#f6f6f6" stroke-width="1"/>
<line x1="1690" y1="1909.5" x2="2157.5" y2="1909.5" stroke="#f6f6f6" stroke-width="1"/>
<line x1="1690" y1="1980.4" x2="2157.5" y2="1980.4" stroke="#f6f6f6" stroke-width="1"/>
<line x1="1690" y1="2051" x2="2157.5" y2="2051" stroke="#f6f6f6" stroke-width="1"/>
<line x1="1690" y1="2121.9" x2="2157.5" y2="2121.9" stroke="#f6f6f6" stroke-width="1"/>
<line x1="1690" y1="2192.7" x2="2157.5" y2="2192.7" stroke="#f6f6f6" stroke-width="1"/>
<g fill="#0000ff" fill-opacity="0.32" stroke="#000078" stroke-opacity="0.55" stroke-width="0.8">
<ellipse cx="1940.4" cy="1949.3" rx="3.6" ry="3.35"/><ellipse cx="1988.3" cy="1876.7" rx="3.6" ry="3.35"/><ellipse cx="1976.2" cy="1909.0" rx="3.6" ry="3.35"/><ellipse cx="1978.3" cy="1902.6" rx="3.6" ry="3.35"/><ellipse cx="1996.9" cy="1919.2" rx="3.6" ry="3.35"/><ellipse cx="2025.6" cy="1862.2" rx="3.6" ry="3.35"/><ellipse cx="1950.7" cy="1942.7" rx="3.6" ry="3.35"/><ellipse cx="1964.4" cy="1882.3" rx="3.6" ry="3.35"/><ellipse cx="2031.7" cy="1889.4" rx="3.6" ry="3.35"/><ellipse cx="1963.1" cy="1899.8" rx="3.6" ry="3.35"/><ellipse cx="1988.3" cy="1898.7" rx="3.6" ry="3.35"/><ellipse cx="1990.2" cy="1887.0" rx="3.6" ry="3.35"/><ellipse cx="1913.5" cy="1884.5" rx="3.6" ry="3.35"/><ellipse cx="2006.8" cy="1886.2" rx="3.6" ry="3.35"/><ellipse cx="1902.1" cy="1964.9" rx="3.6" ry="3.35"/><ellipse cx="1984.6" cy="1918.7" rx="3.6" ry="3.35"/><ellipse cx="1975.1" cy="1912.4" rx="3.6" ry="3.35"/><ellipse cx="1947.0" cy="1868.2" rx="3.6" ry="3.35"/><ellipse cx="1966.6" cy="1911.6" rx="3.6" ry="3.35"/><ellipse cx="1962.8" cy="1858.3" rx="3.6" ry="3.35"/><ellipse cx="1958.2" cy="1889.9" rx="3.6" ry="3.35"/><ellipse cx="1997.6" cy="1845.0" rx="3.6" ry="3.35"/><ellipse cx="1940.2" cy="1905.0" rx="3.6" ry="3.35"/><ellipse cx="1978.8" cy="1935.4" rx="3.6" ry="3.35"/><ellipse cx="1988.7" cy="1844.0" rx="3.6" ry="3.35"/><ellipse cx="1940.4" cy="1977.2" rx="3.6" ry="3.35"/><ellipse cx="1980.3" cy="1889.9" rx="3.6" ry="3.35"/><ellipse cx="1987.9" cy="1912.3" rx="3.6" ry="3.35"/><ellipse cx="2030.0" cy="1867.5" rx="3.6" ry="3.35"/><ellipse cx="1950.0" cy="1887.0" rx="3.6" ry="3.35"/><ellipse cx="2006.0" cy="1878.7" rx="3.6" ry="3.35"/><ellipse cx="1980.1" cy="1913.6" rx="3.6" ry="3.35"/><ellipse cx="1941.2" cy="1979.5" rx="3.6" ry="3.35"/><ellipse cx="1966.0" cy="1901.3" rx="3.6" ry="3.35"/><ellipse cx="1965.5" cy="1913.0" rx="3.6" ry="3.35"/><ellipse cx="1962.9" cy="1898.9" rx="3.6" ry="3.35"/><ellipse cx="1995.3" cy="1930.1" rx="3.6" ry="3.35"/><ellipse cx="1998.5" cy="1845.7" rx="3.6" ry="3.35"/><ellipse cx="1962.1" cy="1957.0" rx="3.6" ry="3.35"/><ellipse cx="1974.5" cy="1906.2" rx="3.6" ry="3.35"/><ellipse cx="1967.5" cy="1957.2" rx="3.6" ry="3.35"/><ellipse cx="1959.9" cy="1897.5" rx="3.6" ry="3.35"/><ellipse cx="2008.5" cy="1825.5" rx="3.6" ry="3.35"/><ellipse cx="1959.6" cy="1995.7" rx="3.6" ry="3.35"/><ellipse cx="1974.0" cy="1914.7" rx="3.6" ry="3.35"/><ellipse cx="1909.2" cy="1944.3" rx="3.6" ry="3.35"/><ellipse cx="1941.4" cy="1901.9" rx="3.6" ry="3.35"/><ellipse cx="1948.1" cy="1923.5" rx="3.6" ry="3.35"/><ellipse cx="1964.7" cy="1941.3" rx="3.6" ry="3.35"/><ellipse cx="1899.5" cy="1933.3" rx="3.6" ry="3.35"/><ellipse cx="1997.6" cy="1896.9" rx="3.6" ry="3.35"/><ellipse cx="2020.3" cy="1852.6" rx="3.6" ry="3.35"/><ellipse cx="2006.8" cy="1895.1" rx="3.6" ry="3.35"/><ellipse cx="1932.6" cy="1873.4" rx="3.6" ry="3.35"/><ellipse cx="2036.4" cy="1893.7" rx="3.6" ry="3.35"/><ellipse cx="1978.5" cy="1873.1" rx="3.6" ry="3.35"/><ellipse cx="1914.7" cy="1932.6" rx="3.6" ry="3.35"/><ellipse cx="1977.2" cy="1951.7" rx="3.6" ry="3.35"/><ellipse cx="1963.1" cy="1905.9" rx="3.6" ry="3.35"/><ellipse cx="1970.4" cy="1939.1" rx="3.6" ry="3.35"/><ellipse cx="2025.6" cy="1926.4" rx="3.6" ry="3.35"/><ellipse cx="1975.0" cy="1926.0" rx="3.6" ry="3.35"/><ellipse cx="1941.9" cy="1902.7" rx="3.6" ry="3.35"/><ellipse cx="1962.7" cy="1937.4" rx="3.6" ry="3.35"/><ellipse cx="1902.7" cy="1955.6" rx="3.6" ry="3.35"/><ellipse cx="2039.0" cy="1890.6" rx="3.6" ry="3.35"/><ellipse cx="2021.3" cy="1849.7" rx="3.6" ry="3.35"/><ellipse cx="1985.5" cy="1863.8" rx="3.6" ry="3.35"/><ellipse cx="2027.9" cy="1851.3" rx="3.6" ry="3.35"/><ellipse cx="1961.1" cy="1878.8" rx="3.6" ry="3.35"/><ellipse cx="1984.3" cy="1945.1" rx="3.6" ry="3.35"/><ellipse cx="1974.7" cy="1898.9" rx="3.6" ry="3.35"/><ellipse cx="1959.7" cy="1950.9" rx="3.6" ry="3.35"/><ellipse cx="1979.1" cy="1915.9" rx="3.6" ry="3.35"/><ellipse cx="1977.2" cy="1905.8" rx="3.6" ry="3.35"/><ellipse cx="1998.9" cy="1907.4" rx="3.6" ry="3.35"/><ellipse cx="1927.9" cy="1935.5" rx="3.6" ry="3.35"/><ellipse cx="1968.8" cy="1922.6" rx="3.6" ry="3.35"/><ellipse cx="2015.9" cy="1850.1" rx="3.6" ry="3.35"/><ellipse cx="1953.2" cy="1872.2" rx="3.6" ry="3.35"/><ellipse cx="1955.7" cy="1955.8" rx="3.6" ry="3.35"/><ellipse cx="1954.9" cy="1960.1" rx="3.6" ry="3.35"/><ellipse cx="1977.5" cy="1894.8" rx="3.6" ry="3.35"/><ellipse cx="1979.7" cy="1882.8" rx="3.6" ry="3.35"/><ellipse cx="1988.0" cy="1894.0" rx="3.6" ry="3.35"/><ellipse cx="1914.8" cy="1920.5" rx="3.6" ry="3.35"/><ellipse cx="1992.2" cy="1880.8" rx="3.6" ry="3.35"/><ellipse cx="1904.0" cy="1987.1" rx="3.6" ry="3.35"/><ellipse cx="2022.0" cy="1828.1" rx="3.6" ry="3.35"/><ellipse cx="1975.3" cy="1928.2" rx="3.6" ry="3.35"/><ellipse cx="1990.3" cy="1911.8" rx="3.6" ry="3.35"/><ellipse cx="1926.4" cy="1970.3" rx="3.6" ry="3.35"/><ellipse cx="1964.1" cy="1892.7" rx="3.6" ry="3.35"/><ellipse cx="1990.6" cy="1923.3" rx="3.6" ry="3.35"/><ellipse cx="2003.8" cy="1857.5" rx="3.6" ry="3.35"/><ellipse cx="1987.2" cy="1844.3" rx="3.6" ry="3.35"/><ellipse cx="2002.8" cy="1855.1" rx="3.6" ry="3.35"/><ellipse cx="1948.7" cy="1946.3" rx="3.6" ry="3.35"/><ellipse cx="1983.6" cy="1870.6" rx="3.6" ry="3.35"/><ellipse cx="1996.9" cy="1945.1" rx="3.6" ry="3.35"/><ellipse cx="1928.1" cy="1941.6" rx="3.6" ry="3.35"/><ellipse cx="1979.4" cy="1907.4" rx="3.6" ry="3.35"/><ellipse cx="1980.5" cy="1932.6" rx="3.6" ry="3.35"/><ellipse cx="2000.8" cy="1888.9" rx="3.6" ry="3.35"/><ellipse cx="2008.1" cy="1865.7" rx="3.6" ry="3.35"/><ellipse cx="2034.4" cy="1860.9" rx="3.6" ry="3.35"/><ellipse cx="1968.5" cy="1925.9" rx="3.6" ry="3.35"/><ellipse cx="1943.4" cy="1887.6" rx="3.6" ry="3.35"/><ellipse cx="1951.6" cy="1965.2" rx="3.6" ry="3.35"/><ellipse cx="1996.3" cy="1865.5" rx="3.6" ry="3.35"/><ellipse cx="1971.5" cy="1904.5" rx="3.6" ry="3.35"/><ellipse cx="1952.0" cy="1903.7" rx="3.6" ry="3.35"/><ellipse cx="1943.0" cy="1879.6" rx="3.6" ry="3.35"/><ellipse cx="1948.6" cy="1962.2" rx="3.6" ry="3.35"/><ellipse cx="1993.8" cy="1881.4" rx="3.6" ry="3.35"/><ellipse cx="1986.1" cy="1858.1" rx="3.6" ry="3.35"/><ellipse cx="1987.1" cy="1888.9" rx="3.6" ry="3.35"/><ellipse cx="1960.4" cy="1925.6" rx="3.6" ry="3.35"/><ellipse cx="1971.1" cy="1974.1" rx="3.6" ry="3.35"/><ellipse cx="1944.5" cy="1918.0" rx="3.6" ry="3.35"/><ellipse cx="1985.5" cy="1891.9" rx="3.6" ry="3.35"/><ellipse cx="2031.0" cy="1868.2" rx="3.6" ry="3.35"/><ellipse cx="1916.7" cy="1921.8" rx="3.6" ry="3.35"/><ellipse cx="1895.8" cy="1960.9" rx="3.6" ry="3.35"/><ellipse cx="1963.3" cy="1931.1" rx="3.6" ry="3.35"/><ellipse cx="2005.3" cy="1853.0" rx="3.6" ry="3.35"/><ellipse cx="1979.6" cy="1899.5" rx="3.6" ry="3.35"/><ellipse cx="2028.1" cy="1869.0" rx="3.6" ry="3.35"/><ellipse cx="1964.6" cy="1897.1" rx="3.6" ry="3.35"/><ellipse cx="1991.5" cy="1835.5" rx="3.6" ry="3.35"/><ellipse cx="1945.5" cy="1891.4" rx="3.6" ry="3.35"/><ellipse cx="1928.6" cy="1955.8" rx="3.6" ry="3.35"/><ellipse cx="1917.2" cy="1992.2" rx="3.6" ry="3.35"/><ellipse cx="1933.5" cy="1905.3" rx="3.6" ry="3.35"/><ellipse cx="2059.3" cy="1798.8" rx="3.6" ry="3.35"/><ellipse cx="1959.2" cy="1910.1" rx="3.6" ry="3.35"/><ellipse cx="1902.0" cy="1943.0" rx="3.6" ry="3.35"/><ellipse cx="1981.7" cy="1921.7" rx="3.6" ry="3.35"/><ellipse cx="1971.2" cy="1928.4" rx="3.6" ry="3.35"/><ellipse cx="1990.6" cy="1853.0" rx="3.6" ry="3.35"/><ellipse cx="2008.9" cy="1897.8" rx="3.6" ry="3.35"/><ellipse cx="1972.5" cy="1896.6" rx="3.6" ry="3.35"/><ellipse cx="1976.8" cy="1905.9" rx="3.6" ry="3.35"/><ellipse cx="1963.9" cy="1878.5" rx="3.6" ry="3.35"/><ellipse cx="1999.8" cy="1886.3" rx="3.6" ry="3.35"/><ellipse cx="1990.1" cy="1931.1" rx="3.6" ry="3.35"/><ellipse cx="1944.1" cy="1939.6" rx="3.6" ry="3.35"/><ellipse cx="1970.5" cy="1913.4" rx="3.6" ry="3.35"/><ellipse cx="1953.4" cy="1959.1" rx="3.6" ry="3.35"/><ellipse cx="1932.3" cy="1922.5" rx="3.6" ry="3.35"/><ellipse cx="1980.2" cy="1906.4" rx="3.6" ry="3.35"/><ellipse cx="1979.1" cy="1847.0" rx="3.6" ry="3.35"/><ellipse cx="1928.9" cy="1864.3" rx="3.6" ry="3.35"/><ellipse cx="1956.4" cy="1965.6" rx="3.6" ry="3.35"/><ellipse cx="1964.3" cy="1953.0" rx="3.6" ry="3.35"/><ellipse cx="2005.3" cy="1860.1" rx="3.6" ry="3.35"/><ellipse cx="1901.7" cy="1890.3" rx="3.6" ry="3.35"/><ellipse cx="1950.7" cy="1921.1" rx="3.6" ry="3.35"/><ellipse cx="2022.4" cy="1853.9" rx="3.6" ry="3.35"/><ellipse cx="1962.9" cy="1934.2" rx="3.6" ry="3.35"/><ellipse cx="1988.9" cy="1894.0" rx="3.6" ry="3.35"/><ellipse cx="2016.9" cy="1866.4" rx="3.6" ry="3.35"/><ellipse cx="1979.3" cy="1874.8" rx="3.6" ry="3.35"/><ellipse cx="2002.9" cy="1838.4" rx="3.6" ry="3.35"/><ellipse cx="2001.9" cy="1855.7" rx="3.6" ry="3.35"/><ellipse cx="2012.2" cy="1854.1" rx="3.6" ry="3.35"/><ellipse cx="2019.5" cy="1926.8" rx="3.6" ry="3.35"/><ellipse cx="1951.3" cy="1990.0" rx="3.6" ry="3.35"/><ellipse cx="1943.2" cy="1914.7" rx="3.6" ry="3.35"/><ellipse cx="1943.4" cy="1920.8" rx="3.6" ry="3.35"/><ellipse cx="1983.9" cy="1900.3" rx="3.6" ry="3.35"/><ellipse cx="2036.5" cy="1893.8" rx="3.6" ry="3.35"/><ellipse cx="1970.9" cy="1910.7" rx="3.6" ry="3.35"/><ellipse cx="1937.0" cy="1956.7" rx="3.6" ry="3.35"/><ellipse cx="1926.4" cy="1882.4" rx="3.6" ry="3.35"/><ellipse cx="1926.7" cy="2002.9" rx="3.6" ry="3.35"/><ellipse cx="1994.3" cy="1889.5" rx="3.6" ry="3.35"/><ellipse cx="1927.5" cy="1939.0" rx="3.6" ry="3.35"/><ellipse cx="1924.8" cy="1966.8" rx="3.6" ry="3.35"/><ellipse cx="1974.7" cy="1902.1" rx="3.6" ry="3.35"/><ellipse cx="1938.6" cy="1958.3" rx="3.6" ry="3.35"/><ellipse cx="1973.9" cy="1923.9" rx="3.6" ry="3.35"/><ellipse cx="1952.3" cy="1889.6" rx="3.6" ry="3.35"/><ellipse cx="2056.0" cy="1837.6" rx="3.6" ry="3.35"/><ellipse cx="1972.0" cy="1912.1" rx="3.6" ry="3.35"/><ellipse cx="1990.4" cy="1922.5" rx="3.6" ry="3.35"/><ellipse cx="1943.8" cy="1940.6" rx="3.6" ry="3.35"/><ellipse cx="1998.9" cy="1899.1" rx="3.6" ry="3.35"/><ellipse cx="1928.3" cy="1965.2" rx="3.6" ry="3.35"/><ellipse cx="2009.9" cy="1907.9" rx="3.6" ry="3.35"/><ellipse cx="1933.6" cy="1971.0" rx="3.6" ry="3.35"/><ellipse cx="1965.9" cy="1889.1" rx="3.6" ry="3.35"/><ellipse cx="1966.3" cy="1877.8" rx="3.6" ry="3.35"/><ellipse cx="1978.4" cy="1893.7" rx="3.6" ry="3.35"/><ellipse cx="1959.6" cy="1949.8" rx="3.6" ry="3.35"/><ellipse cx="1966.1" cy="1940.0" rx="3.6" ry="3.35"/><ellipse cx="1953.4" cy="1906.2" rx="3.6" ry="3.35"/><ellipse cx="1992.1" cy="1868.8" rx="3.6" ry="3.35"/><ellipse cx="1944.5" cy="1846.0" rx="3.6" ry="3.35"/><ellipse cx="2029.7" cy="1902.1" rx="3.6" ry="3.35"/><ellipse cx="1991.3" cy="1922.6" rx="3.6" ry="3.35"/><ellipse cx="2030.7" cy="1913.0" rx="3.6" ry="3.35"/><ellipse cx="1960.3" cy="1949.4" rx="3.6" ry="3.35"/><ellipse cx="1993.3" cy="1885.5" rx="3.6" ry="3.35"/><ellipse cx="2019.8" cy="1893.7" rx="3.6" ry="3.35"/><ellipse cx="1991.5" cy="1895.0" rx="3.6" ry="3.35"/><ellipse cx="1974.9" cy="1906.9" rx="3.6" ry="3.35"/><ellipse cx="1968.8" cy="1915.9" rx="3.6" ry="3.35"/><ellipse cx="2010.8" cy="1859.7" rx="3.6" ry="3.35"/><ellipse cx="2028.8" cy="1873.9" rx="3.6" ry="3.35"/><ellipse cx="1980.1" cy="1966.3" rx="3.6" ry="3.35"/><ellipse cx="1991.4" cy="1893.9" rx="3.6" ry="3.35"/><ellipse cx="1932.5" cy="1977.1" rx="3.6" ry="3.35"/><ellipse cx="2052.9" cy="1810.9" rx="3.6" ry="3.35"/><ellipse cx="1983.6" cy="1926.4" rx="3.6" ry="3.35"/><ellipse cx="2011.5" cy="1827.7" rx="3.6" ry="3.35"/><ellipse cx="1987.6" cy="1887.9" rx="3.6" ry="3.35"/><ellipse cx="2007.5" cy="1886.5" rx="3.6" ry="3.35"/><ellipse cx="2002.9" cy="1840.0" rx="3.6" ry="3.35"/><ellipse cx="1931.9" cy="1958.4" rx="3.6" ry="3.35"/><ellipse cx="1916.2" cy="1965.8" rx="3.6" ry="3.35"/><ellipse cx="1962.1" cy="1964.9" rx="3.6" ry="3.35"/><ellipse cx="2000.4" cy="1919.7" rx="3.6" ry="3.35"/><ellipse cx="1963.5" cy="1937.9" rx="3.6" ry="3.35"/><ellipse cx="1974.1" cy="1910.9" rx="3.6" ry="3.35"/><ellipse cx="2015.8" cy="1900.2" rx="3.6" ry="3.35"/><ellipse cx="1950.6" cy="1877.8" rx="3.6" ry="3.35"/><ellipse cx="1934.9" cy="1949.1" rx="3.6" ry="3.35"/><ellipse cx="2001.3" cy="1791.4" rx="3.6" ry="3.35"/><ellipse cx="1932.6" cy="1967.2" rx="3.6" ry="3.35"/><ellipse cx="1999.0" cy="1825.7" rx="3.6" ry="3.35"/><ellipse cx="1963.5" cy="1889.4" rx="3.6" ry="3.35"/><ellipse cx="1991.1" cy="1851.3" rx="3.6" ry="3.35"/><ellipse cx="1972.0" cy="1849.7" rx="3.6" ry="3.35"/><ellipse cx="1978.4" cy="1911.8" rx="3.6" ry="3.35"/><ellipse cx="1984.4" cy="1847.2" rx="3.6" ry="3.35"/><ellipse cx="1985.1" cy="1895.8" rx="3.6" ry="3.35"/><ellipse cx="1932.6" cy="1955.0" rx="3.6" ry="3.35"/><ellipse cx="2011.4" cy="1911.3" rx="3.6" ry="3.35"/><ellipse cx="1948.4" cy="1960.7" rx="3.6" ry="3.35"/><ellipse cx="1971.6" cy="1928.3" rx="3.6" ry="3.35"/><ellipse cx="2005.1" cy="1920.6" rx="3.6" ry="3.35"/><ellipse cx="1966.0" cy="1899.7" rx="3.6" ry="3.35"/><ellipse cx="2022.4" cy="1908.9" rx="3.6" ry="3.35"/><ellipse cx="1969.9" cy="1981.3" rx="3.6" ry="3.35"/><ellipse cx="2034.6" cy="1850.4" rx="3.6" ry="3.35"/><ellipse cx="1985.0" cy="1906.6" rx="3.6" ry="3.35"/><ellipse cx="1991.2" cy="1860.2" rx="3.6" ry="3.35"/><ellipse cx="1990.1" cy="1894.2" rx="3.6" ry="3.35"/><ellipse cx="1969.6" cy="1930.2" rx="3.6" ry="3.35"/><ellipse cx="2026.1" cy="1877.2" rx="3.6" ry="3.35"/><ellipse cx="2000.4" cy="1893.4" rx="3.6" ry="3.35"/><ellipse cx="1957.5" cy="1862.6" rx="3.6" ry="3.35"/><ellipse cx="1981.1" cy="1874.1" rx="3.6" ry="3.35"/><ellipse cx="1997.1" cy="1926.3" rx="3.6" ry="3.35"/><ellipse cx="1993.5" cy="1837.9" rx="3.6" ry="3.35"/><ellipse cx="1973.0" cy="1869.3" rx="3.6" ry="3.35"/><ellipse cx="1960.2" cy="1842.0" rx="3.6" ry="3.35"/><ellipse cx="1961.2" cy="1899.6" rx="3.6" ry="3.35"/><ellipse cx="1979.0" cy="1891.2" rx="3.6" ry="3.35"/><ellipse cx="2002.7" cy="1883.9" rx="3.6" ry="3.35"/><ellipse cx="1913.9" cy="2008.5" rx="3.6" ry="3.35"/><ellipse cx="1971.9" cy="1869.1" rx="3.6" ry="3.35"/><ellipse cx="1944.4" cy="1908.7" rx="3.6" ry="3.35"/><ellipse cx="2012.0" cy="1848.4" rx="3.6" ry="3.35"/><ellipse cx="1924.6" cy="1996.9" rx="3.6" ry="3.35"/><ellipse cx="1988.5" cy="1861.2" rx="3.6" ry="3.35"/><ellipse cx="1986.0" cy="1891.4" rx="3.6" ry="3.35"/><ellipse cx="2000.7" cy="1858.0" rx="3.6" ry="3.35"/><ellipse cx="1907.3" cy="1956.2" rx="3.6" ry="3.35"/><ellipse cx="1943.8" cy="1941.0" rx="3.6" ry="3.35"/><ellipse cx="1978.9" cy="1949.1" rx="3.6" ry="3.35"/><ellipse cx="1964.9" cy="1861.1" rx="3.6" ry="3.35"/><ellipse cx="2011.3" cy="1932.3" rx="3.6" ry="3.35"/><ellipse cx="1958.8" cy="1914.5" rx="3.6" ry="3.35"/><ellipse cx="1979.5" cy="1915.2" rx="3.6" ry="3.35"/><ellipse cx="1999.7" cy="1915.3" rx="3.6" ry="3.35"/><ellipse cx="1975.6" cy="1850.5" rx="3.6" ry="3.35"/><ellipse cx="2071.5" cy="1814.7" rx="3.6" ry="3.35"/><ellipse cx="1928.3" cy="1890.3" rx="3.6" ry="3.35"/><ellipse cx="2008.6" cy="1857.1" rx="3.6" ry="3.35"/><ellipse cx="1998.0" cy="1849.7" rx="3.6" ry="3.35"/><ellipse cx="1977.2" cy="1840.6" rx="3.6" ry="3.35"/><ellipse cx="2007.8" cy="1856.7" rx="3.6" ry="3.35"/><ellipse cx="1985.3" cy="1900.3" rx="3.6" ry="3.35"/><ellipse cx="1963.0" cy="1867.1" rx="3.6" ry="3.35"/><ellipse cx="1986.6" cy="1876.8" rx="3.6" ry="3.35"/><ellipse cx="1960.7" cy="1914.1" rx="3.6" ry="3.35"/><ellipse cx="1969.9" cy="1893.2" rx="3.6" ry="3.35"/><ellipse cx="1991.7" cy="1832.1" rx="3.6" ry="3.35"/><ellipse cx="1922.9" cy="1988.5" rx="3.6" ry="3.35"/><ellipse cx="1931.0" cy="1976.6" rx="3.6" ry="3.35"/><ellipse cx="1960.5" cy="1963.3" rx="3.6" ry="3.35"/><ellipse cx="1998.1" cy="1904.6" rx="3.6" ry="3.35"/><ellipse cx="1920.1" cy="1983.5" rx="3.6" ry="3.35"/><ellipse cx="1982.0" cy="1883.2" rx="3.6" ry="3.35"/><ellipse cx="1913.3" cy="1962.1" rx="3.6" ry="3.35"/><ellipse cx="2011.4" cy="1871.2" rx="3.6" ry="3.35"/><ellipse cx="2005.7" cy="1929.0" rx="3.6" ry="3.35"/><ellipse cx="1990.7" cy="1932.2" rx="3.6" ry="3.35"/><ellipse cx="1970.2" cy="1916.8" rx="3.6" ry="3.35"/><ellipse cx="2008.8" cy="1882.4" rx="3.6" ry="3.35"/><ellipse cx="2020.1" cy="1883.1" rx="3.6" ry="3.35"/><ellipse cx="1973.6" cy="1849.6" rx="3.6" ry="3.35"/><ellipse cx="1928.7" cy="1935.3" rx="3.6" ry="3.35"/><ellipse cx="1994.2" cy="1866.8" rx="3.6" ry="3.35"/><ellipse cx="1959.0" cy="1901.6" rx="3.6" ry="3.35"/><ellipse cx="1928.2" cy="1833.1" rx="3.6" ry="3.35"/><ellipse cx="1950.3" cy="1963.6" rx="3.6" ry="3.35"/><ellipse cx="2048.2" cy="1958.0" rx="3.6" ry="3.35"/><ellipse cx="1998.2" cy="1894.8" rx="3.6" ry="3.35"/><ellipse cx="1927.2" cy="1965.6" rx="3.6" ry="3.35"/><ellipse cx="1961.6" cy="1908.2" rx="3.6" ry="3.35"/><ellipse cx="1966.9" cy="1897.8" rx="3.6" ry="3.35"/><ellipse cx="1932.7" cy="2004.3" rx="3.6" ry="3.35"/><ellipse cx="1971.6" cy="1904.1" rx="3.6" ry="3.35"/><ellipse cx="1976.9" cy="1926.9" rx="3.6" ry="3.35"/><ellipse cx="2000.3" cy="1933.1" rx="3.6" ry="3.35"/><ellipse cx="1969.0" cy="1955.0" rx="3.6" ry="3.35"/><ellipse cx="1911.5" cy="1926.7" rx="3.6" ry="3.35"/><ellipse cx="1973.9" cy="1904.7" rx="3.6" ry="3.35"/><ellipse cx="1948.1" cy="1888.4" rx="3.6" ry="3.35"/><ellipse cx="2011.7" cy="1883.7" rx="3.6" ry="3.35"/><ellipse cx="2039.1" cy="1944.8" rx="3.6" ry="3.35"/><ellipse cx="1919.2" cy="1920.2" rx="3.6" ry="3.35"/><ellipse cx="1944.6" cy="1890.7" rx="3.6" ry="3.35"/><ellipse cx="1979.7" cy="1892.5" rx="3.6" ry="3.35"/><ellipse cx="1947.4" cy="1961.6" rx="3.6" ry="3.35"/><ellipse cx="1941.1" cy="1989.0" rx="3.6" ry="3.35"/><ellipse cx="1959.6" cy="1963.4" rx="3.6" ry="3.35"/><ellipse cx="1935.9" cy="1921.4" rx="3.6" ry="3.35"/><ellipse cx="2028.9" cy="1798.8" rx="3.6" ry="3.35"/><ellipse cx="2004.6" cy="1877.1" rx="3.6" ry="3.35"/><ellipse cx="1957.3" cy="1910.7" rx="3.6" ry="3.35"/><ellipse cx="1983.7" cy="1851.1" rx="3.6" ry="3.35"/><ellipse cx="1935.3" cy="1934.3" rx="3.6" ry="3.35"/><ellipse cx="1960.2" cy="1929.1" rx="3.6" ry="3.35"/><ellipse cx="1926.2" cy="1951.1" rx="3.6" ry="3.35"/><ellipse cx="1996.9" cy="1898.2" rx="3.6" ry="3.35"/><ellipse cx="1960.7" cy="1966.9" rx="3.6" ry="3.35"/><ellipse cx="1907.2" cy="1954.9" rx="3.6" ry="3.35"/><ellipse cx="1958.6" cy="1926.1" rx="3.6" ry="3.35"/><ellipse cx="1973.6" cy="1910.9" rx="3.6" ry="3.35"/><ellipse cx="1938.5" cy="1929.7" rx="3.6" ry="3.35"/><ellipse cx="1936.1" cy="1957.8" rx="3.6" ry="3.35"/><ellipse cx="1950.3" cy="1903.8" rx="3.6" ry="3.35"/><ellipse cx="1967.8" cy="1889.2" rx="3.6" ry="3.35"/><ellipse cx="1957.6" cy="1885.9" rx="3.6" ry="3.35"/><ellipse cx="1983.0" cy="1833.3" rx="3.6" ry="3.35"/><ellipse cx="1959.8" cy="1914.4" rx="3.6" ry="3.35"/><ellipse cx="1972.6" cy="1900.5" rx="3.6" ry="3.35"/><ellipse cx="1995.2" cy="1896.8" rx="3.6" ry="3.35"/><ellipse cx="1983.7" cy="1865.1" rx="3.6" ry="3.35"/><ellipse cx="1964.7" cy="1871.8" rx="3.6" ry="3.35"/><ellipse cx="1971.1" cy="1902.2" rx="3.6" ry="3.35"/><ellipse cx="2007.5" cy="1864.6" rx="3.6" ry="3.35"/><ellipse cx="2012.2" cy="1895.6" rx="3.6" ry="3.35"/><ellipse cx="2000.7" cy="1856.7" rx="3.6" ry="3.35"/><ellipse cx="1966.2" cy="1896.9" rx="3.6" ry="3.35"/><ellipse cx="1989.2" cy="1917.2" rx="3.6" ry="3.35"/><ellipse cx="2019.4" cy="1881.0" rx="3.6" ry="3.35"/><ellipse cx="2011.8" cy="1876.7" rx="3.6" ry="3.35"/><ellipse cx="1966.9" cy="1891.0" rx="3.6" ry="3.35"/><ellipse cx="2019.3" cy="1869.5" rx="3.6" ry="3.35"/><ellipse cx="1975.4" cy="1849.1" rx="3.6" ry="3.35"/><ellipse cx="1945.1" cy="1910.6" rx="3.6" ry="3.35"/><ellipse cx="1934.6" cy="1899.1" rx="3.6" ry="3.35"/><ellipse cx="1972.2" cy="1907.2" rx="3.6" ry="3.35"/><ellipse cx="1999.3" cy="1874.0" rx="3.6" ry="3.35"/><ellipse cx="2043.6" cy="1875.0" rx="3.6" ry="3.35"/><ellipse cx="1937.6" cy="1983.1" rx="3.6" ry="3.35"/><ellipse cx="1979.1" cy="1873.0" rx="3.6" ry="3.35"/><ellipse cx="1979.1" cy="1884.7" rx="3.6" ry="3.35"/><ellipse cx="2011.1" cy="1850.6" rx="3.6" ry="3.35"/><ellipse cx="2011.6" cy="1871.0" rx="3.6" ry="3.35"/><ellipse cx="1967.3" cy="1881.3" rx="3.6" ry="3.35"/><ellipse cx="1973.7" cy="1912.1" rx="3.6" ry="3.35"/><ellipse cx="1960.7" cy="1827.8" rx="3.6" ry="3.35"/><ellipse cx="1964.8" cy="1915.2" rx="3.6" ry="3.35"/><ellipse cx="1994.5" cy="1898.6" rx="3.6" ry="3.35"/><ellipse cx="1973.5" cy="1875.2" rx="3.6" ry="3.35"/><ellipse cx="1911.3" cy="1962.7" rx="3.6" ry="3.35"/><ellipse cx="1970.8" cy="1896.4" rx="3.6" ry="3.35"/><ellipse cx="2020.9" cy="1847.9" rx="3.6" ry="3.35"/><ellipse cx="1980.3" cy="1906.6" rx="3.6" ry="3.35"/><ellipse cx="1995.1" cy="1870.7" rx="3.6" ry="3.35"/><ellipse cx="1948.0" cy="1919.5" rx="3.6" ry="3.35"/><ellipse cx="1972.9" cy="1868.6" rx="3.6" ry="3.35"/><ellipse cx="1941.8" cy="1861.8" rx="3.6" ry="3.35"/><ellipse cx="1999.6" cy="1904.5" rx="3.6" ry="3.35"/><ellipse cx="1967.2" cy="1845.6" rx="3.6" ry="3.35"/><ellipse cx="1996.2" cy="1861.4" rx="3.6" ry="3.35"/><ellipse cx="1955.7" cy="1877.6" rx="3.6" ry="3.35"/><ellipse cx="1987.2" cy="1877.4" rx="3.6" ry="3.35"/><ellipse cx="1993.0" cy="1898.2" rx="3.6" ry="3.35"/><ellipse cx="1953.2" cy="1966.6" rx="3.6" ry="3.35"/><ellipse cx="1954.8" cy="1898.8" rx="3.6" ry="3.35"/><ellipse cx="2006.9" cy="1888.6" rx="3.6" ry="3.35"/><ellipse cx="1988.7" cy="1889.6" rx="3.6" ry="3.35"/><ellipse cx="2003.0" cy="1864.1" rx="3.6" ry="3.35"/><ellipse cx="1951.1" cy="1899.4" rx="3.6" ry="3.35"/><ellipse cx="2031.2" cy="1841.9" rx="3.6" ry="3.35"/><ellipse cx="1956.2" cy="1881.3" rx="3.6" ry="3.35"/><ellipse cx="1954.2" cy="1904.9" rx="3.6" ry="3.35"/><ellipse cx="1925.6" cy="1886.1" rx="3.6" ry="3.35"/><ellipse cx="2008.2" cy="1894.3" rx="3.6" ry="3.35"/><ellipse cx="1934.5" cy="1932.5" rx="3.6" ry="3.35"/><ellipse cx="2018.3" cy="1867.8" rx="3.6" ry="3.35"/><ellipse cx="1961.5" cy="1915.4" rx="3.6" ry="3.35"/><ellipse cx="1956.1" cy="1980.7" rx="3.6" ry="3.35"/><ellipse cx="1935.9" cy="1891.5" rx="3.6" ry="3.35"/><ellipse cx="2036.6" cy="1824.2" rx="3.6" ry="3.35"/><ellipse cx="2045.1" cy="1793.8" rx="3.6" ry="3.35"/><ellipse cx="2019.3" cy="1845.7" rx="3.6" ry="3.35"/><ellipse cx="1965.5" cy="1907.9" rx="3.6" ry="3.35"/><ellipse cx="2009.7" cy="1862.8" rx="3.6" ry="3.35"/><ellipse cx="1964.4" cy="1939.0" rx="3.6" ry="3.35"/><ellipse cx="1976.5" cy="1844.4" rx="3.6" ry="3.35"/><ellipse cx="1969.9" cy="1924.5" rx="3.6" ry="3.35"/><ellipse cx="1960.9" cy="1921.7" rx="3.6" ry="3.35"/><ellipse cx="1924.1" cy="1898.3" rx="3.6" ry="3.35"/><ellipse cx="1959.7" cy="1923.5" rx="3.6" ry="3.35"/><ellipse cx="1994.2" cy="1880.9" rx="3.6" ry="3.35"/><ellipse cx="1990.8" cy="1927.4" rx="3.6" ry="3.35"/><ellipse cx="1961.6" cy="1883.8" rx="3.6" ry="3.35"/><ellipse cx="1995.6" cy="1906.1" rx="3.6" ry="3.35"/><ellipse cx="2039.0" cy="1793.2" rx="3.6" ry="3.35"/><ellipse cx="1976.8" cy="1951.6" rx="3.6" ry="3.35"/><ellipse cx="1989.9" cy="1831.2" rx="3.6" ry="3.35"/><ellipse cx="1983.3" cy="1896.7" rx="3.6" ry="3.35"/><ellipse cx="2011.7" cy="1897.1" rx="3.6" ry="3.35"/><ellipse cx="1996.9" cy="1956.5" rx="3.6" ry="3.35"/><ellipse cx="1975.7" cy="1937.6" rx="3.6" ry="3.35"/><ellipse cx="2022.0" cy="1921.5" rx="3.6" ry="3.35"/><ellipse cx="1979.3" cy="1924.8" rx="3.6" ry="3.35"/><ellipse cx="1968.0" cy="1928.1" rx="3.6" ry="3.35"/><ellipse cx="2026.2" cy="1895.1" rx="3.6" ry="3.35"/><ellipse cx="1998.7" cy="1899.7" rx="3.6" ry="3.35"/><ellipse cx="2016.2" cy="1878.6" rx="3.6" ry="3.35"/><ellipse cx="1901.3" cy="1953.1" rx="3.6" ry="3.35"/><ellipse cx="2055.2" cy="1858.5" rx="3.6" ry="3.35"/><ellipse cx="1996.8" cy="1908.5" rx="3.6" ry="3.35"/><ellipse cx="2032.5" cy="1828.1" rx="3.6" ry="3.35"/><ellipse cx="1992.2" cy="1878.2" rx="3.6" ry="3.35"/><ellipse cx="1993.0" cy="1913.9" rx="3.6" ry="3.35"/><ellipse cx="1952.9" cy="1956.5" rx="3.6" ry="3.35"/><ellipse cx="2016.9" cy="1883.5" rx="3.6" ry="3.35"/><ellipse cx="2004.1" cy="1881.7" rx="3.6" ry="3.35"/><ellipse cx="1950.5" cy="1911.7" rx="3.6" ry="3.35"/><ellipse cx="1964.2" cy="1855.8" rx="3.6" ry="3.35"/><ellipse cx="1949.0" cy="1895.7" rx="3.6" ry="3.35"/><ellipse cx="1941.4" cy="1947.1" rx="3.6" ry="3.35"/><ellipse cx="1988.0" cy="1956.4" rx="3.6" ry="3.35"/><ellipse cx="1975.8" cy="1860.4" rx="3.6" ry="3.35"/><ellipse cx="1921.8" cy="1959.1" rx="3.6" ry="3.35"/><ellipse cx="2014.5" cy="1868.0" rx="3.6" ry="3.35"/><ellipse cx="2019.1" cy="1877.8" rx="3.6" ry="3.35"/><ellipse cx="1980.3" cy="1913.4" rx="3.6" ry="3.35"/><ellipse cx="1952.0" cy="1905.8" rx="3.6" ry="3.35"/><ellipse cx="1980.6" cy="1865.0" rx="3.6" ry="3.35"/><ellipse cx="1982.7" cy="1887.5" rx="3.6" ry="3.35"/><ellipse cx="2023.4" cy="1853.8" rx="3.6" ry="3.35"/><ellipse cx="2000.5" cy="1890.5" rx="3.6" ry="3.35"/><ellipse cx="2029.7" cy="1837.4" rx="3.6" ry="3.35"/><ellipse cx="2029.5" cy="1884.4" rx="3.6" ry="3.35"/><ellipse cx="1943.3" cy="1940.3" rx="3.6" ry="3.35"/><ellipse cx="1981.2" cy="1879.0" rx="3.6" ry="3.35"/><ellipse cx="1955.7" cy="1895.8" rx="3.6" ry="3.35"/><ellipse cx="2021.9" cy="1809.1" rx="3.6" ry="3.35"/><ellipse cx="1994.1" cy="1879.2" rx="3.6" ry="3.35"/><ellipse cx="2006.7" cy="1894.8" rx="3.6" ry="3.35"/><ellipse cx="1991.3" cy="1907.4" rx="3.6" ry="3.35"/><ellipse cx="1921.9" cy="1924.6" rx="3.6" ry="3.35"/><ellipse cx="1864.6" cy="1927.0" rx="3.6" ry="3.35"/><ellipse cx="1974.2" cy="1815.4" rx="3.6" ry="3.35"/><ellipse cx="1952.3" cy="1896.6" rx="3.6" ry="3.35"/><ellipse cx="2017.5" cy="1860.2" rx="3.6" ry="3.35"/><ellipse cx="1962.0" cy="1898.1" rx="3.6" ry="3.35"/><ellipse cx="1977.6" cy="1901.8" rx="3.6" ry="3.35"/><ellipse cx="1993.1" cy="1908.4" rx="3.6" ry="3.35"/><ellipse cx="1895.3" cy="2000.4" rx="3.6" ry="3.35"/><ellipse cx="1918.5" cy="1963.1" rx="3.6" ry="3.35"/><ellipse cx="1883.0" cy="1976.5" rx="3.6" ry="3.35"/><ellipse cx="1980.7" cy="1945.8" rx="3.6" ry="3.35"/><ellipse cx="1881.6" cy="1986.0" rx="3.6" ry="3.35"/><ellipse cx="1943.8" cy="1944.9" rx="3.6" ry="3.35"/><ellipse cx="2018.4" cy="1860.3" rx="3.6" ry="3.35"/><ellipse cx="1966.3" cy="1844.5" rx="3.6" ry="3.35"/><ellipse cx="2017.7" cy="1888.6" rx="3.6" ry="3.35"/><ellipse cx="1857.4" cy="1950.9" rx="3.6" ry="3.35"/><ellipse cx="2012.1" cy="1879.2" rx="3.6" ry="3.35"/><ellipse cx="2075.2" cy="1880.6" rx="3.6" ry="3.35"/><ellipse cx="1995.6" cy="1882.3" rx="3.6" ry="3.35"/><ellipse cx="1929.8" cy="1948.9" rx="3.6" ry="3.35"/><ellipse cx="1957.5" cy="1954.0" rx="3.6" ry="3.35"/><ellipse cx="1906.1" cy="1964.2" rx="3.6" ry="3.35"/><ellipse cx="1972.3" cy="1941.5" rx="3.6" ry="3.35"/><ellipse cx="1901.7" cy="1919.6" rx="3.6" ry="3.35"/><ellipse cx="1929.3" cy="1930.0" rx="3.6" ry="3.35"/><ellipse cx="1837.1" cy="1992.2" rx="3.6" ry="3.35"/><ellipse cx="1978.2" cy="1928.3" rx="3.6" ry="3.35"/><ellipse cx="1931.8" cy="1939.3" rx="3.6" ry="3.35"/><ellipse cx="1977.1" cy="1938.3" rx="3.6" ry="3.35"/><ellipse cx="2055.7" cy="1838.9" rx="3.6" ry="3.35"/><ellipse cx="1883.8" cy="1979.0" rx="3.6" ry="3.35"/><ellipse cx="1878.0" cy="1977.6" rx="3.6" ry="3.35"/><ellipse cx="1935.6" cy="1895.7" rx="3.6" ry="3.35"/><ellipse cx="1984.1" cy="1844.6" rx="3.6" ry="3.35"/><ellipse cx="1941.5" cy="1888.8" rx="3.6" ry="3.35"/><ellipse cx="2014.1" cy="1956.6" rx="3.6" ry="3.35"/><ellipse cx="1934.2" cy="1976.4" rx="3.6" ry="3.35"/><ellipse cx="2027.4" cy="1828.8" rx="3.6" ry="3.35"/><ellipse cx="1883.1" cy="1950.8" rx="3.6" ry="3.35"/><ellipse cx="1938.3" cy="1998.0" rx="3.6" ry="3.35"/><ellipse cx="1936.4" cy="1996.3" rx="3.6" ry="3.35"/><ellipse cx="1986.8" cy="1833.0" rx="3.6" ry="3.35"/><ellipse cx="1946.6" cy="1901.4" rx="3.6" ry="3.35"/><ellipse cx="2032.7" cy="1853.6" rx="3.6" ry="3.35"/><ellipse cx="2032.6" cy="1856.6" rx="3.6" ry="3.35"/><ellipse cx="2004.2" cy="1853.0" rx="3.6" ry="3.35"/><ellipse cx="1923.1" cy="1954.9" rx="3.6" ry="3.35"/><ellipse cx="1987.1" cy="1842.1" rx="3.6" ry="3.35"/><ellipse cx="1969.6" cy="1912.0" rx="3.6" ry="3.35"/><ellipse cx="1975.3" cy="1901.3" rx="3.6" ry="3.35"/><ellipse cx="1937.0" cy="1953.0" rx="3.6" ry="3.35"/><ellipse cx="1959.4" cy="1883.7" rx="3.6" ry="3.35"/><ellipse cx="2009.7" cy="1804.4" rx="3.6" ry="3.35"/><ellipse cx="1874.5" cy="1954.8" rx="3.6" ry="3.35"/><ellipse cx="1885.6" cy="1938.6" rx="3.6" ry="3.35"/><ellipse cx="1935.6" cy="1934.9" rx="3.6" ry="3.35"/><ellipse cx="2040.8" cy="1898.0" rx="3.6" ry="3.35"/><ellipse cx="2042.2" cy="1908.9" rx="3.6" ry="3.35"/><ellipse cx="1888.5" cy="1884.4" rx="3.6" ry="3.35"/><ellipse cx="1904.5" cy="1962.2" rx="3.6" ry="3.35"/><ellipse cx="1935.0" cy="1972.7" rx="3.6" ry="3.35"/><ellipse cx="1912.1" cy="1856.8" rx="3.6" ry="3.35"/><ellipse cx="1991.6" cy="1979.5" rx="3.6" ry="3.35"/><ellipse cx="2025.7" cy="1842.8" rx="3.6" ry="3.35"/><ellipse cx="1807.8" cy="1977.1" rx="3.6" ry="3.35"/><ellipse cx="1934.0" cy="1914.1" rx="3.6" ry="3.35"/><ellipse cx="2008.2" cy="1850.3" rx="3.6" ry="3.35"/><ellipse cx="2016.2" cy="1948.7" rx="3.6" ry="3.35"/><ellipse cx="1876.1" cy="2042.9" rx="3.6" ry="3.35"/><ellipse cx="1924.8" cy="1955.1" rx="3.6" ry="3.35"/><ellipse cx="2010.3" cy="1956.6" rx="3.6" ry="3.35"/><ellipse cx="1978.1" cy="1928.5" rx="3.6" ry="3.35"/><ellipse cx="1887.2" cy="2000.6" rx="3.6" ry="3.35"/><ellipse cx="1989.6" cy="1811.4" rx="3.6" ry="3.35"/><ellipse cx="1893.1" cy="1934.0" rx="3.6" ry="3.35"/><ellipse cx="1905.4" cy="2045.8" rx="3.6" ry="3.35"/><ellipse cx="1975.1" cy="1898.1" rx="3.6" ry="3.35"/><ellipse cx="2051.8" cy="1945.4" rx="3.6" ry="3.35"/><ellipse cx="1953.6" cy="1966.4" rx="3.6" ry="3.35"/><ellipse cx="1989.2" cy="1866.0" rx="3.6" ry="3.35"/><ellipse cx="1937.0" cy="1919.4" rx="3.6" ry="3.35"/><ellipse cx="2005.8" cy="1923.6" rx="3.6" ry="3.35"/><ellipse cx="1970.9" cy="1898.8" rx="3.6" ry="3.35"/><ellipse cx="1943.0" cy="1924.3" rx="3.6" ry="3.35"/><ellipse cx="1963.4" cy="2005.3" rx="3.6" ry="3.35"/><ellipse cx="2002.2" cy="1889.0" rx="3.6" ry="3.35"/><ellipse cx="1974.9" cy="1933.5" rx="3.6" ry="3.35"/><ellipse cx="1973.4" cy="1943.5" rx="3.6" ry="3.35"/><ellipse cx="2041.3" cy="1897.4" rx="3.6" ry="3.35"/><ellipse cx="1888.6" cy="1990.3" rx="3.6" ry="3.35"/><ellipse cx="1988.0" cy="1887.5" rx="3.6" ry="3.35"/><ellipse cx="1991.0" cy="1881.0" rx="3.6" ry="3.35"/><ellipse cx="1877.9" cy="1914.9" rx="3.6" ry="3.35"/><ellipse cx="1881.1" cy="2011.2" rx="3.6" ry="3.35"/><ellipse cx="1831.0" cy="1925.0" rx="3.6" ry="3.35"/><ellipse cx="1954.4" cy="1969.4" rx="3.6" ry="3.35"/><ellipse cx="1918.4" cy="1934.4" rx="3.6" ry="3.35"/><ellipse cx="1929.3" cy="1824.8" rx="3.6" ry="3.35"/><ellipse cx="1962.8" cy="1861.6" rx="3.6" ry="3.35"/><ellipse cx="1925.6" cy="1955.0" rx="3.6" ry="3.35"/><ellipse cx="2089.6" cy="1830.2" rx="3.6" ry="3.35"/><ellipse cx="1978.4" cy="1909.8" rx="3.6" ry="3.35"/><ellipse cx="1830.3" cy="2029.1" rx="3.6" ry="3.35"/><ellipse cx="1990.6" cy="1967.7" rx="3.6" ry="3.35"/><ellipse cx="2008.2" cy="1856.1" rx="3.6" ry="3.35"/><ellipse cx="1901.4" cy="1898.4" rx="3.6" ry="3.35"/><ellipse cx="2047.2" cy="1905.2" rx="3.6" ry="3.35"/><ellipse cx="1970.1" cy="1916.1" rx="3.6" ry="3.35"/><ellipse cx="1970.1" cy="2020.6" rx="3.6" ry="3.35"/><ellipse cx="2009.4" cy="1899.2" rx="3.6" ry="3.35"/><ellipse cx="1937.2" cy="1906.2" rx="3.6" ry="3.35"/><ellipse cx="1894.8" cy="1891.5" rx="3.6" ry="3.35"/><ellipse cx="1863.2" cy="1963.6" rx="3.6" ry="3.35"/><ellipse cx="1949.5" cy="1852.4" rx="3.6" ry="3.35"/><ellipse cx="2016.5" cy="1877.1" rx="3.6" ry="3.35"/><ellipse cx="2019.7" cy="1890.1" rx="3.6" ry="3.35"/><ellipse cx="2034.0" cy="1864.4" rx="3.6" ry="3.35"/><ellipse cx="1875.1" cy="1960.2" rx="3.6" ry="3.35"/><ellipse cx="1969.8" cy="1904.8" rx="3.6" ry="3.35"/><ellipse cx="1952.3" cy="1914.4" rx="3.6" ry="3.35"/><ellipse cx="1960.9" cy="1912.5" rx="3.6" ry="3.35"/><ellipse cx="2028.2" cy="1915.6" rx="3.6" ry="3.35"/><ellipse cx="1920.6" cy="1941.5" rx="3.6" ry="3.35"/><ellipse cx="1987.3" cy="1869.6" rx="3.6" ry="3.35"/><ellipse cx="1997.7" cy="1914.9" rx="3.6" ry="3.35"/><ellipse cx="1921.1" cy="1974.6" rx="3.6" ry="3.35"/><ellipse cx="2004.6" cy="1860.6" rx="3.6" ry="3.35"/><ellipse cx="1979.6" cy="1831.8" rx="3.6" ry="3.35"/><ellipse cx="1933.1" cy="1908.7" rx="3.6" ry="3.35"/><ellipse cx="2018.5" cy="1972.1" rx="3.6" ry="3.35"/><ellipse cx="1864.2" cy="2005.8" rx="3.6" ry="3.35"/><ellipse cx="2076.6" cy="1919.4" rx="3.6" ry="3.35"/><ellipse cx="2014.3" cy="1901.3" rx="3.6" ry="3.35"/><ellipse cx="1844.1" cy="1946.3" rx="3.6" ry="3.35"/><ellipse cx="2003.6" cy="1882.0" rx="3.6" ry="3.35"/><ellipse cx="2021.4" cy="1893.2" rx="3.6" ry="3.35"/><ellipse cx="1874.1" cy="1950.5" rx="3.6" ry="3.35"/><ellipse cx="2044.4" cy="1795.2" rx="3.6" ry="3.35"/><ellipse cx="1916.2" cy="1834.1" rx="3.6" ry="3.35"/><ellipse cx="1983.6" cy="1888.5" rx="3.6" ry="3.35"/><ellipse cx="1960.2" cy="1923.7" rx="3.6" ry="3.35"/><ellipse cx="1972.6" cy="1960.4" rx="3.6" ry="3.35"/><ellipse cx="1846.8" cy="1978.3" rx="3.6" ry="3.35"/><ellipse cx="2026.6" cy="1831.0" rx="3.6" ry="3.35"/><ellipse cx="1944.6" cy="1924.2" rx="3.6" ry="3.35"/><ellipse cx="1988.9" cy="1998.1" rx="3.6" ry="3.35"/><ellipse cx="2080.4" cy="1818.0" rx="3.6" ry="3.35"/><ellipse cx="2005.0" cy="1814.2" rx="3.6" ry="3.35"/><ellipse cx="2015.9" cy="1919.6" rx="3.6" ry="3.35"/><ellipse cx="2080.7" cy="1849.3" rx="3.6" ry="3.35"/><ellipse cx="2001.3" cy="1808.6" rx="3.6" ry="3.35"/><ellipse cx="1932.7" cy="1899.8" rx="3.6" ry="3.35"/><ellipse cx="1965.4" cy="1912.1" rx="3.6" ry="3.35"/><ellipse cx="1964.7" cy="1980.2" rx="3.6" ry="3.35"/><ellipse cx="1930.2" cy="1939.4" rx="3.6" ry="3.35"/><ellipse cx="2008.5" cy="1847.3" rx="3.6" ry="3.35"/><ellipse cx="1929.1" cy="1935.9" rx="3.6" ry="3.35"/><ellipse cx="1937.3" cy="1941.3" rx="3.6" ry="3.35"/><ellipse cx="2048.5" cy="1821.0" rx="3.6" ry="3.35"/><ellipse cx="1984.3" cy="1901.8" rx="3.6" ry="3.35"/><ellipse cx="1941.0" cy="1964.6" rx="3.6" ry="3.35"/><ellipse cx="1978.7" cy="1889.1" rx="3.6" ry="3.35"/><ellipse cx="1963.2" cy="1861.7" rx="3.6" ry="3.35"/><ellipse cx="1978.7" cy="1923.9" rx="3.6" ry="3.35"/><ellipse cx="1932.3" cy="1934.4" rx="3.6" ry="3.35"/><ellipse cx="1960.0" cy="1843.4" rx="3.6" ry="3.35"/><ellipse cx="1976.4" cy="1882.3" rx="3.6" ry="3.35"/><ellipse cx="1976.9" cy="1869.9" rx="3.6" ry="3.35"/><ellipse cx="1893.5" cy="1931.9" rx="3.6" ry="3.35"/><ellipse cx="2077.7" cy="1907.3" rx="3.6" ry="3.35"/><ellipse cx="2015.1" cy="1824.6" rx="3.6" ry="3.35"/><ellipse cx="1936.5" cy="1927.2" rx="3.6" ry="3.35"/><ellipse cx="1982.7" cy="1908.6" rx="3.6" ry="3.35"/><ellipse cx="1967.0" cy="1875.2" rx="3.6" ry="3.35"/><ellipse cx="2048.8" cy="1882.7" rx="3.6" ry="3.35"/><ellipse cx="1999.3" cy="1937.2" rx="3.6" ry="3.35"/><ellipse cx="2038.3" cy="1912.1" rx="3.6" ry="3.35"/><ellipse cx="1942.0" cy="1858.2" rx="3.6" ry="3.35"/><ellipse cx="1897.3" cy="1977.4" rx="3.6" ry="3.35"/><ellipse cx="2078.0" cy="1923.3" rx="3.6" ry="3.35"/><ellipse cx="1935.4" cy="1876.7" rx="3.6" ry="3.35"/><ellipse cx="1905.7" cy="1848.0" rx="3.6" ry="3.35"/><ellipse cx="1990.8" cy="1935.2" rx="3.6" ry="3.35"/><ellipse cx="1975.5" cy="1941.6" rx="3.6" ry="3.35"/><ellipse cx="2018.1" cy="1838.0" rx="3.6" ry="3.35"/><ellipse cx="1998.0" cy="1937.9" rx="3.6" ry="3.35"/><ellipse cx="1816.6" cy="2026.2" rx="3.6" ry="3.35"/><ellipse cx="2064.4" cy="1824.7" rx="3.6" ry="3.35"/><ellipse cx="2038.6" cy="1945.9" rx="3.6" ry="3.35"/><ellipse cx="2027.6" cy="1847.7" rx="3.6" ry="3.35"/><ellipse cx="1995.8" cy="1937.9" rx="3.6" ry="3.35"/><ellipse cx="1910.6" cy="1871.7" rx="3.6" ry="3.35"/><ellipse cx="2085.8" cy="1884.1" rx="3.6" ry="3.35"/><ellipse cx="2004.6" cy="1926.8" rx="3.6" ry="3.35"/><ellipse cx="2000.3" cy="2021.0" rx="3.6" ry="3.35"/><ellipse cx="1925.7" cy="1935.0" rx="3.6" ry="3.35"/><ellipse cx="1976.6" cy="1907.7" rx="3.6" ry="3.35"/><ellipse cx="2044.5" cy="1920.9" rx="3.6" ry="3.35"/><ellipse cx="2056.0" cy="1911.7" rx="3.6" ry="3.35"/><ellipse cx="1995.1" cy="1843.3" rx="3.6" ry="3.35"/><ellipse cx="1931.4" cy="1913.8" rx="3.6" ry="3.35"/><ellipse cx="1983.6" cy="1828.2" rx="3.6" ry="3.35"/><ellipse cx="1886.6" cy="1947.5" rx="3.6" ry="3.35"/><ellipse cx="1961.8" cy="1937.1" rx="3.6" ry="3.35"/><ellipse cx="1861.3" cy="2056.5" rx="3.6" ry="3.35"/><ellipse cx="1876.1" cy="1928.7" rx="3.6" ry="3.35"/><ellipse cx="2073.7" cy="1908.9" rx="3.6" ry="3.35"/><ellipse cx="1903.2" cy="1925.3" rx="3.6" ry="3.35"/><ellipse cx="1978.6" cy="1910.3" rx="3.6" ry="3.35"/><ellipse cx="1911.6" cy="1954.0" rx="3.6" ry="3.35"/><ellipse cx="1991.3" cy="1797.1" rx="3.6" ry="3.35"/><ellipse cx="1814.9" cy="1953.0" rx="3.6" ry="3.35"/><ellipse cx="2088.0" cy="1881.7" rx="3.6" ry="3.35"/><ellipse cx="1779.5" cy="2001.1" rx="3.6" ry="3.35"/><ellipse cx="2018.9" cy="1843.3" rx="3.6" ry="3.35"/><ellipse cx="1954.9" cy="1884.9" rx="3.6" ry="3.35"/><ellipse cx="2003.4" cy="1973.6" rx="3.6" ry="3.35"/><ellipse cx="1899.6" cy="1934.0" rx="3.6" ry="3.35"/><ellipse cx="2006.3" cy="1881.8" rx="3.6" ry="3.35"/><ellipse cx="2035.9" cy="1882.0" rx="3.6" ry="3.35"/><ellipse cx="1828.1" cy="2013.3" rx="3.6" ry="3.35"/><ellipse cx="1944.1" cy="1901.9" rx="3.6" ry="3.35"/><ellipse cx="1962.1" cy="1859.5" rx="3.6" ry="3.35"/><ellipse cx="2016.9" cy="1873.9" rx="3.6" ry="3.35"/><ellipse cx="1997.6" cy="1917.1" rx="3.6" ry="3.35"/><ellipse cx="2007.7" cy="1937.8" rx="3.6" ry="3.35"/><ellipse cx="1902.4" cy="1974.1" rx="3.6" ry="3.35"/><ellipse cx="1851.8" cy="1990.0" rx="3.6" ry="3.35"/><ellipse cx="1954.3" cy="1920.8" rx="3.6" ry="3.35"/><ellipse cx="2004.8" cy="1899.4" rx="3.6" ry="3.35"/><ellipse cx="1880.5" cy="2033.1" rx="3.6" ry="3.35"/><ellipse cx="1897.5" cy="1954.2" rx="3.6" ry="3.35"/><ellipse cx="1977.8" cy="1916.2" rx="3.6" ry="3.35"/><ellipse cx="2015.0" cy="1891.9" rx="3.6" ry="3.35"/><ellipse cx="1930.2" cy="1993.7" rx="3.6" ry="3.35"/><ellipse cx="1996.4" cy="1851.6" rx="3.6" ry="3.35"/><ellipse cx="1996.7" cy="1861.3" rx="3.6" ry="3.35"/><ellipse cx="1988.5" cy="1853.9" rx="3.6" ry="3.35"/><ellipse cx="2019.8" cy="1970.2" rx="3.6" ry="3.35"/><ellipse cx="2029.5" cy="1867.1" rx="3.6" ry="3.35"/><ellipse cx="1935.8" cy="1872.4" rx="3.6" ry="3.35"/><ellipse cx="1953.8" cy="1950.3" rx="3.6" ry="3.35"/><ellipse cx="2022.2" cy="1899.7" rx="3.6" ry="3.35"/><ellipse cx="1926.9" cy="1915.8" rx="3.6" ry="3.35"/><ellipse cx="1993.7" cy="1878.8" rx="3.6" ry="3.35"/><ellipse cx="1902.0" cy="1917.1" rx="3.6" ry="3.35"/><ellipse cx="1906.9" cy="1906.9" rx="3.6" ry="3.35"/><ellipse cx="2017.7" cy="1881.1" rx="3.6" ry="3.35"/><ellipse cx="1929.0" cy="2029.3" rx="3.6" ry="3.35"/><ellipse cx="1989.3" cy="1972.1" rx="3.6" ry="3.35"/><ellipse cx="1990.2" cy="1926.6" rx="3.6" ry="3.35"/><ellipse cx="1925.6" cy="1877.0" rx="3.6" ry="3.35"/><ellipse cx="1931.3" cy="1880.4" rx="3.6" ry="3.35"/><ellipse cx="1897.6" cy="2012.1" rx="3.6" ry="3.35"/><ellipse cx="1926.0" cy="1913.6" rx="3.6" ry="3.35"/><ellipse cx="1958.6" cy="1972.3" rx="3.6" ry="3.35"/><ellipse cx="2025.5" cy="1959.4" rx="3.6" ry="3.35"/><ellipse cx="1875.7" cy="2019.2" rx="3.6" ry="3.35"/><ellipse cx="1907.1" cy="1931.2" rx="3.6" ry="3.35"/><ellipse cx="1997.3" cy="2017.1" rx="3.6" ry="3.35"/><ellipse cx="1999.9" cy="1947.1" rx="3.6" ry="3.35"/><ellipse cx="1790.6" cy="1957.7" rx="3.6" ry="3.35"/><ellipse cx="1930.0" cy="1944.1" rx="3.6" ry="3.35"/><ellipse cx="1892.9" cy="1963.4" rx="3.6" ry="3.35"/><ellipse cx="1959.1" cy="1972.8" rx="3.6" ry="3.35"/><ellipse cx="1976.5" cy="1904.2" rx="3.6" ry="3.35"/><ellipse cx="1830.5" cy="1987.8" rx="3.6" ry="3.35"/><ellipse cx="2025.8" cy="1854.9" rx="3.6" ry="3.35"/><ellipse cx="1939.2" cy="1886.5" rx="3.6" ry="3.35"/><ellipse cx="2045.0" cy="1923.9" rx="3.6" ry="3.35"/><ellipse cx="1805.4" cy="2027.1" rx="3.6" ry="3.35"/><ellipse cx="1889.5" cy="1963.5" rx="3.6" ry="3.35"/><ellipse cx="1943.5" cy="1884.3" rx="3.6" ry="3.35"/><ellipse cx="1808.2" cy="1961.1" rx="3.6" ry="3.35"/><ellipse cx="1941.8" cy="1933.4" rx="3.6" ry="3.35"/><ellipse cx="1882.4" cy="1933.0" rx="3.6" ry="3.35"/><ellipse cx="1823.0" cy="1898.7" rx="3.6" ry="3.35"/><ellipse cx="1910.7" cy="1883.7" rx="3.6" ry="3.35"/><ellipse cx="2009.4" cy="1899.2" rx="3.6" ry="3.35"/><ellipse cx="1976.3" cy="1870.9" rx="3.6" ry="3.35"/><ellipse cx="2022.3" cy="1943.2" rx="3.6" ry="3.35"/><ellipse cx="1962.0" cy="1928.8" rx="3.6" ry="3.35"/><ellipse cx="1962.6" cy="1872.0" rx="3.6" ry="3.35"/><ellipse cx="1930.9" cy="1801.6" rx="3.6" ry="3.35"/><ellipse cx="1983.3" cy="1904.4" rx="3.6" ry="3.35"/><ellipse cx="1844.3" cy="1938.2" rx="3.6" ry="3.35"/><ellipse cx="1893.7" cy="1919.9" rx="3.6" ry="3.35"/><ellipse cx="2015.7" cy="1897.9" rx="3.6" ry="3.35"/><ellipse cx="1887.5" cy="1912.9" rx="3.6" ry="3.35"/><ellipse cx="1903.1" cy="1916.8" rx="3.6" ry="3.35"/><ellipse cx="1940.5" cy="1994.8" rx="3.6" ry="3.35"/><ellipse cx="1924.5" cy="1924.2" rx="3.6" ry="3.35"/><ellipse cx="1974.0" cy="1918.0" rx="3.6" ry="3.35"/><ellipse cx="2024.8" cy="1859.7" rx="3.6" ry="3.35"/><ellipse cx="1970.3" cy="1970.4" rx="3.6" ry="3.35"/><ellipse cx="2088.4" cy="1879.1" rx="3.6" ry="3.35"/><ellipse cx="2021.9" cy="1885.3" rx="3.6" ry="3.35"/><ellipse cx="1891.8" cy="2055.6" rx="3.6" ry="3.35"/><ellipse cx="1923.8" cy="1925.2" rx="3.6" ry="3.35"/><ellipse cx="2066.9" cy="1853.3" rx="3.6" ry="3.35"/><ellipse cx="1925.0" cy="1968.2" rx="3.6" ry="3.35"/><ellipse cx="2013.0" cy="1804.0" rx="3.6" ry="3.35"/><ellipse cx="1951.5" cy="1898.1" rx="3.6" ry="3.35"/><ellipse cx="1934.3" cy="1977.9" rx="3.6" ry="3.35"/><ellipse cx="1865.8" cy="1945.2" rx="3.6" ry="3.35"/><ellipse cx="2036.0" cy="1924.8" rx="3.6" ry="3.35"/><ellipse cx="1996.8" cy="1885.5" rx="3.6" ry="3.35"/><ellipse cx="1952.6" cy="1955.1" rx="3.6" ry="3.35"/><ellipse cx="1880.4" cy="1986.9" rx="3.6" ry="3.35"/><ellipse cx="1990.9" cy="1899.1" rx="3.6" ry="3.35"/><ellipse cx="1961.6" cy="1930.9" rx="3.6" ry="3.35"/><ellipse cx="2052.4" cy="1856.8" rx="3.6" ry="3.35"/><ellipse cx="2090.3" cy="1877.1" rx="3.6" ry="3.35"/><ellipse cx="1999.9" cy="1873.9" rx="3.6" ry="3.35"/><ellipse cx="1971.6" cy="1896.4" rx="3.6" ry="3.35"/><ellipse cx="2023.4" cy="1977.7" rx="3.6" ry="3.35"/><ellipse cx="2038.5" cy="1862.1" rx="3.6" ry="3.35"/><ellipse cx="2028.4" cy="1852.2" rx="3.6" ry="3.35"/><ellipse cx="1889.4" cy="1982.8" rx="3.6" ry="3.35"/><ellipse cx="2018.1" cy="1887.3" rx="3.6" ry="3.35"/><ellipse cx="1978.6" cy="1906.6" rx="3.6" ry="3.35"/><ellipse cx="1988.6" cy="1878.0" rx="3.6" ry="3.35"/><ellipse cx="1850.8" cy="1959.6" rx="3.6" ry="3.35"/><ellipse cx="1992.4" cy="1824.1" rx="3.6" ry="3.35"/><ellipse cx="2030.4" cy="1845.7" rx="3.6" ry="3.35"/><ellipse cx="1890.4" cy="2034.7" rx="3.6" ry="3.35"/><ellipse cx="2023.7" cy="1892.1" rx="3.6" ry="3.35"/><ellipse cx="1819.9" cy="1992.6" rx="3.6" ry="3.35"/><ellipse cx="1937.9" cy="1990.4" rx="3.6" ry="3.35"/><ellipse cx="2008.1" cy="1977.7" rx="3.6" ry="3.35"/><ellipse cx="1958.2" cy="1955.9" rx="3.6" ry="3.35"/><ellipse cx="2029.5" cy="1803.8" rx="3.6" ry="3.35"/><ellipse cx="1929.2" cy="1934.1" rx="3.6" ry="3.35"/><ellipse cx="2025.5" cy="1908.8" rx="3.6" ry="3.35"/><ellipse cx="2006.1" cy="1858.6" rx="3.6" ry="3.35"/><ellipse cx="1991.4" cy="1909.7" rx="3.6" ry="3.35"/><ellipse cx="1967.0" cy="1887.0" rx="3.6" ry="3.35"/><ellipse cx="1962.2" cy="1936.0" rx="3.6" ry="3.35"/><ellipse cx="2024.0" cy="1931.9" rx="3.6" ry="3.35"/><ellipse cx="2013.1" cy="1818.0" rx="3.6" ry="3.35"/><ellipse cx="1950.6" cy="1910.9" rx="3.6" ry="3.35"/><ellipse cx="1971.3" cy="1952.4" rx="3.6" ry="3.35"/><ellipse cx="1914.6" cy="1955.2" rx="3.6" ry="3.35"/><ellipse cx="1902.2" cy="1968.0" rx="3.6" ry="3.35"/><ellipse cx="1907.7" cy="1970.7" rx="3.6" ry="3.35"/><ellipse cx="1886.4" cy="1897.0" rx="3.6" ry="3.35"/><ellipse cx="1854.0" cy="2012.6" rx="3.6" ry="3.35"/><ellipse cx="2069.5" cy="1838.7" rx="3.6" ry="3.35"/><ellipse cx="1955.1" cy="1905.8" rx="3.6" ry="3.35"/><ellipse cx="1886.9" cy="1946.5" rx="3.6" ry="3.35"/><ellipse cx="1949.2" cy="1871.0" rx="3.6" ry="3.35"/><ellipse cx="1955.8" cy="1988.1" rx="3.6" ry="3.35"/><ellipse cx="1924.3" cy="1976.8" rx="3.6" ry="3.35"/><ellipse cx="2001.1" cy="1829.8" rx="3.6" ry="3.35"/><ellipse cx="1998.4" cy="1975.6" rx="3.6" ry="3.35"/><ellipse cx="1883.9" cy="1896.4" rx="3.6" ry="3.35"/><ellipse cx="1895.4" cy="2020.2" rx="3.6" ry="3.35"/><ellipse cx="2024.1" cy="1900.6" rx="3.6" ry="3.35"/><ellipse cx="1908.8" cy="1958.7" rx="3.6" ry="3.35"/><ellipse cx="2061.8" cy="1819.8" rx="3.6" ry="3.35"/><ellipse cx="2010.0" cy="1856.1" rx="3.6" ry="3.35"/><ellipse cx="2030.4" cy="1865.0" rx="3.6" ry="3.35"/><ellipse cx="2037.8" cy="1952.5" rx="3.6" ry="3.35"/><ellipse cx="1903.0" cy="1995.1" rx="3.6" ry="3.35"/><ellipse cx="1960.4" cy="1877.9" rx="3.6" ry="3.35"/><ellipse cx="2035.8" cy="1894.4" rx="3.6" ry="3.35"/><ellipse cx="1920.3" cy="1990.3" rx="3.6" ry="3.35"/><ellipse cx="1970.1" cy="1959.1" rx="3.6" ry="3.35"/><ellipse cx="1934.9" cy="1947.2" rx="3.6" ry="3.35"/><ellipse cx="2009.4" cy="1871.9" rx="3.6" ry="3.35"/><ellipse cx="1943.9" cy="1957.3" rx="3.6" ry="3.35"/><ellipse cx="2053.6" cy="1841.7" rx="3.6" ry="3.35"/><ellipse cx="1998.1" cy="1862.8" rx="3.6" ry="3.35"/><ellipse cx="2002.7" cy="1995.8" rx="3.6" ry="3.35"/><ellipse cx="2104.5" cy="1871.0" rx="3.6" ry="3.35"/><ellipse cx="1878.6" cy="1936.5" rx="3.6" ry="3.35"/><ellipse cx="1956.7" cy="1958.5" rx="3.6" ry="3.35"/><ellipse cx="1975.1" cy="1924.6" rx="3.6" ry="3.35"/><ellipse cx="1951.3" cy="1936.2" rx="3.6" ry="3.35"/><ellipse cx="1967.3" cy="1906.4" rx="3.6" ry="3.35"/><ellipse cx="1931.7" cy="1921.5" rx="3.6" ry="3.35"/><ellipse cx="1842.0" cy="1977.5" rx="3.6" ry="3.35"/><ellipse cx="2002.8" cy="1922.0" rx="3.6" ry="3.35"/><ellipse cx="1943.0" cy="1811.8" rx="3.6" ry="3.35"/><ellipse cx="1893.9" cy="1897.7" rx="3.6" ry="3.35"/><ellipse cx="1887.2" cy="1998.9" rx="3.6" ry="3.35"/><ellipse cx="2082.1" cy="1896.1" rx="3.6" ry="3.35"/><ellipse cx="1877.6" cy="1934.8" rx="3.6" ry="3.35"/><ellipse cx="1982.0" cy="1844.0" rx="3.6" ry="3.35"/><ellipse cx="1984.0" cy="1862.5" rx="3.6" ry="3.35"/><ellipse cx="1983.0" cy="1853.5" rx="3.6" ry="3.35"/><ellipse cx="2027.3" cy="1927.5" rx="3.6" ry="3.35"/><ellipse cx="2029.8" cy="1803.9" rx="3.6" ry="3.35"/><ellipse cx="1878.3" cy="1905.6" rx="3.6" ry="3.35"/><ellipse cx="1928.1" cy="1954.1" rx="3.6" ry="3.35"/><ellipse cx="1963.5" cy="1900.4" rx="3.6" ry="3.35"/><ellipse cx="1967.3" cy="1922.9" rx="3.6" ry="3.35"/><ellipse cx="2043.8" cy="1845.7" rx="3.6" ry="3.35"/><ellipse cx="2025.7" cy="1821.4" rx="3.6" ry="3.35"/><ellipse cx="1993.0" cy="1841.8" rx="3.6" ry="3.35"/><ellipse cx="2042.9" cy="1829.7" rx="3.6" ry="3.35"/><ellipse cx="1944.4" cy="1893.8" rx="3.6" ry="3.35"/><ellipse cx="1922.7" cy="1957.4" rx="3.6" ry="3.35"/><ellipse cx="1989.1" cy="1963.4" rx="3.6" ry="3.35"/><ellipse cx="1915.4" cy="1814.9" rx="3.6" ry="3.35"/><ellipse cx="1994.9" cy="1916.4" rx="3.6" ry="3.35"/><ellipse cx="1881.6" cy="1989.1" rx="3.6" ry="3.35"/><ellipse cx="1982.7" cy="1847.7" rx="3.6" ry="3.35"/><ellipse cx="1928.1" cy="1917.4" rx="3.6" ry="3.35"/><ellipse cx="1990.3" cy="1948.8" rx="3.6" ry="3.35"/><ellipse cx="2002.4" cy="1938.6" rx="3.6" ry="3.35"/><ellipse cx="1926.6" cy="1888.3" rx="3.6" ry="3.35"/><ellipse cx="2026.2" cy="1820.9" rx="3.6" ry="3.35"/><ellipse cx="2086.4" cy="1829.3" rx="3.6" ry="3.35"/><ellipse cx="2090.3" cy="1835.5" rx="3.6" ry="3.35"/><ellipse cx="1959.1" cy="1838.8" rx="3.6" ry="3.35"/><ellipse cx="1853.9" cy="1943.6" rx="3.6" ry="3.35"/><ellipse cx="2028.3" cy="1871.2" rx="3.6" ry="3.35"/><ellipse cx="2025.9" cy="1823.8" rx="3.6" ry="3.35"/><ellipse cx="1978.5" cy="1926.4" rx="3.6" ry="3.35"/><ellipse cx="1976.5" cy="2000.4" rx="3.6" ry="3.35"/><ellipse cx="1870.9" cy="1947.8" rx="3.6" ry="3.35"/><ellipse cx="1935.2" cy="1936.1" rx="3.6" ry="3.35"/><ellipse cx="2025.2" cy="1910.8" rx="3.6" ry="3.35"/><ellipse cx="2104.8" cy="1884.7" rx="3.6" ry="3.35"/><ellipse cx="1951.2" cy="1899.4" rx="3.6" ry="3.35"/><ellipse cx="1877.9" cy="1926.4" rx="3.6" ry="3.35"/><ellipse cx="1956.3" cy="1996.7" rx="3.6" ry="3.35"/><ellipse cx="1971.1" cy="1908.9" rx="3.6" ry="3.35"/><ellipse cx="1912.6" cy="1974.0" rx="3.6" ry="3.35"/><ellipse cx="2080.7" cy="1876.6" rx="3.6" ry="3.35"/><ellipse cx="2039.7" cy="1898.8" rx="3.6" ry="3.35"/><ellipse cx="1941.4" cy="1932.4" rx="3.6" ry="3.35"/><ellipse cx="1994.2" cy="1926.3" rx="3.6" ry="3.35"/><ellipse cx="1988.8" cy="1916.0" rx="3.6" ry="3.35"/><ellipse cx="2039.4" cy="1867.7" rx="3.6" ry="3.35"/><ellipse cx="2096.0" cy="1851.9" rx="3.6" ry="3.35"/><ellipse cx="2012.5" cy="1940.9" rx="3.6" ry="3.35"/><ellipse cx="1876.1" cy="1938.4" rx="3.6" ry="3.35"/><ellipse cx="2016.2" cy="1963.0" rx="3.6" ry="3.35"/><ellipse cx="1937.6" cy="1917.3" rx="3.6" ry="3.35"/><ellipse cx="1995.1" cy="1909.7" rx="3.6" ry="3.35"/><ellipse cx="1978.8" cy="2003.0" rx="3.6" ry="3.35"/><ellipse cx="1967.9" cy="1896.3" rx="3.6" ry="3.35"/><ellipse cx="1893.9" cy="1968.9" rx="3.6" ry="3.35"/><ellipse cx="1904.6" cy="1991.0" rx="3.6" ry="3.35"/><ellipse cx="1859.2" cy="1995.6" rx="3.6" ry="3.35"/><ellipse cx="1977.3" cy="1987.7" rx="3.6" ry="3.35"/><ellipse cx="2038.4" cy="1874.1" rx="3.6" ry="3.35"/><ellipse cx="1948.0" cy="1932.9" rx="3.6" ry="3.35"/><ellipse cx="1930.4" cy="1939.2" rx="3.6" ry="3.35"/><ellipse cx="1849.9" cy="1964.9" rx="3.6" ry="3.35"/><ellipse cx="1782.2" cy="1975.7" rx="3.6" ry="3.35"/><ellipse cx="2073.6" cy="1856.5" rx="3.6" ry="3.35"/><ellipse cx="1941.8" cy="1993.1" rx="3.6" ry="3.35"/><ellipse cx="1987.0" cy="1873.5" rx="3.6" ry="3.35"/><ellipse cx="1925.8" cy="1903.2" rx="3.6" ry="3.35"/><ellipse cx="1997.9" cy="1858.0" rx="3.6" ry="3.35"/><ellipse cx="1986.4" cy="1881.3" rx="3.6" ry="3.35"/><ellipse cx="1990.8" cy="1832.0" rx="3.6" ry="3.35"/><ellipse cx="1983.7" cy="1968.9" rx="3.6" ry="3.35"/><ellipse cx="2024.1" cy="1846.1" rx="3.6" ry="3.35"/><ellipse cx="2009.5" cy="1932.8" rx="3.6" ry="3.35"/><ellipse cx="1971.5" cy="1879.9" rx="3.6" ry="3.35"/><ellipse cx="1965.5" cy="1820.2" rx="3.6" ry="3.35"/><ellipse cx="1970.5" cy="1851.2" rx="3.6" ry="3.35"/><ellipse cx="1808.5" cy="1951.9" rx="3.6" ry="3.35"/><ellipse cx="1829.1" cy="2011.9" rx="3.6" ry="3.35"/><ellipse cx="1860.0" cy="1995.3" rx="3.6" ry="3.35"/><ellipse cx="1833.7" cy="2030.2" rx="3.6" ry="3.35"/><ellipse cx="1810.0" cy="2034.4" rx="3.6" ry="3.35"/><ellipse cx="1783.6" cy="2010.2" rx="3.6" ry="3.35"/><ellipse cx="1886.9" cy="1910.6" rx="3.6" ry="3.35"/><ellipse cx="1914.0" cy="1969.5" rx="3.6" ry="3.35"/><ellipse cx="1812.1" cy="2017.8" rx="3.6" ry="3.35"/><ellipse cx="1846.6" cy="1979.8" rx="3.6" ry="3.35"/><ellipse cx="1847.2" cy="1993.7" rx="3.6" ry="3.35"/><ellipse cx="1887.6" cy="1957.2" rx="3.6" ry="3.35"/><ellipse cx="1735.1" cy="2045.5" rx="3.6" ry="3.35"/><ellipse cx="1798.3" cy="2022.6" rx="3.6" ry="3.35"/><ellipse cx="1865.8" cy="2062.2" rx="3.6" ry="3.35"/><ellipse cx="1832.5" cy="1930.9" rx="3.6" ry="3.35"/><ellipse cx="1843.4" cy="2009.2" rx="3.6" ry="3.35"/><ellipse cx="1860.4" cy="1968.4" rx="3.6" ry="3.35"/><ellipse cx="1824.5" cy="1963.8" rx="3.6" ry="3.35"/><ellipse cx="1831.6" cy="1953.8" rx="3.6" ry="3.35"/><ellipse cx="1841.3" cy="2014.0" rx="3.6" ry="3.35"/><ellipse cx="1901.8" cy="2017.2" rx="3.6" ry="3.35"/><ellipse cx="1840.1" cy="1998.6" rx="3.6" ry="3.35"/><ellipse cx="1824.7" cy="1983.1" rx="3.6" ry="3.35"/><ellipse cx="1907.4" cy="1956.6" rx="3.6" ry="3.35"/><ellipse cx="1829.9" cy="1985.8" rx="3.6" ry="3.35"/><ellipse cx="1870.4" cy="1988.3" rx="3.6" ry="3.35"/><ellipse cx="1865.9" cy="1991.7" rx="3.6" ry="3.35"/><ellipse cx="1841.4" cy="2034.7" rx="3.6" ry="3.35"/><ellipse cx="1855.2" cy="1963.9" rx="3.6" ry="3.35"/><ellipse cx="1843.4" cy="1983.2" rx="3.6" ry="3.35"/><ellipse cx="1874.8" cy="1998.4" rx="3.6" ry="3.35"/><ellipse cx="1857.0" cy="2009.6" rx="3.6" ry="3.35"/><ellipse cx="1857.0" cy="1991.8" rx="3.6" ry="3.35"/><ellipse cx="1863.3" cy="1984.2" rx="3.6" ry="3.35"/><ellipse cx="1882.1" cy="1995.3" rx="3.6" ry="3.35"/><ellipse cx="1842.2" cy="1957.0" rx="3.6" ry="3.35"/><ellipse cx="1861.4" cy="1954.1" rx="3.6" ry="3.35"/><ellipse cx="1810.4" cy="2031.9" rx="3.6" ry="3.35"/><ellipse cx="1889.6" cy="1980.9" rx="3.6" ry="3.35"/><ellipse cx="1828.2" cy="2014.7" rx="3.6" ry="3.35"/><ellipse cx="1893.7" cy="2001.3" rx="3.6" ry="3.35"/><ellipse cx="1864.9" cy="1991.5" rx="3.6" ry="3.35"/><ellipse cx="1836.3" cy="2010.2" rx="3.6" ry="3.35"/><ellipse cx="1823.5" cy="2036.8" rx="3.6" ry="3.35"/><ellipse cx="1855.5" cy="1980.1" rx="3.6" ry="3.35"/><ellipse cx="1877.4" cy="1991.6" rx="3.6" ry="3.35"/><ellipse cx="1870.2" cy="1983.9" rx="3.6" ry="3.35"/><ellipse cx="1892.2" cy="1956.4" rx="3.6" ry="3.35"/><ellipse cx="1868.2" cy="1974.7" rx="3.6" ry="3.35"/><ellipse cx="1894.7" cy="1936.9" rx="3.6" ry="3.35"/><ellipse cx="1864.3" cy="1963.7" rx="3.6" ry="3.35"/><ellipse cx="1845.8" cy="2029.4" rx="3.6" ry="3.35"/><ellipse cx="1871.0" cy="1946.4" rx="3.6" ry="3.35"/><ellipse cx="1846.7" cy="2030.3" rx="3.6" ry="3.35"/><ellipse cx="1717.0" cy="2076.0" rx="3.6" ry="3.35"/><ellipse cx="1751.0" cy="2070.0" rx="3.6" ry="3.35"/><ellipse cx="1834.0" cy="2160.0" rx="3.6" ry="3.35"/><ellipse cx="1756.0" cy="2015.0" rx="3.6" ry="3.35"/><ellipse cx="1773.0" cy="2048.0" rx="3.6" ry="3.35"/><ellipse cx="1810.0" cy="2048.0" rx="3.6" ry="3.35"/><ellipse cx="1844.0" cy="2058.0" rx="3.6" ry="3.35"/>
</g>
<line x1="1718" y1="2054" x2="2105.7" y2="1834.3" stroke="#ee7a88" stroke-width="1.2"/>
<rect x="1690" y="1760" width="467.5" height="437.5" fill="none" stroke="#000" stroke-width="2"/>
<text x="1754.12" y="2233.5">-20</text>
<text x="1845.22" y="2233.5">-10</text>
<text x="1961.62" y="2233.5">0</text>
<text x="2048.39" y="2233.5">10</text>
<text x="1684" y="1779.4" text-anchor="end">11</text>
<text x="1684" y="1850.3" text-anchor="end">10</text>
<text x="1684" y="1921.4" text-anchor="end">9</text>
<text x="1684" y="1992.3" text-anchor="end">8</text>
<text x="1684" y="2062.9" text-anchor="end">7</text>
<text x="1684" y="2133.8" text-anchor="end">6</text>
<text x="1684" y="2204.6" text-anchor="end">5</text>
<text x="1702.75" y="1798.8">r=0.64</text>
<text x="2028.89" y="2172">CCLE</text>
</svg></body></html>
